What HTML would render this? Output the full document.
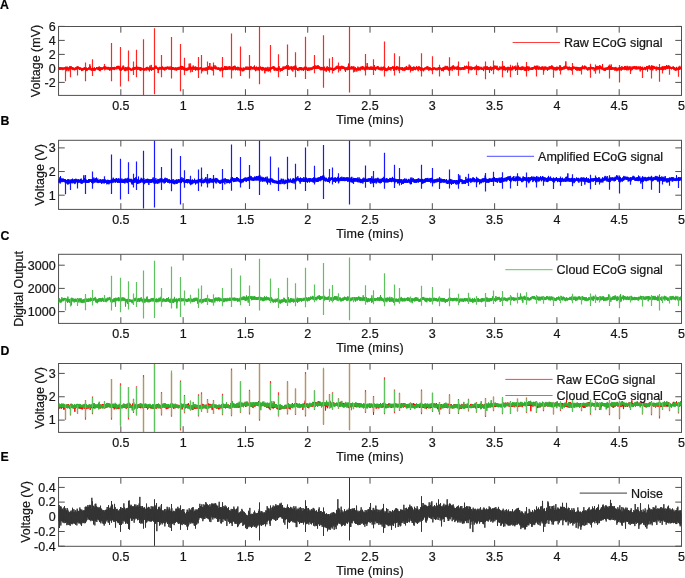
<!DOCTYPE html>
<html><head><meta charset="utf-8"><style>
html,body{margin:0;padding:0;background:#fff;}
body{width:685px;height:578px;position:relative;overflow:hidden;}
svg text{font-family:"Liberation Sans",sans-serif;font-size:12.5px;fill:#161616;stroke:#161616;stroke-width:0.22px;}
</style></head><body>
<svg width="685" height="578" viewBox="0 0 685 578" style="position:absolute;left:0;top:0;will-change:transform;filter:blur(0.25px)">
<rect x="58.55" y="26.5" width="622.95" height="68.90" fill="none" stroke="#505050" stroke-width="1"/>
<path d="M120.84 95.4v-6.2M120.84 26.5v6.2M183.14 95.4v-6.2M183.14 26.5v6.2M245.44 95.4v-6.2M245.44 26.5v6.2M307.73 95.4v-6.2M307.73 26.5v6.2M370.03 95.4v-6.2M370.03 26.5v6.2M432.32 95.4v-6.2M432.32 26.5v6.2M494.62 95.4v-6.2M494.62 26.5v6.2M556.91 95.4v-6.2M556.91 26.5v6.2M619.20 95.4v-6.2M619.20 26.5v6.2M681.50 95.4v-6.2M681.50 26.5v6.2M58.55 26.4h6.2M681.5 26.4h-6.2M58.55 40.4h6.2M681.5 40.4h-6.2M58.55 54.4h6.2M681.5 54.4h-6.2M58.55 68.4h6.2M681.5 68.4h-6.2M58.55 82.4h6.2M681.5 82.4h-6.2" stroke="#505050" stroke-width="1" fill="none"/>
<rect x="58.55" y="140.3" width="622.95" height="69.10" fill="none" stroke="#505050" stroke-width="1"/>
<path d="M120.84 209.4v-6.2M120.84 140.3v6.2M183.14 209.4v-6.2M183.14 140.3v6.2M245.44 209.4v-6.2M245.44 140.3v6.2M307.73 209.4v-6.2M307.73 140.3v6.2M370.03 209.4v-6.2M370.03 140.3v6.2M432.32 209.4v-6.2M432.32 140.3v6.2M494.62 209.4v-6.2M494.62 140.3v6.2M556.91 209.4v-6.2M556.91 140.3v6.2M619.20 209.4v-6.2M619.20 140.3v6.2M681.50 209.4v-6.2M681.50 140.3v6.2M58.55 147.9h6.2M681.5 147.9h-6.2M58.55 171.55h6.2M681.5 171.55h-6.2M58.55 195.2h6.2M681.5 195.2h-6.2" stroke="#505050" stroke-width="1" fill="none"/>
<rect x="58.55" y="254.3" width="622.95" height="69.10" fill="none" stroke="#505050" stroke-width="1"/>
<path d="M120.84 323.4v-6.2M120.84 254.3v6.2M183.14 323.4v-6.2M183.14 254.3v6.2M245.44 323.4v-6.2M245.44 254.3v6.2M307.73 323.4v-6.2M307.73 254.3v6.2M370.03 323.4v-6.2M370.03 254.3v6.2M432.32 323.4v-6.2M432.32 254.3v6.2M494.62 323.4v-6.2M494.62 254.3v6.2M556.91 323.4v-6.2M556.91 254.3v6.2M619.20 323.4v-6.2M619.20 254.3v6.2M681.50 323.4v-6.2M681.50 254.3v6.2M58.55 265.2h6.2M681.5 265.2h-6.2M58.55 288.4h6.2M681.5 288.4h-6.2M58.55 311.6h6.2M681.5 311.6h-6.2" stroke="#505050" stroke-width="1" fill="none"/>
<rect x="58.55" y="363.5" width="622.95" height="68.90" fill="none" stroke="#505050" stroke-width="1"/>
<path d="M120.84 432.4v-6.2M120.84 363.5v6.2M183.14 432.4v-6.2M183.14 363.5v6.2M245.44 432.4v-6.2M245.44 363.5v6.2M307.73 432.4v-6.2M307.73 363.5v6.2M370.03 432.4v-6.2M370.03 363.5v6.2M432.32 432.4v-6.2M432.32 363.5v6.2M494.62 432.4v-6.2M494.62 363.5v6.2M556.91 432.4v-6.2M556.91 363.5v6.2M619.20 432.4v-6.2M619.20 363.5v6.2M681.50 432.4v-6.2M681.50 363.5v6.2M58.55 373.4h6.2M681.5 373.4h-6.2M58.55 396.75h6.2M681.5 396.75h-6.2M58.55 420.1h6.2M681.5 420.1h-6.2" stroke="#505050" stroke-width="1" fill="none"/>
<rect x="58.55" y="477.5" width="622.95" height="68.80" fill="none" stroke="#505050" stroke-width="1"/>
<path d="M120.84 546.3v-6.2M120.84 477.5v6.2M183.14 546.3v-6.2M183.14 477.5v6.2M245.44 546.3v-6.2M245.44 477.5v6.2M307.73 546.3v-6.2M307.73 477.5v6.2M370.03 546.3v-6.2M370.03 477.5v6.2M432.32 546.3v-6.2M432.32 477.5v6.2M494.62 546.3v-6.2M494.62 477.5v6.2M556.91 546.3v-6.2M556.91 477.5v6.2M619.20 546.3v-6.2M619.20 477.5v6.2M681.50 546.3v-6.2M681.50 477.5v6.2M58.55 487.4h6.2M681.5 487.4h-6.2M58.55 502.1h6.2M681.5 502.1h-6.2M58.55 516.8h6.2M681.5 516.8h-6.2M58.55 531.5h6.2M681.5 531.5h-6.2M58.55 546.2h6.2M681.5 546.2h-6.2" stroke="#505050" stroke-width="1" fill="none"/>
<polyline fill="none" stroke="#ff0000" stroke-width="1.0" stroke-linejoin="round" points="58.85,69.7 59.18,67.3 59.52,69.8 59.85,67.1 60.18,69.9 60.52,67.5 60.85,69.6 61.18,67.3 61.52,69.5 61.85,67.7 62.18,69.4 62.52,67.5 62.85,70.2 63.18,68.2 63.52,69.5 63.85,67.3 64.18,69.0 64.52,67.5 64.85,69.7 65.18,67.4 65.52,68.7 65.85,66.6 66.18,69.6 66.52,67.1 66.85,71.2 67.18,66.6 67.52,69.6 67.85,67.5 68.18,69.3 68.52,67.8 68.85,71.2 69.18,67.0 69.52,69.4 69.85,66.0 70.18,69.3 70.52,66.6 70.85,69.0 71.18,66.2 71.52,68.9 71.85,67.5 72.18,70.1 72.52,67.2 72.85,69.4 73.18,67.4 73.52,69.8 73.85,67.9 74.18,70.2 74.52,68.2 74.85,70.3 75.18,67.5 75.52,69.6 75.85,67.2 76.18,69.7 76.52,67.0 76.85,69.3 77.18,66.2 77.52,69.0 77.85,66.6 78.18,69.3 78.52,66.7 78.85,68.8 79.18,67.2 79.52,70.0 79.85,67.4 80.18,69.4 80.52,67.6 80.85,69.8 81.18,67.8 81.52,71.1 81.85,68.2 82.18,70.9 82.52,68.2 82.85,70.3 83.18,67.9 83.52,70.2 83.85,67.7 84.18,69.8 84.52,67.1 84.85,70.0 85.18,67.8 85.52,70.3 85.85,68.2 86.18,71.1 86.52,67.5 86.85,70.4 87.18,68.0 87.52,70.5 87.85,68.0 88.18,69.8 88.52,67.5 88.85,69.8 89.18,67.5 89.52,69.4 89.85,64.3 90.18,70.3 90.52,66.4 90.85,69.8 91.18,68.2 91.52,70.7 91.85,68.0 92.18,70.3 92.52,67.7 92.85,69.9 93.18,67.9 93.52,70.7 93.85,67.9 94.18,70.6 94.52,67.4 94.85,70.9 95.18,68.0 95.52,70.1 95.85,68.1 96.18,69.4 96.52,67.0 96.85,69.1 97.18,67.4 97.52,69.5 97.85,67.4 98.18,70.1 98.52,67.0 98.85,70.2 99.18,66.4 99.52,71.0 99.85,67.5 100.18,71.2 100.52,67.0 100.85,70.1 101.18,67.4 101.52,70.0 101.85,67.4 102.18,70.0 102.52,67.7 102.85,69.4 103.18,67.0 103.52,68.9 103.85,66.5 104.18,68.9 104.52,66.3 104.85,68.7 105.18,66.4 105.52,69.5 105.85,66.5 106.18,69.2 106.52,67.4 106.85,69.4 107.18,66.9 107.52,69.4 107.85,67.2 108.18,69.4 108.52,66.9 108.85,69.8 109.18,67.3 109.52,70.5 109.85,67.5 110.18,70.2 110.52,67.1 110.85,70.3 111.18,67.6 111.52,70.7 111.85,67.6 112.18,69.5 112.52,67.0 112.85,69.4 113.18,67.2 113.52,69.5 113.85,67.0 114.18,70.1 114.52,66.9 114.85,69.4 115.18,67.7 115.52,69.2 115.85,67.1 116.18,68.2 116.52,66.4 116.85,69.5 117.18,66.1 117.52,68.6 117.85,65.8 118.18,68.4 118.52,65.9 118.85,69.2 119.18,67.7 119.52,70.1 119.85,65.9 120.18,70.6 120.52,67.9 120.85,70.5 121.18,68.3 121.52,70.5 121.85,67.5 122.18,69.9 122.52,66.6 122.85,69.7 123.18,65.5 123.52,68.9 123.85,66.5 124.18,70.4 124.52,68.1 124.85,71.1 125.18,67.3 125.52,71.1 125.85,67.0 126.18,70.6 126.52,67.6 126.85,70.1 127.18,68.0 127.52,70.4 127.85,66.7 128.18,70.0 128.52,67.7 128.85,69.8 129.18,67.4 129.52,69.7 129.85,67.8 130.18,70.1 130.52,68.1 130.85,70.7 131.18,69.0 131.52,70.6 131.85,68.5 132.18,70.5 132.52,67.7 132.85,70.0 133.18,67.9 133.52,69.8 133.85,67.1 134.18,69.6 134.52,67.1 134.85,70.0 135.18,66.9 135.52,69.3 135.85,67.0 136.18,68.8 136.52,65.3 136.85,69.2 137.18,67.2 137.52,69.9 137.85,66.7 138.18,69.6 138.52,67.1 138.85,69.5 139.18,67.8 139.52,69.9 139.85,66.9 140.18,71.0 140.52,67.4 140.85,70.8 141.18,67.5 141.52,69.7 141.85,67.9 142.18,70.1 142.52,68.4 142.85,70.1 143.18,67.9 143.52,70.8 143.85,68.3 144.18,70.8 144.52,68.4 144.85,70.1 145.18,68.0 145.52,70.1 145.85,67.6 146.18,70.7 146.52,67.1 146.85,69.4 147.18,66.8 147.52,69.4 147.85,67.7 148.18,70.4 148.52,67.5 148.85,70.0 149.18,68.1 149.52,71.4 149.85,65.7 150.18,69.9 150.52,67.4 150.85,70.1 151.18,64.9 151.52,70.8 151.85,67.5 152.18,70.1 152.52,67.6 152.85,69.9 153.18,67.7 153.52,69.8 153.85,67.5 154.18,68.9 154.52,66.4 154.85,69.2 155.18,66.2 155.52,68.4 155.85,65.5 156.18,68.5 156.52,66.5 156.85,69.0 157.18,67.4 157.52,69.8 157.85,67.4 158.18,73.1 158.52,67.8 158.85,70.2 159.18,67.7 159.52,69.6 159.85,66.8 160.18,68.9 160.52,67.0 160.85,69.8 161.18,67.7 161.52,69.6 161.85,66.8 162.18,69.2 162.52,66.5 162.85,69.7 163.18,67.1 163.52,69.7 163.85,67.6 164.18,70.2 164.52,67.7 164.85,70.5 165.18,66.8 165.52,69.3 165.85,67.1 166.18,69.8 166.52,67.2 166.85,69.1 167.18,66.4 167.52,69.1 167.85,66.8 168.18,69.1 168.52,66.8 168.85,69.7 169.18,67.4 169.52,69.4 169.85,66.5 170.18,69.7 170.52,67.6 170.85,69.5 171.18,66.2 171.52,70.2 171.85,67.1 172.18,69.9 172.52,67.1 172.85,69.9 173.18,67.1 173.52,69.5 173.85,67.5 174.18,69.8 174.52,67.9 174.85,70.3 175.18,67.6 175.52,69.9 175.85,67.3 176.18,70.7 176.52,67.9 176.85,70.3 177.18,67.6 177.52,69.8 177.85,67.2 178.18,69.9 178.52,67.5 178.85,69.8 179.18,66.7 179.52,69.5 179.85,67.2 180.18,68.9 180.52,66.2 180.85,68.8 181.18,65.8 181.52,69.7 181.85,66.0 182.18,69.8 182.52,66.0 182.85,69.2 183.18,66.6 183.52,70.1 183.85,67.1 184.18,69.9 184.52,67.5 184.85,70.6 185.18,68.3 185.52,70.3 185.85,67.7 186.18,70.1 186.52,68.2 186.85,71.0 187.18,68.7 187.52,70.2 187.85,67.5 188.18,70.2 188.52,67.6 188.85,70.0 189.18,63.6 189.52,69.4 189.85,67.5 190.18,69.4 190.52,66.4 190.85,69.2 191.18,67.2 191.52,69.8 191.85,66.8 192.18,71.9 192.52,66.9 192.85,69.1 193.18,65.5 193.52,69.8 193.85,66.8 194.18,69.6 194.52,67.0 194.85,69.7 195.18,66.5 195.52,70.6 195.85,66.7 196.18,69.9 196.52,67.3 196.85,70.1 197.18,67.0 197.52,70.1 197.85,67.8 198.18,70.4 198.52,67.9 198.85,70.1 199.18,67.9 199.52,69.5 199.85,67.3 200.18,69.2 200.52,67.2 200.85,69.5 201.18,67.3 201.52,69.7 201.85,67.6 202.18,71.0 202.52,68.0 202.85,71.3 203.18,68.4 203.52,70.0 203.85,67.7 204.18,69.8 204.52,68.0 204.85,70.7 205.18,67.6 205.52,70.4 205.85,67.7 206.18,70.6 206.52,67.4 206.85,70.4 207.18,68.3 207.52,70.0 207.85,67.7 208.18,69.8 208.52,66.0 208.85,69.6 209.18,67.1 209.52,69.2 209.85,63.0 210.18,69.8 210.52,67.7 210.85,69.6 211.18,66.6 211.52,69.7 211.85,66.8 212.18,70.7 212.52,67.4 212.85,70.1 213.18,66.7 213.52,68.9 213.85,65.1 214.18,68.5 214.52,66.8 214.85,69.0 215.18,65.4 215.52,69.3 215.85,66.7 216.18,69.1 216.52,66.7 216.85,69.5 217.18,67.4 217.52,69.6 217.85,67.8 218.18,69.9 218.52,67.4 218.85,69.9 219.18,67.7 219.52,70.3 219.85,67.8 220.18,71.3 220.52,68.0 220.85,70.2 221.18,67.2 221.52,69.9 221.85,67.5 222.18,71.1 222.52,68.3 222.85,70.7 223.18,68.2 223.52,69.9 223.85,67.6 224.18,69.9 224.52,66.1 224.85,69.5 225.18,67.0 225.52,70.1 225.85,66.0 226.18,70.0 226.52,66.7 226.85,70.0 227.18,66.6 227.52,69.8 227.85,66.9 228.18,69.6 228.52,66.8 228.85,69.2 229.18,66.1 229.52,69.5 229.85,66.0 230.18,69.5 230.52,67.0 230.85,69.5 231.18,67.1 231.52,69.6 231.85,67.0 232.18,70.3 232.52,67.0 232.85,70.1 233.18,66.0 233.52,70.2 233.85,66.2 234.18,68.4 234.52,65.8 234.85,69.7 235.18,65.8 235.52,70.3 235.85,67.3 236.18,69.8 236.52,67.5 236.85,69.7 237.18,67.2 237.52,70.2 237.85,66.7 238.18,70.3 238.52,67.1 238.85,69.5 239.18,67.4 239.52,70.4 239.85,67.8 240.18,70.2 240.52,67.5 240.85,70.3 241.18,67.8 241.52,70.1 241.85,67.8 242.18,71.3 242.52,68.8 242.85,71.2 243.18,67.6 243.52,71.1 243.85,67.7 244.18,70.5 244.52,68.3 244.85,70.0 245.18,67.5 245.52,69.4 245.85,66.6 246.18,69.8 246.52,66.8 246.85,69.7 247.18,67.8 247.52,69.5 247.85,66.5 248.18,69.8 248.52,67.0 248.85,70.0 249.18,66.9 249.52,70.0 249.85,67.1 250.18,69.4 250.52,66.3 250.85,70.2 251.18,66.3 251.52,68.6 251.85,66.9 252.18,68.9 252.52,67.1 252.85,69.6 253.18,67.0 253.52,69.1 253.85,66.5 254.18,69.3 254.52,65.5 254.85,70.1 255.18,67.5 255.52,71.2 255.85,67.0 256.18,69.2 256.52,66.6 256.85,70.6 257.18,67.8 257.52,70.0 257.85,67.0 258.18,70.2 258.52,66.9 258.85,70.4 259.18,67.7 259.52,71.0 259.85,67.7 260.18,69.6 260.52,66.5 260.85,69.3 261.18,67.1 261.52,70.1 261.85,67.3 262.18,70.9 262.52,66.9 262.85,69.6 263.18,67.1 263.52,70.2 263.85,67.6 264.18,70.1 264.52,67.9 264.85,73.3 265.18,67.9 265.52,70.9 265.85,67.4 266.18,71.2 266.52,67.8 266.85,70.6 267.18,68.2 267.52,70.5 267.85,66.8 268.18,71.6 268.52,68.6 268.85,70.6 269.18,67.2 269.52,71.1 269.85,68.0 270.18,70.6 270.52,67.3 270.85,69.7 271.18,67.1 271.52,69.2 271.85,66.9 272.18,69.0 272.52,66.7 272.85,68.8 273.18,66.3 273.52,69.3 273.85,66.1 274.18,70.7 274.52,66.9 274.85,70.4 275.18,67.5 275.52,70.0 275.85,67.9 276.18,70.9 276.52,67.9 276.85,70.2 277.18,67.8 277.52,70.8 277.85,67.8 278.18,70.4 278.52,66.3 278.85,69.8 279.18,66.3 279.52,70.0 279.85,68.0 280.18,71.7 280.52,68.3 280.85,71.0 281.18,68.1 281.52,70.5 281.85,67.9 282.18,71.0 282.52,67.6 282.85,69.7 283.18,66.4 283.52,69.8 283.85,67.3 284.18,69.3 284.52,66.7 284.85,69.1 285.18,66.4 285.52,68.8 285.85,66.3 286.18,69.1 286.52,65.3 286.85,68.1 287.18,65.9 287.52,69.3 287.85,67.0 288.18,69.5 288.52,65.4 288.85,69.8 289.18,66.5 289.52,69.4 289.85,67.2 290.18,69.2 290.52,66.8 290.85,69.2 291.18,66.1 291.52,70.3 291.85,66.9 292.18,69.6 292.52,67.1 292.85,71.5 293.18,66.1 293.52,69.3 293.85,67.2 294.18,69.3 294.52,66.2 294.85,70.0 295.18,65.3 295.52,69.1 295.85,65.6 296.18,69.8 296.52,67.4 296.85,69.8 297.18,67.9 297.52,70.8 297.85,68.1 298.18,69.9 298.52,68.1 298.85,70.8 299.18,67.2 299.52,69.9 299.85,67.1 300.18,70.1 300.52,67.2 300.85,70.0 301.18,67.1 301.52,70.3 301.85,67.4 302.18,70.3 302.52,68.1 302.85,70.0 303.18,67.7 303.52,71.0 303.85,67.7 304.18,69.9 304.52,66.8 304.85,69.4 305.18,66.8 305.52,69.5 305.85,67.2 306.18,69.7 306.52,66.8 306.85,70.2 307.18,67.6 307.52,70.9 307.85,68.5 308.18,70.4 308.52,67.6 308.85,70.6 309.18,67.8 309.52,70.3 309.85,67.5 310.18,70.3 310.52,67.9 310.85,69.8 311.18,67.1 311.52,70.1 311.85,68.0 312.18,69.8 312.52,67.4 312.85,69.2 313.18,66.2 313.52,68.7 313.85,66.0 314.18,68.3 314.52,65.3 314.85,68.8 315.18,65.3 315.52,68.8 315.85,66.3 316.18,69.1 316.52,65.8 316.85,68.7 317.18,65.7 317.52,68.6 317.85,65.3 318.18,68.9 318.52,65.6 318.85,68.7 319.18,66.2 319.52,69.3 319.85,66.8 320.18,69.5 320.52,67.2 320.85,70.4 321.18,67.2 321.52,69.7 321.85,66.9 322.18,70.3 322.52,67.4 322.85,69.3 323.18,67.0 323.52,70.5 323.85,67.5 324.18,70.4 324.52,66.7 324.85,70.6 325.18,67.8 325.52,70.3 325.85,68.5 326.18,71.8 326.52,67.2 326.85,70.4 327.18,66.2 327.52,69.9 327.85,67.7 328.18,70.6 328.52,67.2 328.85,70.7 329.18,68.1 329.52,69.9 329.85,68.1 330.18,69.7 330.52,67.6 330.85,70.1 331.18,67.9 331.52,70.1 331.85,67.7 332.18,69.6 332.52,67.8 332.85,70.4 333.18,68.3 333.52,71.0 333.85,68.4 334.18,70.4 334.52,67.7 334.85,69.9 335.18,68.2 335.52,69.5 335.85,66.6 336.18,69.3 336.52,66.4 336.85,68.9 337.18,65.6 337.52,68.5 337.85,66.4 338.18,68.7 338.52,67.1 338.85,69.3 339.18,66.1 339.52,68.8 339.85,66.9 340.18,70.8 340.52,66.5 340.85,69.5 341.18,66.2 341.52,68.5 341.85,65.7 342.18,69.0 342.52,66.4 342.85,69.1 343.18,66.1 343.52,68.9 343.85,67.1 344.18,69.0 344.52,66.8 344.85,70.4 345.18,67.2 345.52,72.0 345.85,67.8 346.18,69.5 346.52,67.5 346.85,70.1 347.18,67.3 347.52,70.2 347.85,66.5 348.18,69.4 348.52,63.6 348.85,70.0 349.18,66.9 349.52,70.0 349.85,66.7 350.18,69.4 350.52,67.5 350.85,69.3 351.18,66.7 351.52,69.2 351.85,66.0 352.18,69.4 352.52,66.9 352.85,69.2 353.18,67.3 353.52,69.1 353.85,66.3 354.18,70.4 354.52,67.7 354.85,71.8 355.18,67.0 355.52,70.2 355.85,68.0 356.18,70.3 356.52,68.5 356.85,71.6 357.18,68.3 357.52,69.9 357.85,66.6 358.18,70.5 358.52,67.6 358.85,70.5 359.18,67.9 359.52,70.0 359.85,67.3 360.18,70.7 360.52,66.9 360.85,69.7 361.18,66.6 361.52,69.1 361.85,66.7 362.18,69.7 362.52,66.2 362.85,69.4 363.18,66.4 363.52,69.1 363.85,67.2 364.18,70.2 364.52,67.7 364.85,70.4 365.18,66.7 365.52,69.4 365.85,67.2 366.18,69.7 366.52,66.4 366.85,69.4 367.18,63.1 367.52,69.4 367.85,66.5 368.18,69.5 368.52,67.0 368.85,69.4 369.18,67.8 369.52,69.7 369.85,66.8 370.18,69.8 370.52,66.6 370.85,69.4 371.18,67.2 371.52,69.7 371.85,66.3 372.18,69.7 372.52,67.4 372.85,70.0 373.18,67.1 373.52,69.6 373.85,67.2 374.18,70.1 374.52,65.2 374.85,69.6 375.18,67.4 375.52,70.6 375.85,67.0 376.18,69.4 376.52,66.9 376.85,68.8 377.18,66.3 377.52,68.7 377.85,66.0 378.18,69.7 378.52,66.7 378.85,69.5 379.18,67.2 379.52,69.9 379.85,68.0 380.18,70.4 380.52,67.6 380.85,70.1 381.18,66.7 381.52,70.2 381.85,68.2 382.18,70.6 382.52,67.4 382.85,70.1 383.18,66.8 383.52,69.5 383.85,66.5 384.18,69.4 384.52,67.5 384.85,71.1 385.18,67.5 385.52,70.8 385.85,68.2 386.18,70.9 386.52,68.6 386.85,71.2 387.18,68.1 387.52,70.4 387.85,67.5 388.18,70.2 388.52,66.3 388.85,70.1 389.18,67.5 389.52,69.8 389.85,67.5 390.18,69.5 390.52,67.1 390.85,70.6 391.18,67.2 391.52,69.2 391.85,66.9 392.18,68.8 392.52,66.4 392.85,68.8 393.18,66.5 393.52,70.5 393.85,66.6 394.18,70.5 394.52,66.2 394.85,69.1 395.18,67.0 395.52,69.4 395.85,66.9 396.18,70.2 396.52,66.2 396.85,70.1 397.18,66.1 397.52,69.1 397.85,67.1 398.18,68.9 398.52,66.8 398.85,70.7 399.18,67.2 399.52,69.1 399.85,67.3 400.18,69.5 400.52,67.6 400.85,69.6 401.18,67.3 401.52,70.1 401.85,67.7 402.18,70.0 402.52,67.2 402.85,70.8 403.18,67.7 403.52,69.9 403.85,67.9 404.18,71.1 404.52,67.4 404.85,70.0 405.18,67.9 405.52,70.3 405.85,66.7 406.18,70.0 406.52,66.2 406.85,69.7 407.18,67.7 407.52,69.7 407.85,66.9 408.18,70.1 408.52,66.9 408.85,69.7 409.18,64.6 409.52,69.4 409.85,67.3 410.18,69.5 410.52,66.1 410.85,71.0 411.18,67.0 411.52,69.4 411.85,67.4 412.18,70.6 412.52,67.2 412.85,70.5 413.18,67.4 413.52,70.3 413.85,66.3 414.18,69.6 414.52,67.0 414.85,69.8 415.18,67.2 415.52,70.2 415.85,67.6 416.18,69.4 416.52,66.2 416.85,69.2 417.18,67.2 417.52,69.7 417.85,66.8 418.18,71.2 418.52,66.6 418.85,68.7 419.18,66.3 419.52,69.6 419.85,67.0 420.18,69.9 420.52,67.2 420.85,70.9 421.18,67.6 421.52,70.4 421.85,68.0 422.18,70.3 422.52,67.7 422.85,70.3 423.18,68.3 423.52,71.3 423.85,68.3 424.18,70.0 424.52,67.8 424.85,70.3 425.18,67.4 425.52,69.1 425.85,67.2 426.18,69.2 426.52,66.7 426.85,69.6 427.18,66.5 427.52,69.5 427.85,66.2 428.18,69.2 428.52,67.5 428.85,70.8 429.18,67.4 429.52,70.0 429.85,67.2 430.18,69.7 430.52,67.7 430.85,70.2 431.18,68.0 431.52,70.3 431.85,68.1 432.18,70.3 432.52,67.8 432.85,69.8 433.18,68.2 433.52,70.1 433.85,67.1 434.18,69.4 434.52,67.5 434.85,69.5 435.18,67.8 435.52,70.2 435.85,67.8 436.18,69.6 436.52,67.9 436.85,70.4 437.18,67.9 437.52,70.2 437.85,67.7 438.18,70.0 438.52,67.0 438.85,69.2 439.18,67.2 439.52,69.9 439.85,67.6 440.18,69.4 440.52,67.6 440.85,69.4 441.18,67.9 441.52,71.1 441.85,68.0 442.18,70.0 442.52,67.8 442.85,71.0 443.18,67.2 443.52,71.3 443.85,66.9 444.18,70.0 444.52,67.2 444.85,69.7 445.18,65.8 445.52,69.3 445.85,66.6 446.18,69.6 446.52,66.5 446.85,69.2 447.18,65.9 447.52,69.6 447.85,66.8 448.18,70.2 448.52,68.0 448.85,70.8 449.18,66.9 449.52,70.7 449.85,67.5 450.18,70.3 450.52,66.9 450.85,69.8 451.18,67.5 451.52,69.1 451.85,66.4 452.18,70.8 452.52,66.1 452.85,69.4 453.18,65.1 453.52,68.8 453.85,66.1 454.18,69.7 454.52,66.9 454.85,69.3 455.18,66.7 455.52,69.1 455.85,67.1 456.18,68.7 456.52,66.7 456.85,70.0 457.18,67.3 457.52,69.6 457.85,65.8 458.18,69.3 458.52,66.4 458.85,69.4 459.18,67.3 459.52,69.6 459.85,67.2 460.18,70.2 460.52,67.6 460.85,70.0 461.18,67.8 461.52,69.9 461.85,67.2 462.18,69.8 462.52,67.1 462.85,69.2 463.18,67.1 463.52,69.9 463.85,67.1 464.18,69.1 464.52,65.8 464.85,69.9 465.18,66.7 465.52,68.4 465.85,66.1 466.18,68.5 466.52,65.7 466.85,68.6 467.18,66.5 467.52,68.9 467.85,66.5 468.18,68.9 468.52,65.6 468.85,70.2 469.18,66.6 469.52,69.0 469.85,66.4 470.18,70.2 470.52,66.8 470.85,69.1 471.18,66.6 471.52,70.2 471.85,66.8 472.18,69.8 472.52,67.0 472.85,69.3 473.18,67.2 473.52,69.0 473.85,67.0 474.18,69.0 474.52,67.2 474.85,70.1 475.18,66.4 475.52,69.2 475.85,66.7 476.18,69.3 476.52,66.4 476.85,69.1 477.18,66.9 477.52,70.0 477.85,66.0 478.18,70.3 478.52,66.4 478.85,69.6 479.18,67.1 479.52,69.6 479.85,66.6 480.18,69.4 480.52,67.5 480.85,69.2 481.18,67.1 481.52,69.7 481.85,66.8 482.18,69.7 482.52,68.1 482.85,69.8 483.18,68.0 483.52,71.1 483.85,66.6 484.18,69.1 484.52,66.7 484.85,69.4 485.18,66.9 485.52,69.7 485.85,66.2 486.18,69.6 486.52,66.8 486.85,70.0 487.18,66.1 487.52,69.6 487.85,67.2 488.18,69.9 488.52,67.4 488.85,69.6 489.18,66.9 489.52,72.8 489.85,67.5 490.18,69.9 490.52,66.5 490.85,69.9 491.18,66.8 491.52,70.7 491.85,67.5 492.18,69.6 492.52,67.2 492.85,69.4 493.18,66.8 493.52,68.9 493.85,66.8 494.18,69.6 494.52,65.6 494.85,67.7 495.18,66.1 495.52,69.0 495.85,65.6 496.18,69.0 496.52,66.5 496.85,69.9 497.18,65.8 497.52,69.6 497.85,68.1 498.18,70.5 498.52,67.7 498.85,70.1 499.18,68.2 499.52,70.0 499.85,66.3 500.18,69.3 500.52,67.3 500.85,69.3 501.18,66.9 501.52,69.1 501.85,66.6 502.18,69.4 502.52,66.7 502.85,70.5 503.18,66.7 503.52,69.7 503.85,65.8 504.18,70.1 504.52,66.3 504.85,70.3 505.18,67.6 505.52,70.4 505.85,67.3 506.18,69.8 506.52,67.7 506.85,69.6 507.18,67.3 507.52,72.4 507.85,66.8 508.18,69.3 508.52,66.9 508.85,70.4 509.18,67.3 509.52,69.4 509.85,67.2 510.18,70.3 510.52,66.6 510.85,69.8 511.18,67.5 511.52,70.3 511.85,67.7 512.18,70.3 512.52,65.8 512.85,69.5 513.18,66.8 513.52,69.2 513.85,66.8 514.18,68.9 514.52,66.4 514.85,69.2 515.18,66.9 515.52,70.9 515.85,65.6 516.18,70.0 516.52,67.5 516.85,69.5 517.18,66.8 517.52,69.3 517.85,66.8 518.18,69.6 518.52,65.6 518.85,69.6 519.18,67.0 519.52,69.4 519.85,67.4 520.18,70.1 520.52,67.1 520.85,70.0 521.18,66.7 521.52,70.2 521.85,66.7 522.18,69.9 522.52,66.5 522.85,70.0 523.18,66.8 523.52,69.2 523.85,66.7 524.18,70.4 524.52,67.6 524.85,70.7 525.18,66.9 525.52,70.9 525.85,67.5 526.18,71.1 526.52,66.0 526.85,69.8 527.18,66.2 527.52,69.2 527.85,66.8 528.18,70.9 528.52,66.7 528.85,70.5 529.18,66.6 529.52,69.8 529.85,67.5 530.18,69.5 530.52,67.8 530.85,69.9 531.18,67.9 531.52,70.0 531.85,67.2 532.18,70.0 532.52,67.1 532.85,69.9 533.18,67.0 533.52,69.0 533.85,66.8 534.18,69.1 534.52,65.8 534.85,68.6 535.18,66.1 535.52,69.7 535.85,65.9 536.18,68.9 536.52,66.4 536.85,69.4 537.18,66.3 537.52,68.7 537.85,65.6 538.18,69.9 538.52,67.3 538.85,69.5 539.18,66.5 539.52,69.2 539.85,66.8 540.18,69.6 540.52,67.1 540.85,69.5 541.18,67.0 541.52,69.7 541.85,66.5 542.18,69.7 542.52,66.5 542.85,69.4 543.18,67.1 543.52,71.2 543.85,67.7 544.18,70.5 544.52,66.7 544.85,69.2 545.18,66.7 545.52,69.5 545.85,66.5 546.18,69.6 546.52,67.4 546.85,69.6 547.18,67.3 547.52,70.8 547.85,67.2 548.18,69.9 548.52,67.7 548.85,69.5 549.18,66.2 549.52,69.4 549.85,66.3 550.18,69.2 550.52,66.4 550.85,68.9 551.18,66.6 551.52,68.8 551.85,65.2 552.18,69.7 552.52,66.2 552.85,68.9 553.18,67.2 553.52,69.3 553.85,67.8 554.18,70.3 554.52,67.4 554.85,69.8 555.18,67.5 555.52,70.4 555.85,67.0 556.18,70.2 556.52,66.8 556.85,70.4 557.18,66.7 557.52,69.8 557.85,67.2 558.18,69.3 558.52,67.0 558.85,69.2 559.18,66.7 559.52,70.5 559.85,65.2 560.18,69.7 560.52,66.3 560.85,69.5 561.18,67.3 561.52,70.3 561.85,67.0 562.18,69.9 562.52,67.2 562.85,69.6 563.18,67.1 563.52,69.2 563.85,66.4 564.18,69.4 564.52,66.6 564.85,69.0 565.18,65.5 565.52,68.4 565.85,61.4 566.18,68.7 566.52,66.6 566.85,68.5 567.18,66.7 567.52,69.3 567.85,66.8 568.18,70.3 568.52,67.0 568.85,69.7 569.18,66.6 569.52,69.5 569.85,66.9 570.18,70.2 570.52,67.4 570.85,70.0 571.18,67.2 571.52,70.6 571.85,67.4 572.18,69.6 572.52,66.5 572.85,69.4 573.18,66.5 573.52,69.1 573.85,66.5 574.18,68.8 574.52,66.9 574.85,68.7 575.18,66.9 575.52,70.0 575.85,66.9 576.18,69.6 576.52,66.9 576.85,70.7 577.18,66.9 577.52,70.4 577.85,67.0 578.18,69.9 578.52,67.1 578.85,70.6 579.18,67.5 579.52,70.5 579.85,67.3 580.18,70.8 580.52,67.2 580.85,70.0 581.18,67.4 581.52,69.6 581.85,67.1 582.18,69.1 582.52,65.5 582.85,69.3 583.18,66.7 583.52,68.9 583.85,66.5 584.18,68.9 584.52,65.7 584.85,69.4 585.18,65.8 585.52,68.3 585.85,66.7 586.18,68.6 586.52,66.8 586.85,69.9 587.18,67.6 587.52,70.4 587.85,67.7 588.18,70.3 588.52,67.2 588.85,69.3 589.18,67.5 589.52,69.5 589.85,67.1 590.18,70.3 590.52,65.8 590.85,69.4 591.18,66.8 591.52,68.9 591.85,67.0 592.18,69.2 592.52,67.1 592.85,69.5 593.18,67.1 593.52,68.8 593.85,67.4 594.18,71.2 594.52,68.0 594.85,69.3 595.18,67.4 595.52,69.7 595.85,67.0 596.18,68.8 596.52,66.1 596.85,70.3 597.18,66.6 597.52,69.1 597.85,65.9 598.18,69.6 598.52,66.4 598.85,69.0 599.18,67.0 599.52,69.0 599.85,65.0 600.18,69.2 600.52,66.0 600.85,69.0 601.18,66.8 601.52,69.2 601.85,66.6 602.18,70.1 602.52,64.1 602.85,69.0 603.18,67.7 603.52,70.2 603.85,68.3 604.18,70.8 604.52,67.9 604.85,70.8 605.18,67.6 605.52,70.7 605.85,67.8 606.18,69.7 606.52,67.7 606.85,70.0 607.18,66.9 607.52,69.5 607.85,67.1 608.18,69.8 608.52,65.8 608.85,69.2 609.18,66.0 609.52,69.4 609.85,66.6 610.18,69.8 610.52,66.1 610.85,70.0 611.18,64.5 611.52,69.8 611.85,67.2 612.18,69.6 612.52,67.3 612.85,69.5 613.18,67.5 613.52,69.5 613.85,67.4 614.18,69.7 614.52,67.6 614.85,70.7 615.18,67.3 615.52,70.3 615.85,66.9 616.18,70.0 616.52,67.8 616.85,71.2 617.18,68.2 617.52,70.4 617.85,67.7 618.18,69.8 618.52,67.6 618.85,70.5 619.18,68.0 619.52,70.1 619.85,66.9 620.18,70.4 620.52,67.1 620.85,69.7 621.18,67.7 621.52,70.5 621.85,66.0 622.18,69.6 622.52,67.4 622.85,69.8 623.18,67.1 623.52,69.0 623.85,67.1 624.18,70.1 624.52,66.1 624.85,69.3 625.18,66.5 625.52,69.6 625.85,66.0 626.18,70.0 626.52,67.4 626.85,70.4 627.18,65.8 627.52,69.5 627.85,66.8 628.18,70.3 628.52,66.8 628.85,69.9 629.18,66.7 629.52,69.3 629.85,66.3 630.18,69.5 630.52,67.5 630.85,71.2 631.18,68.0 631.52,69.4 631.85,66.6 632.18,70.1 632.52,66.7 632.85,69.3 633.18,66.8 633.52,69.0 633.85,66.2 634.18,68.3 634.52,66.2 634.85,69.2 635.18,66.3 635.52,69.3 635.85,66.6 636.18,68.6 636.52,66.3 636.85,69.7 637.18,66.8 637.52,69.0 637.85,66.6 638.18,69.4 638.52,66.7 638.85,68.7 639.18,66.7 639.52,69.3 639.85,66.7 640.18,71.4 640.52,66.5 640.85,69.3 641.18,67.0 641.52,70.1 641.85,67.4 642.18,69.6 642.52,67.5 642.85,69.7 643.18,68.0 643.52,70.1 643.85,67.6 644.18,69.8 644.52,66.9 644.85,69.2 645.18,67.4 645.52,70.2 645.85,67.0 646.18,69.1 646.52,66.1 646.85,69.5 647.18,66.4 647.52,71.5 647.85,66.1 648.18,69.1 648.52,66.5 648.85,68.5 649.18,65.1 649.52,68.6 649.85,66.0 650.18,70.1 650.52,67.2 650.85,69.2 651.18,66.4 651.52,69.0 651.85,67.1 652.18,70.1 652.52,65.8 652.85,70.4 653.18,65.8 653.52,68.5 653.85,66.1 654.18,68.8 654.52,66.5 654.85,69.1 655.18,66.8 655.52,68.9 655.85,67.0 656.18,70.7 656.52,66.7 656.85,69.2 657.18,66.8 657.52,69.3 657.85,67.1 658.18,69.9 658.52,67.1 658.85,69.4 659.18,67.7 659.52,70.5 659.85,67.1 660.18,69.7 660.52,67.8 660.85,69.6 661.18,67.2 661.52,69.9 661.85,66.7 662.18,69.6 662.52,66.6 662.85,70.5 663.18,66.5 663.52,70.0 663.85,66.5 664.18,69.0 664.52,66.4 664.85,69.7 665.18,66.2 665.52,69.5 665.85,66.0 666.18,69.2 666.52,65.0 666.85,68.7 667.18,65.7 667.52,69.1 667.85,65.9 668.18,68.3 668.52,65.4 668.85,68.8 669.18,65.7 669.52,68.5 669.85,66.4 670.18,68.3 670.52,66.8 670.85,69.0 671.18,67.1 671.52,69.4 671.85,67.0 672.18,69.0 672.52,67.0 672.85,69.0 673.18,66.1 673.52,69.5 673.85,67.3 674.18,69.7 674.52,67.0 674.85,70.4 675.18,67.8 675.52,70.6 675.85,68.0 676.18,70.4 676.52,66.9 676.85,70.4 677.18,67.7 677.52,69.7 677.85,68.0 678.18,70.1 678.52,67.3 678.85,69.5 679.18,67.1 679.52,69.7 679.85,65.8 680.18,69.4 680.52,67.3 680.85,69.1 681.18,67.1"/>
<path d="M65.5 67.4V81.2M70.5 67.4V77.2M77.5 67.4V75.6M85.5 62.5V81.2M92.5 59.2V76.0M104.5 63.9V70.4M111.5 42.9V81.2M120.5 46.9V86.6M128.5 50.4V81.2M133.5 61.6V74.9M136.5 49.7V77.2M143.5 39.2V94.9M154.5 28.2V94.3M161.5 55.0V77.2M171.5 37.0V78.4M180.5 44.1V91.2M184.5 57.8V74.9M190.5 63.2V72.4M198.5 57.0V78.0M201.5 55.0V73.4M207.5 61.4V74.4M213.5 62.5V75.6M222.5 56.9V77.2M231.5 33.5V78.4M240.5 46.4V76.1M249.5 55.0V78.4M259.5 27.0V84.2M270.5 45.0V72.6M278.5 54.3V77.2M287.5 44.5V76.1M295.5 52.2V77.2M305.5 36.8V78.9M314.5 55.0V73.3M323.5 35.2V87.7M329.5 58.5V72.4M332.5 56.9V73.4M338.5 62.4V72.4M349.5 27.0V92.4M353.5 66.4V72.4M365.5 53.9V75.6M373.5 59.2V74.9M384.5 41.5V76.5M394.5 53.2V75.6M399.5 56.2V73.3M410.5 65.4V72.4M421.5 53.2V76.5M432.5 56.3V74.2M439.5 64.8V76.4M449.5 57.2V75.7M458.5 61.5V75.7M468.5 61.5V73.5M476.5 64.8V75.0M485.5 61.5V79.3M493.5 60.4V74.2M502.5 61.1V77.2M510.5 64.8V77.2M517.5 62.6V75.0M526.5 62.0V76.6M536.5 65.4V76.6M543.5 66.4V74.8M553.5 66.4V77.7M560.5 65.4V74.4M572.5 63.1V74.8M581.5 66.4V74.4M590.5 63.7V77.7M595.5 64.4V73.7M599.5 66.4V73.4M609.5 64.5V78.6M619.5 65.1V82.6M630.5 66.4V73.9M642.5 66.4V78.0M651.5 65.1V78.6M659.5 64.0V81.7M662.5 66.4V73.4M669.5 66.4V74.7M678.5 66.4V76.8" stroke="#ff0000" stroke-width="1.2" stroke-opacity="0.85" fill="none"/>
<polyline fill="none" stroke="#0000ff" stroke-width="1.0" stroke-linejoin="round" points="58.85,182.6 59.18,179.4 59.52,182.4 59.85,177.4 60.18,183.5 60.52,176.1 60.85,182.2 61.18,178.9 61.52,181.7 61.85,178.3 62.18,182.2 62.52,178.9 62.85,181.4 63.18,178.5 63.52,181.7 63.85,179.2 64.18,182.1 64.52,179.1 64.85,182.3 65.18,179.0 65.52,182.9 65.85,180.0 66.18,182.7 66.52,180.1 66.85,183.6 67.18,179.8 67.52,184.3 67.85,179.2 68.18,184.4 68.52,179.4 68.85,183.6 69.18,180.3 69.52,183.4 69.85,179.5 70.18,182.6 70.52,180.0 70.85,182.5 71.18,179.3 71.52,183.2 71.85,179.6 72.18,182.4 72.52,178.7 72.85,183.4 73.18,179.7 73.52,183.0 73.85,179.5 74.18,182.6 74.52,179.3 74.85,184.1 75.18,179.4 75.52,183.2 75.85,178.7 76.18,182.2 76.52,179.1 76.85,182.2 77.18,179.4 77.52,184.0 77.85,179.8 78.18,182.1 78.52,179.3 78.85,182.9 79.18,179.6 79.52,182.2 79.85,179.9 80.18,182.7 80.52,179.0 80.85,183.4 81.18,178.6 81.52,183.5 81.85,180.1 82.18,183.7 82.52,180.2 82.85,183.0 83.18,179.6 83.52,182.4 83.85,175.3 84.18,182.5 84.52,178.2 84.85,182.3 85.18,179.5 85.52,182.2 85.85,179.2 86.18,182.9 86.52,179.9 86.85,183.0 87.18,180.4 87.52,183.0 87.85,180.0 88.18,182.8 88.52,179.0 88.85,182.9 89.18,179.0 89.52,182.2 89.85,179.0 90.18,181.8 90.52,179.5 90.85,182.0 91.18,179.4 91.52,182.6 91.85,179.3 92.18,183.1 92.52,179.2 92.85,183.8 93.18,178.8 93.52,182.5 93.85,177.5 94.18,181.7 94.52,179.0 94.85,182.9 95.18,178.4 95.52,182.0 95.85,178.3 96.18,181.7 96.52,177.6 96.85,182.6 97.18,179.5 97.52,182.5 97.85,178.6 98.18,183.1 98.52,180.2 98.85,182.8 99.18,180.0 99.52,182.4 99.85,179.4 100.18,182.6 100.52,179.4 100.85,182.6 101.18,179.6 101.52,183.7 101.85,179.9 102.18,182.5 102.52,179.5 102.85,183.3 103.18,179.6 103.52,182.6 103.85,179.4 104.18,183.5 104.52,179.3 104.85,182.3 105.18,179.4 105.52,183.0 105.85,179.9 106.18,182.7 106.52,180.6 106.85,184.3 107.18,180.3 107.52,183.8 107.85,179.7 108.18,183.3 108.52,180.1 108.85,184.3 109.18,180.4 109.52,183.3 109.85,180.1 110.18,183.1 110.52,180.5 110.85,183.1 111.18,179.6 111.52,182.5 111.85,179.6 112.18,183.1 112.52,179.4 112.85,182.1 113.18,177.7 113.52,182.5 113.85,178.8 114.18,181.8 114.52,179.0 114.85,182.4 115.18,179.3 115.52,182.6 115.85,178.5 116.18,181.7 116.52,178.1 116.85,182.2 117.18,178.7 117.52,182.8 117.85,179.2 118.18,182.8 118.52,178.4 118.85,182.4 119.18,178.6 119.52,182.8 119.85,179.8 120.18,182.3 120.52,178.9 120.85,182.3 121.18,179.5 121.52,182.5 121.85,178.5 122.18,182.9 122.52,179.7 122.85,183.0 123.18,179.9 123.52,182.9 123.85,179.1 124.18,182.7 124.52,179.3 124.85,183.5 125.18,178.4 125.52,182.3 125.85,178.9 126.18,182.4 126.52,178.7 126.85,182.5 127.18,179.2 127.52,183.1 127.85,177.8 128.18,181.8 128.52,178.0 128.85,181.5 129.18,179.2 129.52,181.7 129.85,178.8 130.18,181.9 130.52,179.1 130.85,182.3 131.18,178.8 131.52,183.6 131.85,179.7 132.18,184.7 132.52,180.1 132.85,183.3 133.18,179.1 133.52,183.1 133.85,180.2 134.18,182.9 134.52,178.2 134.85,182.5 135.18,178.9 135.52,182.1 135.85,177.2 136.18,183.0 136.52,178.8 136.85,182.0 137.18,179.1 137.52,184.0 137.85,180.0 138.18,183.0 138.52,176.6 138.85,183.7 139.18,179.9 139.52,182.4 139.85,179.9 140.18,183.0 140.52,179.3 140.85,182.8 141.18,177.8 141.52,181.7 141.85,178.6 142.18,181.6 142.52,178.9 142.85,182.7 143.18,179.1 143.52,182.3 143.85,178.0 144.18,184.2 144.52,179.8 144.85,183.3 145.18,180.1 145.52,182.6 145.85,179.1 146.18,182.6 146.52,179.2 146.85,182.7 147.18,178.8 147.52,182.4 147.85,178.8 148.18,183.2 148.52,179.2 148.85,184.9 149.18,180.0 149.52,182.4 149.85,179.0 150.18,182.9 150.52,179.7 150.85,182.6 151.18,179.3 151.52,182.7 151.85,179.1 152.18,182.5 152.52,178.7 152.85,182.0 153.18,177.4 153.52,182.5 153.85,179.7 154.18,183.7 154.52,179.6 154.85,183.4 155.18,180.1 155.52,183.3 155.85,178.1 156.18,183.5 156.52,179.9 156.85,183.0 157.18,180.6 157.52,183.7 157.85,178.9 158.18,183.1 158.52,179.4 158.85,183.4 159.18,179.3 159.52,182.3 159.85,178.6 160.18,182.5 160.52,178.5 160.85,182.0 161.18,179.2 161.52,182.2 161.85,178.2 162.18,182.1 162.52,179.5 162.85,182.4 163.18,179.6 163.52,182.3 163.85,179.0 164.18,183.5 164.52,178.6 164.85,182.3 165.18,177.7 165.52,182.8 165.85,179.2 166.18,181.9 166.52,178.4 166.85,181.6 167.18,178.4 167.52,182.6 167.85,179.1 168.18,182.1 168.52,179.8 168.85,183.0 169.18,179.1 169.52,183.3 169.85,179.9 170.18,182.5 170.52,180.1 170.85,183.1 171.18,179.9 171.52,182.5 171.85,179.6 172.18,183.4 172.52,179.9 172.85,183.2 173.18,179.1 173.52,183.7 173.85,180.9 174.18,184.2 174.52,180.6 174.85,184.2 175.18,179.8 175.52,183.2 175.85,180.5 176.18,183.5 176.52,179.5 176.85,183.9 177.18,179.5 177.52,183.3 177.85,180.5 178.18,182.7 178.52,179.1 178.85,182.5 179.18,180.1 179.52,182.4 179.85,179.2 180.18,181.9 180.52,178.7 180.85,182.8 181.18,178.8 181.52,183.1 181.85,177.2 182.18,181.0 182.52,179.1 182.85,182.0 183.18,178.0 183.52,182.0 183.85,179.8 184.18,183.3 184.52,180.2 184.85,183.0 185.18,179.7 185.52,182.5 185.85,180.0 186.18,183.0 186.52,179.1 186.85,182.7 187.18,179.3 187.52,183.3 187.85,179.3 188.18,182.3 188.52,179.5 188.85,182.8 189.18,179.5 189.52,183.5 189.85,179.8 190.18,183.1 190.52,179.9 190.85,183.7 191.18,179.8 191.52,184.3 191.85,180.3 192.18,184.2 192.52,179.5 192.85,183.2 193.18,180.0 193.52,183.2 193.85,180.3 194.18,183.1 194.52,178.7 194.85,182.4 195.18,179.9 195.52,184.4 195.85,180.1 196.18,182.9 196.52,179.9 196.85,183.5 197.18,180.0 197.52,183.0 197.85,179.6 198.18,183.3 198.52,178.6 198.85,181.8 199.18,179.3 199.52,182.1 199.85,179.0 200.18,182.6 200.52,178.9 200.85,182.2 201.18,179.8 201.52,183.1 201.85,177.8 202.18,183.1 202.52,180.4 202.85,183.1 203.18,179.9 203.52,183.2 203.85,179.4 204.18,182.8 204.52,179.1 204.85,182.6 205.18,178.4 205.52,181.7 205.85,177.0 206.18,182.3 206.52,179.0 206.85,183.4 207.18,178.7 207.52,182.1 207.85,179.2 208.18,183.4 208.52,179.7 208.85,182.2 209.18,178.2 209.52,183.2 209.85,179.2 210.18,182.4 210.52,178.0 210.85,182.4 211.18,178.7 211.52,182.2 211.85,179.7 212.18,182.8 212.52,179.1 212.85,182.1 213.18,178.5 213.52,182.7 213.85,179.5 214.18,182.2 214.52,179.1 214.85,181.4 215.18,177.9 215.52,182.6 215.85,178.8 216.18,183.5 216.52,178.2 216.85,181.4 217.18,178.5 217.52,181.8 217.85,179.1 218.18,182.7 218.52,180.2 218.85,182.9 219.18,180.4 219.52,183.4 219.85,180.3 220.18,183.9 220.52,180.6 220.85,183.3 221.18,179.6 221.52,183.0 221.85,179.9 222.18,183.2 222.52,179.6 222.85,183.0 223.18,179.2 223.52,182.5 223.85,178.7 224.18,181.6 224.52,178.9 224.85,184.3 225.18,178.2 225.52,181.9 225.85,179.1 226.18,182.3 226.52,179.3 226.85,183.3 227.18,179.8 227.52,182.9 227.85,179.2 228.18,182.8 228.52,179.7 228.85,182.9 229.18,179.9 229.52,183.4 229.85,179.8 230.18,182.6 230.52,179.3 230.85,182.6 231.18,177.5 231.52,181.7 231.85,178.6 232.18,181.3 232.52,177.2 232.85,180.7 233.18,178.5 233.52,182.1 233.85,178.0 234.18,181.9 234.52,178.4 234.85,181.8 235.18,178.9 235.52,181.2 235.85,178.1 236.18,181.7 236.52,177.1 236.85,180.7 237.18,177.1 237.52,181.3 237.85,178.0 238.18,180.7 238.52,178.0 238.85,181.8 239.18,178.9 239.52,182.1 239.85,179.8 240.18,182.5 240.52,179.2 240.85,183.5 241.18,179.4 241.52,182.5 241.85,179.2 242.18,181.8 242.52,179.0 242.85,182.6 243.18,178.7 243.52,182.0 243.85,178.4 244.18,181.0 244.52,177.9 244.85,181.1 245.18,177.6 245.52,180.8 245.85,177.6 246.18,182.0 246.52,178.0 246.85,180.8 247.18,177.5 247.52,180.8 247.85,177.7 248.18,180.8 248.52,177.0 248.85,181.1 249.18,176.8 249.52,179.4 249.85,175.6 250.18,180.3 250.52,176.6 250.85,179.7 251.18,176.1 251.52,180.4 251.85,177.2 252.18,180.3 252.52,177.7 252.85,180.8 253.18,178.3 253.52,180.9 253.85,177.4 254.18,180.2 254.52,176.7 254.85,180.6 255.18,176.6 255.52,180.0 255.85,177.0 256.18,180.6 256.52,176.0 256.85,180.1 257.18,176.2 257.52,180.2 257.85,176.7 258.18,180.7 258.52,175.8 258.85,179.6 259.18,176.8 259.52,179.6 259.85,175.2 260.18,181.7 260.52,176.7 260.85,180.1 261.18,177.6 261.52,180.5 261.85,176.7 262.18,181.7 262.52,177.8 262.85,181.6 263.18,177.4 263.52,180.5 263.85,177.6 264.18,181.5 264.52,178.2 264.85,181.1 265.18,177.8 265.52,180.8 265.85,176.9 266.18,182.0 266.52,178.7 266.85,182.7 267.18,176.6 267.52,184.4 267.85,178.1 268.18,182.2 268.52,179.4 268.85,182.3 269.18,178.9 269.52,182.6 269.85,178.6 270.18,182.0 270.52,178.5 270.85,181.7 271.18,178.8 271.52,181.5 271.85,178.3 272.18,182.3 272.52,179.3 272.85,182.9 273.18,179.5 273.52,182.6 273.85,180.2 274.18,183.2 274.52,180.3 274.85,183.2 275.18,180.7 275.52,183.1 275.85,180.6 276.18,183.4 276.52,180.8 276.85,183.6 277.18,181.0 277.52,183.7 277.85,180.8 278.18,183.6 278.52,181.0 278.85,183.7 279.18,180.2 279.52,184.1 279.85,180.2 280.18,183.8 280.52,180.0 280.85,184.2 281.18,178.7 281.52,182.1 281.85,178.9 282.18,183.9 282.52,180.6 282.85,183.1 283.18,178.8 283.52,183.3 283.85,179.7 284.18,184.3 284.52,181.0 284.85,183.8 285.18,179.9 285.52,183.5 285.85,179.7 286.18,182.7 286.52,180.0 286.85,183.3 287.18,180.3 287.52,183.3 287.85,178.2 288.18,182.5 288.52,179.1 288.85,182.4 289.18,179.5 289.52,182.4 289.85,179.8 290.18,182.1 290.52,178.6 290.85,182.4 291.18,179.9 291.52,182.7 291.85,180.3 292.18,183.0 292.52,179.1 292.85,183.2 293.18,178.0 293.52,181.9 293.85,178.8 294.18,183.6 294.52,179.0 294.85,181.8 295.18,178.5 295.52,181.2 295.85,177.4 296.18,181.4 296.52,177.7 296.85,180.8 297.18,177.9 297.52,180.2 297.85,176.2 298.18,180.4 298.52,178.1 298.85,181.2 299.18,178.1 299.52,181.9 299.85,178.4 300.18,183.6 300.52,177.5 300.85,181.6 301.18,178.8 301.52,181.7 301.85,178.0 302.18,181.3 302.52,178.5 302.85,181.6 303.18,178.9 303.52,181.9 303.85,177.0 304.18,181.8 304.52,178.6 304.85,182.0 305.18,178.7 305.52,181.8 305.85,177.3 306.18,182.1 306.52,177.9 306.85,181.9 307.18,179.4 307.52,182.7 307.85,178.4 308.18,181.7 308.52,178.5 308.85,181.4 309.18,178.0 309.52,182.4 309.85,178.4 310.18,181.7 310.52,178.3 310.85,181.3 311.18,178.5 311.52,181.5 311.85,178.8 312.18,181.7 312.52,178.4 312.85,182.3 313.18,178.2 313.52,182.4 313.85,177.2 314.18,181.0 314.52,178.5 314.85,182.6 315.18,178.5 315.52,180.8 315.85,177.8 316.18,182.0 316.52,178.9 316.85,181.6 317.18,178.0 317.52,181.8 317.85,177.6 318.18,181.9 318.52,177.6 318.85,180.9 319.18,177.5 319.52,180.6 319.85,177.2 320.18,181.2 320.52,176.4 320.85,179.8 321.18,176.3 321.52,180.3 321.85,176.4 322.18,179.1 322.52,175.7 322.85,180.1 323.18,175.9 323.52,180.7 323.85,175.6 324.18,179.9 324.52,177.0 324.85,181.2 325.18,177.6 325.52,181.4 325.85,178.4 326.18,181.2 326.52,177.8 326.85,181.2 327.18,178.8 327.52,181.7 327.85,179.0 328.18,182.0 328.52,177.5 328.85,181.8 329.18,178.3 329.52,181.0 329.85,178.1 330.18,181.1 330.52,177.9 330.85,180.1 331.18,177.5 331.52,179.7 331.85,177.5 332.18,180.1 332.52,176.9 332.85,180.0 333.18,177.9 333.52,181.5 333.85,178.5 334.18,181.9 334.52,177.8 334.85,181.2 335.18,177.3 335.52,182.8 335.85,177.9 336.18,181.5 336.52,178.1 336.85,181.1 337.18,177.8 337.52,181.2 337.85,176.8 338.18,180.3 338.52,176.8 338.85,182.4 339.18,178.0 339.52,180.9 339.85,177.9 340.18,180.8 340.52,177.3 340.85,181.1 341.18,178.5 341.52,180.7 341.85,176.7 342.18,180.7 342.52,178.1 342.85,181.1 343.18,177.2 343.52,181.0 343.85,177.5 344.18,180.8 344.52,177.5 344.85,181.2 345.18,177.9 345.52,180.7 345.85,177.5 346.18,180.6 346.52,177.6 346.85,180.8 347.18,177.3 347.52,181.6 347.85,177.5 348.18,181.0 348.52,177.7 348.85,181.7 349.18,178.3 349.52,181.0 349.85,178.3 350.18,182.2 350.52,178.5 350.85,181.1 351.18,177.2 351.52,182.2 351.85,176.8 352.18,182.6 352.52,178.8 352.85,182.5 353.18,178.9 353.52,181.8 353.85,178.2 354.18,180.9 354.52,178.0 354.85,182.0 355.18,178.2 355.52,181.1 355.85,178.0 356.18,181.9 356.52,178.4 356.85,180.8 357.18,178.6 357.52,182.2 357.85,177.4 358.18,181.2 358.52,179.1 358.85,182.4 359.18,177.5 359.52,182.1 359.85,179.4 360.18,182.6 360.52,178.8 360.85,183.1 361.18,179.5 361.52,182.7 361.85,179.3 362.18,182.2 362.52,178.6 362.85,183.5 363.18,178.8 363.52,182.1 363.85,177.6 364.18,181.7 364.52,178.9 364.85,181.9 365.18,178.1 365.52,182.1 365.85,178.6 366.18,181.8 366.52,179.2 366.85,182.0 367.18,179.0 367.52,181.9 367.85,178.6 368.18,181.9 368.52,178.6 368.85,181.2 369.18,178.1 369.52,181.1 369.85,178.5 370.18,182.7 370.52,178.0 370.85,183.9 371.18,178.9 371.52,181.8 371.85,176.3 372.18,183.0 372.52,178.6 372.85,183.3 373.18,179.0 373.52,181.7 373.85,178.8 374.18,182.8 374.52,179.1 374.85,182.9 375.18,178.3 375.52,182.1 375.85,179.4 376.18,183.5 376.52,178.7 376.85,182.7 377.18,178.3 377.52,181.4 377.85,177.7 378.18,181.9 378.52,178.6 378.85,182.8 379.18,179.6 379.52,182.8 379.85,178.8 380.18,183.4 380.52,179.4 380.85,182.5 381.18,178.6 381.52,182.7 381.85,178.9 382.18,181.5 382.52,177.9 382.85,181.7 383.18,178.9 383.52,182.1 383.85,176.8 384.18,182.3 384.52,178.4 384.85,181.7 385.18,179.3 385.52,182.3 385.85,178.6 386.18,182.6 386.52,178.2 386.85,181.8 387.18,178.6 387.52,182.4 387.85,178.9 388.18,182.3 388.52,179.0 388.85,182.1 389.18,179.6 389.52,182.0 389.85,177.9 390.18,181.4 390.52,178.4 390.85,181.9 391.18,177.9 391.52,182.2 391.85,178.5 392.18,181.1 392.52,176.9 392.85,181.8 393.18,178.3 393.52,181.3 393.85,178.3 394.18,182.1 394.52,178.9 394.85,183.3 395.18,178.8 395.52,181.8 395.85,178.9 396.18,181.3 396.52,179.6 396.85,182.1 397.18,179.2 397.52,183.3 397.85,179.5 398.18,183.3 398.52,179.2 398.85,183.1 399.18,180.2 399.52,183.2 399.85,179.2 400.18,182.9 400.52,179.7 400.85,182.3 401.18,179.0 401.52,184.6 401.85,180.1 402.18,183.7 402.52,180.6 402.85,183.6 403.18,179.0 403.52,183.6 403.85,180.3 404.18,182.8 404.52,178.6 404.85,182.8 405.18,178.7 405.52,182.7 405.85,180.1 406.18,182.8 406.52,178.8 406.85,182.6 407.18,179.9 407.52,182.8 407.85,179.8 408.18,182.4 408.52,178.9 408.85,182.5 409.18,179.3 409.52,182.6 409.85,180.2 410.18,183.8 410.52,179.9 410.85,182.2 411.18,178.8 411.52,184.1 411.85,177.5 412.18,181.2 412.52,179.0 412.85,182.0 413.18,178.1 413.52,181.7 413.85,179.0 414.18,183.0 414.52,179.6 414.85,182.4 415.18,179.7 415.52,182.5 415.85,179.3 416.18,183.0 416.52,179.1 416.85,182.3 417.18,179.1 417.52,181.9 417.85,178.7 418.18,182.7 418.52,178.4 418.85,182.1 419.18,178.8 419.52,181.8 419.85,178.9 420.18,181.7 420.52,179.1 420.85,182.1 421.18,179.5 421.52,182.0 421.85,179.1 422.18,183.9 422.52,178.9 422.85,183.2 423.18,179.9 423.52,183.2 423.85,179.3 424.18,182.8 424.52,179.2 424.85,182.5 425.18,178.6 425.52,182.3 425.85,178.1 426.18,181.6 426.52,178.6 426.85,181.8 427.18,178.2 427.52,181.7 427.85,177.9 428.18,181.7 428.52,179.0 428.85,181.9 429.18,178.4 429.52,181.9 429.85,178.6 430.18,181.1 430.52,178.2 430.85,183.1 431.18,178.1 431.52,181.7 431.85,177.8 432.18,181.2 432.52,178.3 432.85,183.3 433.18,179.6 433.52,182.2 433.85,179.7 434.18,183.2 434.52,179.6 434.85,182.5 435.18,179.2 435.52,182.3 435.85,179.3 436.18,182.1 436.52,179.3 436.85,182.4 437.18,178.5 437.52,182.0 437.85,179.1 438.18,181.8 438.52,179.2 438.85,181.7 439.18,178.0 439.52,181.7 439.85,177.9 440.18,182.7 440.52,179.1 440.85,183.1 441.18,178.6 441.52,182.4 441.85,179.2 442.18,182.0 442.52,179.4 442.85,182.5 443.18,179.3 443.52,182.3 443.85,179.0 444.18,182.8 444.52,179.0 444.85,181.9 445.18,179.7 445.52,182.2 445.85,180.0 446.18,183.3 446.52,179.0 446.85,183.5 447.18,180.5 447.52,184.0 447.85,180.6 448.18,183.8 448.52,180.7 448.85,183.1 449.18,179.5 449.52,183.1 449.85,178.9 450.18,183.9 450.52,179.2 450.85,183.2 451.18,179.8 451.52,184.7 451.85,179.5 452.18,182.9 452.52,180.5 452.85,184.0 453.18,180.2 453.52,183.6 453.85,180.4 454.18,183.2 454.52,180.1 454.85,183.0 455.18,180.5 455.52,184.2 455.85,180.3 456.18,182.8 456.52,180.2 456.85,184.7 457.18,180.4 457.52,183.8 457.85,180.3 458.18,183.8 458.52,179.4 458.85,184.1 459.18,179.5 459.52,183.2 459.85,175.4 460.18,182.0 460.52,179.1 460.85,182.1 461.18,179.5 461.52,182.1 461.85,179.3 462.18,184.1 462.52,179.9 462.85,183.6 463.18,180.0 463.52,183.4 463.85,181.1 464.18,183.9 464.52,180.1 464.85,183.1 465.18,180.7 465.52,183.9 465.85,176.9 466.18,182.7 466.52,179.3 466.85,182.3 467.18,178.9 467.52,182.9 467.85,178.5 468.18,181.7 468.52,178.5 468.85,181.7 469.18,178.6 469.52,181.4 469.85,178.8 470.18,181.4 470.52,178.5 470.85,182.9 471.18,178.5 471.52,181.5 471.85,179.0 472.18,182.1 472.52,177.8 472.85,180.7 473.18,177.3 473.52,181.4 473.85,178.2 474.18,182.3 474.52,178.0 474.85,181.4 475.18,179.1 475.52,181.5 475.85,179.1 476.18,182.2 476.52,178.9 476.85,182.8 477.18,177.8 477.52,181.6 477.85,178.9 478.18,181.8 478.52,178.6 478.85,182.0 479.18,179.2 479.52,184.3 479.85,179.2 480.18,183.0 480.52,179.6 480.85,183.3 481.18,180.2 481.52,183.1 481.85,178.8 482.18,182.3 482.52,178.7 482.85,181.8 483.18,178.2 483.52,182.3 483.85,178.6 484.18,182.0 484.52,178.1 484.85,181.4 485.18,175.5 485.52,181.9 485.85,177.8 486.18,182.4 486.52,179.3 486.85,182.8 487.18,179.1 487.52,182.3 487.85,179.2 488.18,182.8 488.52,179.0 488.85,182.7 489.18,178.3 489.52,182.1 489.85,178.5 490.18,181.5 490.52,178.7 490.85,181.7 491.18,178.8 491.52,182.0 491.85,178.6 492.18,182.0 492.52,178.0 492.85,181.3 493.18,177.7 493.52,181.1 493.85,177.3 494.18,181.6 494.52,177.3 494.85,181.0 495.18,178.5 495.52,181.8 495.85,178.1 496.18,181.7 496.52,178.0 496.85,182.2 497.18,178.4 497.52,182.7 497.85,178.3 498.18,181.5 498.52,178.5 498.85,180.6 499.18,177.6 499.52,182.5 499.85,178.1 500.18,182.5 500.52,178.4 500.85,183.0 501.18,177.2 501.52,182.3 501.85,177.7 502.18,180.9 502.52,178.0 502.85,182.0 503.18,178.3 503.52,181.5 503.85,178.2 504.18,181.3 504.52,178.2 504.85,181.4 505.18,177.5 505.52,181.0 505.85,178.6 506.18,181.5 506.52,177.3 506.85,181.3 507.18,177.1 507.52,180.1 507.85,176.5 508.18,179.8 508.52,176.6 508.85,180.1 509.18,176.8 509.52,180.9 509.85,176.1 510.18,180.6 510.52,177.7 510.85,182.2 511.18,177.8 511.52,180.7 511.85,177.9 512.18,180.4 512.52,177.5 512.85,180.2 513.18,176.8 513.52,181.1 513.85,176.0 514.18,181.1 514.52,178.1 514.85,180.9 515.18,178.0 515.52,181.3 515.85,176.6 516.18,180.9 516.52,177.2 516.85,180.5 517.18,176.0 517.52,180.0 517.85,177.2 518.18,180.6 518.52,176.5 518.85,180.8 519.18,177.5 519.52,180.2 519.85,176.8 520.18,180.9 520.52,177.9 520.85,180.7 521.18,178.6 521.52,182.1 521.85,178.5 522.18,182.2 522.52,177.7 522.85,180.6 523.18,176.3 523.52,181.3 523.85,177.4 524.18,180.0 524.52,177.1 524.85,180.8 525.18,177.5 525.52,180.8 525.85,177.5 526.18,180.3 526.52,177.6 526.85,181.3 527.18,177.5 527.52,180.9 527.85,177.7 528.18,182.1 528.52,177.2 528.85,183.2 529.18,177.5 529.52,181.8 529.85,177.6 530.18,181.2 530.52,177.4 530.85,180.3 531.18,177.1 531.52,180.0 531.85,176.3 532.18,179.8 532.52,177.4 532.85,182.1 533.18,177.4 533.52,181.1 533.85,176.6 534.18,180.5 534.52,177.1 534.85,180.4 535.18,177.1 535.52,182.2 535.85,177.6 536.18,180.3 536.52,177.2 536.85,182.3 537.18,177.9 537.52,180.6 537.85,176.6 538.18,181.0 538.52,177.4 538.85,181.7 539.18,177.4 539.52,180.7 539.85,177.7 540.18,180.2 540.52,176.2 540.85,180.2 541.18,177.7 541.52,181.3 541.85,176.9 542.18,180.4 542.52,176.2 542.85,179.9 543.18,176.7 543.52,180.8 543.85,177.1 544.18,181.6 544.52,177.6 544.85,180.8 545.18,177.4 545.52,180.1 545.85,178.4 546.18,182.0 546.52,178.3 546.85,181.0 547.18,177.8 547.52,182.1 547.85,177.4 548.18,181.6 548.52,175.9 548.85,180.8 549.18,178.0 549.52,180.4 549.85,177.4 550.18,180.7 550.52,176.6 550.85,180.5 551.18,177.9 551.52,180.6 551.85,178.1 552.18,180.7 552.52,178.6 552.85,181.8 553.18,178.8 553.52,181.9 553.85,178.0 554.18,182.5 554.52,178.5 554.85,181.4 555.18,178.5 555.52,180.9 555.85,177.8 556.18,180.6 556.52,177.1 556.85,180.8 557.18,178.2 557.52,182.1 557.85,178.3 558.18,181.3 558.52,178.5 558.85,181.3 559.18,178.3 559.52,182.0 559.85,178.2 560.18,181.9 560.52,177.7 560.85,181.6 561.18,178.3 561.52,182.1 561.85,178.4 562.18,180.9 562.52,177.7 562.85,181.8 563.18,178.7 563.52,181.4 563.85,178.9 564.18,181.7 564.52,178.5 564.85,181.2 565.18,179.2 565.52,181.7 565.85,176.9 566.18,181.3 566.52,177.1 566.85,181.6 567.18,176.2 567.52,181.0 567.85,173.4 568.18,181.5 568.52,178.1 568.85,181.2 569.18,178.5 569.52,181.5 569.85,178.1 570.18,181.8 570.52,178.9 570.85,181.3 571.18,178.0 571.52,181.4 571.85,177.8 572.18,182.1 572.52,178.3 572.85,183.3 573.18,178.4 573.52,181.5 573.85,178.5 574.18,183.1 574.52,178.0 574.85,182.0 575.18,179.0 575.52,181.2 575.85,178.5 576.18,180.6 576.52,177.5 576.85,180.9 577.18,178.3 577.52,181.1 577.85,177.9 578.18,181.6 578.52,177.9 578.85,182.7 579.18,179.1 579.52,181.2 579.85,178.4 580.18,181.5 580.52,178.4 580.85,181.2 581.18,177.3 581.52,181.3 581.85,178.0 582.18,181.6 582.52,177.7 582.85,181.0 583.18,178.0 583.52,181.5 583.85,177.3 584.18,181.6 584.52,178.0 584.85,184.6 585.18,178.6 585.52,181.9 585.85,178.0 586.18,181.3 586.52,177.2 586.85,182.1 587.18,179.0 587.52,181.8 587.85,178.3 588.18,182.9 588.52,178.2 588.85,182.3 589.18,179.3 589.52,182.3 589.85,179.0 590.18,183.0 590.52,178.3 590.85,181.5 591.18,178.9 591.52,181.3 591.85,178.2 592.18,181.1 592.52,178.7 592.85,181.7 593.18,178.2 593.52,181.5 593.85,178.4 594.18,181.0 594.52,178.2 594.85,181.0 595.18,178.4 595.52,180.4 595.85,177.9 596.18,181.5 596.52,177.6 596.85,182.2 597.18,178.1 597.52,181.5 597.85,178.0 598.18,181.7 598.52,177.4 598.85,181.7 599.18,178.7 599.52,181.6 599.85,178.6 600.18,181.9 600.52,179.4 600.85,182.6 601.18,178.8 601.52,182.2 601.85,178.8 602.18,181.8 602.52,177.4 602.85,182.5 603.18,178.3 603.52,181.1 603.85,177.8 604.18,180.7 604.52,176.8 604.85,180.3 605.18,175.9 605.52,180.2 605.85,177.9 606.18,180.6 606.52,177.4 606.85,181.4 607.18,176.0 607.52,181.1 607.85,178.5 608.18,181.9 608.52,179.1 608.85,181.6 609.18,177.7 609.52,181.9 609.85,178.5 610.18,182.1 610.52,177.6 610.85,180.3 611.18,177.7 611.52,180.4 611.85,177.5 612.18,180.6 612.52,177.5 612.85,180.2 613.18,177.7 613.52,180.5 613.85,177.7 614.18,181.4 614.52,177.7 614.85,180.6 615.18,176.7 615.52,181.0 615.85,177.3 616.18,179.6 616.52,175.4 616.85,179.2 617.18,176.0 617.52,179.5 617.85,175.5 618.18,179.7 618.52,177.5 618.85,181.7 619.18,177.5 619.52,180.6 619.85,176.9 620.18,182.3 620.52,177.4 620.85,180.7 621.18,178.5 621.52,181.1 621.85,178.4 622.18,181.8 622.52,177.7 622.85,181.0 623.18,177.3 623.52,180.5 623.85,175.9 624.18,180.2 624.52,176.7 624.85,179.4 625.18,176.9 625.52,179.2 625.85,176.5 626.18,180.0 626.52,177.2 626.85,179.7 627.18,176.8 627.52,179.7 627.85,176.9 628.18,181.6 628.52,177.7 628.85,181.0 629.18,177.6 629.52,181.1 629.85,178.1 630.18,181.1 630.52,178.2 630.85,181.5 631.18,178.1 631.52,180.4 631.85,177.2 632.18,179.7 632.52,176.7 632.85,179.9 633.18,175.8 633.52,179.4 633.85,176.7 634.18,179.5 634.52,176.7 634.85,180.7 635.18,178.0 635.52,180.9 635.85,177.6 636.18,181.0 636.52,177.7 636.85,180.7 637.18,177.1 637.52,180.9 637.85,177.1 638.18,181.2 638.52,175.6 638.85,180.9 639.18,176.8 639.52,180.4 639.85,176.5 640.18,181.1 640.52,178.3 640.85,183.5 641.18,178.5 641.52,181.8 641.85,177.6 642.18,180.7 642.52,176.3 642.85,182.0 643.18,178.2 643.52,181.4 643.85,176.9 644.18,180.2 644.52,177.8 644.85,180.7 645.18,176.9 645.52,180.8 645.85,177.3 646.18,181.3 646.52,178.1 646.85,181.0 647.18,177.4 647.52,180.3 647.85,177.4 648.18,180.6 648.52,176.8 648.85,179.9 649.18,176.9 649.52,179.9 649.85,177.7 650.18,180.4 650.52,177.4 650.85,180.1 651.18,176.6 651.52,180.1 651.85,176.8 652.18,181.3 652.52,178.1 652.85,181.1 653.18,177.4 653.52,180.4 653.85,177.2 654.18,180.1 654.52,177.6 654.85,179.9 655.18,176.5 655.52,179.9 655.85,175.9 656.18,180.2 656.52,176.6 656.85,180.2 657.18,176.5 657.52,181.3 657.85,176.7 658.18,181.6 658.52,177.0 658.85,180.5 659.18,177.2 659.52,184.1 659.85,177.6 660.18,180.9 660.52,177.0 660.85,180.2 661.18,177.8 661.52,180.6 661.85,176.4 662.18,180.8 662.52,177.8 662.85,181.8 663.18,177.8 663.52,181.2 663.85,176.8 664.18,181.6 664.52,177.9 664.85,180.8 665.18,176.1 665.52,180.8 665.85,178.4 666.18,182.1 666.52,178.5 666.85,182.6 667.18,179.0 667.52,182.2 667.85,178.0 668.18,182.2 668.52,178.7 668.85,181.7 669.18,178.0 669.52,181.8 669.85,178.2 670.18,180.4 670.52,178.1 670.85,180.7 671.18,177.2 671.52,180.2 671.85,177.3 672.18,181.6 672.52,177.5 672.85,181.3 673.18,177.3 673.52,180.4 673.85,177.7 674.18,180.7 674.52,178.7 674.85,181.0 675.18,178.5 675.52,180.9 675.85,178.3 676.18,181.1 676.52,175.3 676.85,180.6 677.18,178.0 677.52,180.5 677.85,177.9 678.18,180.4 678.52,177.2 678.85,180.5 679.18,177.2 679.52,180.9 679.85,177.8 680.18,180.1 680.52,177.6 680.85,180.5 681.18,177.0"/>
<path d="M65.5 180.0V194.2M70.5 179.9V190.0M77.5 179.9V188.4M85.5 174.9V194.1M92.5 171.4V188.8M104.5 176.3V183.0M111.5 154.6V194.1M120.5 158.7V199.6M128.5 162.3V194.0M133.5 173.8V187.5M136.5 161.6V189.9M143.5 150.7V208.6M154.5 140.8V207.5M161.5 167.1V190.0M171.5 148.6V191.3M180.5 156.0V204.5M184.5 170.2V187.8M190.5 175.8V185.3M198.5 169.5V191.1M201.5 167.4V186.4M207.5 174.1V187.5M213.5 175.1V188.6M222.5 169.0V189.9M231.5 144.5V190.7M240.5 157.0V187.6M249.5 165.0V189.1M259.5 140.8V195.1M270.5 156.4V184.8M278.5 167.6V191.1M287.5 156.7V189.2M295.5 163.7V189.4M305.5 147.6V191.0M314.5 165.7V184.5M323.5 144.9V199.0M329.5 169.0V183.3M332.5 167.4V184.4M338.5 173.2V183.5M349.5 140.8V204.4M353.5 177.8V184.0M365.5 165.4V187.7M373.5 171.0V187.2M384.5 152.8V188.8M394.5 164.8V187.9M399.5 167.9V185.5M410.5 177.4V184.6M421.5 164.8V188.8M432.5 168.1V186.5M439.5 177.0V189.0M449.5 169.4V188.5M458.5 174.1V188.7M468.5 173.8V186.1M476.5 176.8V187.3M485.5 173.1V191.4M493.5 171.7V185.9M502.5 172.2V188.8M510.5 175.8V188.6M517.5 173.3V186.1M526.5 172.5V187.5M536.5 176.0V187.5M543.5 177.2V185.8M553.5 177.3V189.0M560.5 176.4V185.7M572.5 174.2V186.3M581.5 177.7V186.0M590.5 174.8V189.2M595.5 175.4V185.0M599.5 177.3V184.6M609.5 175.2V189.7M619.5 175.6V193.6M630.5 177.0V184.7M642.5 177.1V189.0M651.5 175.8V189.7M659.5 174.7V193.0M662.5 177.2V184.4M669.5 177.3V185.8M678.5 177.3V188.0" stroke="#0000ff" stroke-width="1.2" stroke-opacity="0.9" fill="none"/>
<polyline fill="none" stroke="#2fb02f" stroke-width="1.0" stroke-linejoin="round" points="58.85,303.1 59.18,298.1 59.52,302.1 59.85,299.8 60.18,302.0 60.52,299.6 60.85,302.9 61.18,299.5 61.52,302.1 61.85,297.2 62.18,301.4 62.52,298.8 62.85,300.4 63.18,298.3 63.52,301.2 63.85,298.0 64.18,300.1 64.52,297.9 64.85,300.5 65.18,298.2 65.52,300.3 65.85,298.0 66.18,301.2 66.52,299.0 66.85,301.4 67.18,298.9 67.52,302.8 67.85,296.6 68.18,301.8 68.52,298.9 68.85,302.2 69.18,299.6 69.52,302.9 69.85,298.9 70.18,301.7 70.52,299.0 70.85,302.9 71.18,298.2 71.52,305.3 71.85,297.7 72.18,300.9 72.52,298.5 72.85,301.6 73.18,298.4 73.52,301.1 73.85,299.4 74.18,302.5 74.52,298.9 74.85,301.5 75.18,298.8 75.52,301.7 75.85,298.7 76.18,301.9 76.52,299.5 76.85,301.7 77.18,298.8 77.52,301.6 77.85,298.0 78.18,302.1 78.52,299.2 78.85,302.4 79.18,298.9 79.52,301.0 79.85,298.2 80.18,302.5 80.52,298.8 80.85,301.9 81.18,298.3 81.52,303.0 81.85,299.7 82.18,302.4 82.52,300.0 82.85,303.1 83.18,299.0 83.52,302.1 83.85,299.3 84.18,302.8 84.52,299.7 84.85,301.5 85.18,298.4 85.52,302.5 85.85,299.1 86.18,301.9 86.52,298.6 86.85,301.5 87.18,298.9 87.52,301.6 87.85,298.7 88.18,302.0 88.52,298.5 88.85,301.8 89.18,299.3 89.52,301.0 89.85,298.4 90.18,301.5 90.52,297.7 90.85,300.7 91.18,298.0 91.52,300.9 91.85,298.3 92.18,300.6 92.52,298.5 92.85,300.5 93.18,298.0 93.52,301.0 93.85,298.2 94.18,300.1 94.52,298.2 94.85,300.5 95.18,296.9 95.52,301.7 95.85,298.1 96.18,302.8 96.52,299.4 96.85,302.3 97.18,299.6 97.52,303.2 97.85,299.0 98.18,302.1 98.52,298.6 98.85,302.0 99.18,298.4 99.52,300.6 99.85,298.1 100.18,301.7 100.52,298.3 100.85,300.7 101.18,298.8 101.52,301.7 101.85,298.0 102.18,301.3 102.52,297.8 102.85,300.7 103.18,298.5 103.52,301.8 103.85,298.7 104.18,300.7 104.52,298.7 104.85,301.4 105.18,298.8 105.52,301.6 105.85,298.6 106.18,302.2 106.52,298.8 106.85,300.8 107.18,297.9 107.52,301.2 107.85,297.6 108.18,300.4 108.52,297.9 108.85,299.9 109.18,297.5 109.52,299.6 109.85,296.9 110.18,300.3 110.52,298.5 110.85,302.2 111.18,299.3 111.52,302.2 111.85,299.8 112.18,302.5 112.52,299.6 112.85,301.8 113.18,299.2 113.52,301.8 113.85,298.4 114.18,302.2 114.52,298.1 114.85,300.8 115.18,298.6 115.52,306.7 115.85,297.7 116.18,300.8 116.52,298.3 116.85,301.1 117.18,298.3 117.52,300.2 117.85,297.7 118.18,300.7 118.52,297.3 118.85,301.4 119.18,297.6 119.52,300.7 119.85,298.8 120.18,301.0 120.52,299.0 120.85,301.6 121.18,298.9 121.52,300.5 121.85,297.5 122.18,300.7 122.52,297.6 122.85,300.6 123.18,297.7 123.52,300.6 123.85,297.5 124.18,300.4 124.52,298.2 124.85,300.8 125.18,298.6 125.52,306.6 125.85,299.0 126.18,301.1 126.52,299.0 126.85,302.4 127.18,298.9 127.52,303.9 127.85,298.9 128.18,301.4 128.52,298.8 128.85,301.5 129.18,299.1 129.52,301.7 129.85,299.3 130.18,301.4 130.52,299.8 130.85,302.0 131.18,299.7 131.52,302.4 131.85,299.9 132.18,303.3 132.52,300.0 132.85,302.5 133.18,299.1 133.52,302.2 133.85,297.8 134.18,301.1 134.52,298.5 134.85,301.3 135.18,298.6 135.52,300.9 135.85,297.7 136.18,301.1 136.52,299.0 136.85,301.2 137.18,298.5 137.52,301.7 137.85,298.9 138.18,301.7 138.52,298.2 138.85,300.4 139.18,298.1 139.52,302.0 139.85,298.7 140.18,301.4 140.52,298.3 140.85,300.5 141.18,297.2 141.52,301.2 141.85,299.1 142.18,301.5 142.52,299.2 142.85,302.5 143.18,298.5 143.52,301.7 143.85,299.7 144.18,301.9 144.52,298.7 144.85,302.9 145.18,299.4 145.52,301.4 145.85,298.8 146.18,301.8 146.52,297.4 146.85,301.4 147.18,296.5 147.52,302.2 147.85,298.9 148.18,301.5 148.52,299.2 148.85,302.4 149.18,299.8 149.52,302.1 149.85,299.0 150.18,301.8 150.52,299.6 150.85,302.0 151.18,298.1 151.52,300.7 151.85,298.5 152.18,300.7 152.52,298.1 152.85,301.6 153.18,298.4 153.52,301.1 153.85,297.9 154.18,301.4 154.52,298.5 154.85,301.1 155.18,298.9 155.52,301.9 155.85,298.8 156.18,302.2 156.52,298.5 156.85,302.3 157.18,298.8 157.52,301.6 157.85,299.2 158.18,302.2 158.52,298.5 158.85,300.8 159.18,297.7 159.52,301.4 159.85,298.5 160.18,301.3 160.52,297.6 160.85,301.2 161.18,296.5 161.52,301.1 161.85,298.8 162.18,302.2 162.52,299.1 162.85,301.9 163.18,298.4 163.52,301.0 163.85,298.5 164.18,301.5 164.52,299.4 164.85,301.4 165.18,299.3 165.52,301.9 165.85,299.0 166.18,302.0 166.52,298.0 166.85,301.3 167.18,298.1 167.52,301.3 167.85,298.5 168.18,301.0 168.52,297.2 168.85,302.0 169.18,299.0 169.52,302.3 169.85,299.9 170.18,302.7 170.52,299.4 170.85,302.7 171.18,297.8 171.52,302.2 171.85,299.2 172.18,302.8 172.52,299.7 172.85,302.4 173.18,298.6 173.52,303.0 173.85,299.4 174.18,302.2 174.52,296.9 174.85,301.5 175.18,299.3 175.52,301.6 175.85,298.8 176.18,301.1 176.52,298.6 176.85,308.4 177.18,299.5 177.52,302.4 177.85,298.8 178.18,301.1 178.52,298.7 178.85,300.7 179.18,298.1 179.52,301.0 179.85,298.6 180.18,301.9 180.52,297.6 180.85,301.4 181.18,298.3 181.52,301.3 181.85,298.0 182.18,301.1 182.52,298.9 182.85,301.3 183.18,298.5 183.52,301.0 183.85,298.6 184.18,301.4 184.52,297.6 184.85,300.8 185.18,298.7 185.52,301.1 185.85,299.3 186.18,301.8 186.52,299.2 186.85,302.1 187.18,298.8 187.52,301.8 187.85,298.9 188.18,301.2 188.52,298.1 188.85,301.4 189.18,298.7 189.52,301.0 189.85,298.8 190.18,301.7 190.52,299.3 190.85,302.0 191.18,298.6 191.52,301.2 191.85,298.9 192.18,302.2 192.52,299.0 192.85,301.9 193.18,298.6 193.52,301.3 193.85,298.1 194.18,301.9 194.52,298.5 194.85,301.0 195.18,297.7 195.52,301.1 195.85,298.0 196.18,300.9 196.52,297.8 196.85,300.5 197.18,297.8 197.52,303.6 197.85,299.2 198.18,302.4 198.52,299.6 198.85,302.4 199.18,299.6 199.52,302.2 199.85,299.6 200.18,301.3 200.52,298.9 200.85,302.5 201.18,299.9 201.52,301.8 201.85,299.8 202.18,302.5 202.52,299.1 202.85,302.8 203.18,299.6 203.52,301.9 203.85,298.8 204.18,301.1 204.52,299.0 204.85,301.6 205.18,298.4 205.52,302.0 205.85,298.4 206.18,301.9 206.52,298.1 206.85,301.2 207.18,298.5 207.52,303.7 207.85,298.7 208.18,301.2 208.52,298.8 208.85,301.0 209.18,298.6 209.52,302.0 209.85,299.7 210.18,301.9 210.52,299.2 210.85,302.1 211.18,299.0 211.52,302.1 211.85,300.2 212.18,302.7 212.52,299.4 212.85,301.8 213.18,299.3 213.52,302.0 213.85,299.6 214.18,301.3 214.52,298.0 214.85,302.5 215.18,298.4 215.52,300.7 215.85,297.4 216.18,300.6 216.52,298.3 216.85,300.8 217.18,297.6 217.52,301.3 217.85,298.3 218.18,300.4 218.52,297.4 218.85,300.9 219.18,297.8 219.52,301.5 219.85,297.7 220.18,300.9 220.52,298.6 220.85,301.1 221.18,298.6 221.52,301.0 221.85,298.8 222.18,301.3 222.52,298.7 222.85,302.1 223.18,298.3 223.52,302.1 223.85,298.7 224.18,302.1 224.52,298.6 224.85,301.5 225.18,298.4 225.52,301.0 225.85,298.1 226.18,301.4 226.52,298.9 226.85,301.2 227.18,297.9 227.52,301.2 227.85,298.9 228.18,300.8 228.52,298.6 228.85,300.4 229.18,298.3 229.52,300.7 229.85,297.5 230.18,300.8 230.52,298.5 230.85,300.5 231.18,298.2 231.52,301.3 231.85,298.6 232.18,300.4 232.52,297.8 232.85,300.0 233.18,297.9 233.52,300.3 233.85,297.7 234.18,301.0 234.52,297.7 234.85,299.7 235.18,298.0 235.52,300.6 235.85,297.8 236.18,300.1 236.52,298.8 236.85,300.7 237.18,298.0 237.52,301.7 237.85,298.0 238.18,301.2 238.52,299.3 238.85,301.3 239.18,298.7 239.52,301.4 239.85,297.8 240.18,301.0 240.52,297.7 240.85,300.3 241.18,297.7 241.52,299.8 241.85,297.3 242.18,300.2 242.52,297.5 242.85,299.7 243.18,296.3 243.52,300.0 243.85,296.9 244.18,299.6 244.52,296.6 244.85,300.4 245.18,297.7 245.52,300.8 245.85,296.8 246.18,300.7 246.52,295.4 246.85,300.2 247.18,296.7 247.52,299.5 247.85,297.1 248.18,302.6 248.52,296.1 248.85,299.1 249.18,296.9 249.52,299.0 249.85,296.2 250.18,298.7 250.52,296.5 250.85,299.0 251.18,296.1 251.52,300.2 251.85,296.6 252.18,300.1 252.52,296.6 252.85,299.3 253.18,296.5 253.52,299.7 253.85,296.6 254.18,299.3 254.52,296.2 254.85,299.9 255.18,296.7 255.52,299.4 255.85,297.0 256.18,299.9 256.52,297.2 256.85,300.0 257.18,297.2 257.52,299.8 257.85,297.2 258.18,299.7 258.52,296.9 258.85,299.5 259.18,296.8 259.52,299.5 259.85,297.1 260.18,299.7 260.52,296.9 260.85,300.5 261.18,297.6 261.52,300.0 261.85,297.3 262.18,300.6 262.52,297.9 262.85,301.2 263.18,297.5 263.52,301.1 263.85,297.8 264.18,299.9 264.52,296.3 264.85,300.9 265.18,297.2 265.52,299.8 265.85,297.4 266.18,299.9 266.52,296.5 266.85,300.4 267.18,297.4 267.52,299.6 267.85,297.3 268.18,299.8 268.52,297.6 268.85,300.3 269.18,297.7 269.52,300.8 269.85,297.9 270.18,301.0 270.52,298.3 270.85,301.1 271.18,297.1 271.52,301.2 271.85,298.1 272.18,301.2 272.52,299.0 272.85,302.3 273.18,299.5 273.52,302.5 273.85,299.7 274.18,301.4 274.52,299.8 274.85,302.2 275.18,298.7 275.52,302.4 275.85,299.8 276.18,301.8 276.52,298.8 276.85,301.4 277.18,299.7 277.52,301.3 277.85,298.2 278.18,302.4 278.52,298.9 278.85,301.3 279.18,299.5 279.52,302.9 279.85,300.0 280.18,303.8 280.52,300.4 280.85,303.1 281.18,299.4 281.52,302.7 281.85,299.7 282.18,302.4 282.52,299.5 282.85,302.2 283.18,299.7 283.52,301.8 283.85,297.7 284.18,302.1 284.52,298.2 284.85,301.6 285.18,299.8 285.52,302.9 285.85,299.2 286.18,302.2 286.52,300.0 286.85,302.7 287.18,299.8 287.52,302.7 287.85,300.6 288.18,302.4 288.52,297.2 288.85,301.6 289.18,299.3 289.52,302.3 289.85,300.1 290.18,302.7 290.52,298.2 290.85,301.2 291.18,299.4 291.52,302.0 291.85,298.1 292.18,301.6 292.52,299.6 292.85,301.7 293.18,298.8 293.52,302.5 293.85,298.7 294.18,302.1 294.52,300.0 294.85,302.0 295.18,298.8 295.52,302.6 295.85,298.9 296.18,301.4 296.52,299.0 296.85,301.9 297.18,297.6 297.52,302.9 297.85,298.7 298.18,302.0 298.52,298.6 298.85,300.6 299.18,298.0 299.52,301.4 299.85,298.1 300.18,300.8 300.52,298.4 300.85,301.0 301.18,298.2 301.52,301.7 301.85,298.6 302.18,301.0 302.52,298.9 302.85,300.9 303.18,297.8 303.52,300.7 303.85,298.2 304.18,300.4 304.52,297.9 304.85,300.5 305.18,297.7 305.52,300.2 305.85,297.9 306.18,300.5 306.52,297.4 306.85,300.6 307.18,298.2 307.52,301.4 307.85,297.7 308.18,300.3 308.52,297.2 308.85,300.7 309.18,297.5 309.52,300.5 309.85,297.8 310.18,299.9 310.52,296.6 310.85,299.5 311.18,296.9 311.52,298.8 311.85,296.8 312.18,299.4 312.52,295.9 312.85,299.3 313.18,296.4 313.52,299.5 313.85,297.0 314.18,300.3 314.52,297.4 314.85,299.9 315.18,296.9 315.52,299.9 315.85,297.0 316.18,300.5 316.52,297.0 316.85,299.5 317.18,296.5 317.52,299.2 317.85,295.9 318.18,298.8 318.52,296.3 318.85,299.0 319.18,295.0 319.52,299.7 319.85,296.2 320.18,300.0 320.52,296.0 320.85,299.6 321.18,296.6 321.52,298.7 321.85,296.5 322.18,298.7 322.52,296.5 322.85,298.4 323.18,296.5 323.52,298.5 323.85,295.5 324.18,300.7 324.52,296.4 324.85,300.0 325.18,296.7 325.52,299.4 325.85,297.0 326.18,299.3 326.52,297.4 326.85,299.9 327.18,296.9 327.52,300.0 327.85,296.9 328.18,299.8 328.52,296.5 328.85,299.7 329.18,296.8 329.52,300.0 329.85,297.3 330.18,300.2 330.52,297.6 330.85,300.3 331.18,297.8 331.52,300.4 331.85,297.2 332.18,301.0 332.52,297.5 332.85,300.6 333.18,297.3 333.52,300.7 333.85,297.3 334.18,300.0 334.52,296.2 334.85,299.4 335.18,296.6 335.52,299.6 335.85,296.0 336.18,299.1 336.52,296.6 336.85,300.4 337.18,297.3 337.52,300.5 337.85,296.4 338.18,299.7 338.52,296.4 338.85,299.7 339.18,297.8 339.52,300.2 339.85,297.5 340.18,300.4 340.52,297.7 340.85,301.5 341.18,298.7 341.52,301.2 341.85,298.3 342.18,301.0 342.52,298.2 342.85,301.0 343.18,297.3 343.52,300.4 343.85,297.9 344.18,300.1 344.52,296.7 344.85,299.8 345.18,297.6 345.52,299.5 345.85,297.1 346.18,299.7 346.52,297.8 346.85,301.0 347.18,297.2 347.52,300.5 347.85,296.2 348.18,299.5 348.52,297.1 348.85,300.5 349.18,297.7 349.52,300.4 349.85,297.8 350.18,301.3 350.52,298.6 350.85,300.8 351.18,297.5 351.52,300.4 351.85,298.3 352.18,300.3 352.52,297.4 352.85,299.9 353.18,297.0 353.52,300.8 353.85,298.1 354.18,300.3 354.52,297.2 354.85,300.3 355.18,297.2 355.52,301.6 355.85,298.1 356.18,300.6 356.52,297.2 356.85,299.9 357.18,297.5 357.52,300.5 357.85,297.3 358.18,299.7 358.52,296.6 358.85,299.5 359.18,296.7 359.52,300.4 359.85,297.3 360.18,300.9 360.52,297.1 360.85,300.7 361.18,297.9 361.52,300.2 361.85,297.4 362.18,300.8 362.52,297.9 362.85,300.8 363.18,295.3 363.52,300.3 363.85,297.3 364.18,300.5 364.52,297.1 364.85,300.9 365.18,298.6 365.52,301.1 365.85,298.3 366.18,302.1 366.52,297.0 366.85,301.3 367.18,298.2 367.52,302.3 367.85,299.1 368.18,301.7 368.52,298.1 368.85,301.3 369.18,298.5 369.52,301.5 369.85,299.0 370.18,300.5 370.52,298.4 370.85,300.7 371.18,298.2 371.52,302.6 371.85,295.4 372.18,302.3 372.52,298.4 372.85,301.6 373.18,298.8 373.52,301.2 373.85,298.9 374.18,300.6 374.52,298.0 374.85,301.0 375.18,298.3 375.52,300.7 375.85,298.2 376.18,300.6 376.52,298.1 376.85,300.1 377.18,298.0 377.52,300.4 377.85,297.0 378.18,300.8 378.52,297.9 378.85,300.0 379.18,298.1 379.52,301.1 379.85,296.9 380.18,300.4 380.52,295.0 380.85,300.5 381.18,297.0 381.52,300.4 381.85,297.7 382.18,301.0 382.52,298.3 382.85,301.0 383.18,298.5 383.52,301.6 383.85,299.1 384.18,302.4 384.52,296.4 384.85,302.1 385.18,297.8 385.52,301.1 385.85,298.3 386.18,300.7 386.52,297.8 386.85,302.2 387.18,298.2 387.52,300.7 387.85,297.3 388.18,300.3 388.52,298.1 388.85,300.7 389.18,298.5 389.52,302.0 389.85,296.8 390.18,301.4 390.52,298.6 390.85,301.6 391.18,298.7 391.52,301.2 391.85,297.1 392.18,301.6 392.52,298.5 392.85,301.5 393.18,298.5 393.52,302.8 393.85,298.3 394.18,301.4 394.52,298.5 394.85,300.9 395.18,298.8 395.52,301.6 395.85,298.7 396.18,301.0 396.52,298.7 396.85,301.8 397.18,298.8 397.52,301.3 397.85,299.3 398.18,301.8 398.52,298.5 398.85,302.2 399.18,299.4 399.52,301.1 399.85,298.4 400.18,301.4 400.52,298.0 400.85,300.3 401.18,296.9 401.52,300.8 401.85,297.9 402.18,301.6 402.52,298.2 402.85,300.8 403.18,298.2 403.52,301.3 403.85,298.9 404.18,300.8 404.52,297.9 404.85,301.5 405.18,298.4 405.52,300.9 405.85,298.7 406.18,300.4 406.52,297.9 406.85,300.3 407.18,298.2 407.52,301.0 407.85,297.1 408.18,301.0 408.52,297.9 408.85,300.9 409.18,297.8 409.52,301.4 409.85,297.9 410.18,301.5 410.52,298.7 410.85,301.7 411.18,298.6 411.52,301.3 411.85,298.2 412.18,303.2 412.52,298.4 412.85,301.2 413.18,298.5 413.52,300.8 413.85,298.7 414.18,301.2 414.52,297.8 414.85,301.5 415.18,298.0 415.52,300.8 415.85,297.0 416.18,300.8 416.52,297.5 416.85,300.7 417.18,298.4 417.52,300.8 417.85,297.6 418.18,300.8 418.52,298.9 418.85,301.8 419.18,299.0 419.52,301.8 419.85,299.3 420.18,301.8 420.52,298.6 420.85,301.0 421.18,298.3 421.52,300.4 421.85,297.1 422.18,300.1 422.52,297.4 422.85,300.0 423.18,297.0 423.52,299.5 423.85,296.9 424.18,299.8 424.52,298.5 424.85,301.2 425.18,298.2 425.52,301.6 425.85,297.8 426.18,301.6 426.52,298.5 426.85,302.3 427.18,297.9 427.52,300.3 427.85,298.0 428.18,300.9 428.52,298.9 428.85,301.0 429.18,298.1 429.52,301.4 429.85,297.7 430.18,301.7 430.52,298.5 430.85,301.5 431.18,298.5 431.52,300.5 431.85,298.2 432.18,301.6 432.52,298.4 432.85,301.3 433.18,297.8 433.52,301.1 433.85,297.9 434.18,300.5 434.52,297.8 434.85,300.7 435.18,298.4 435.52,300.8 435.85,298.0 436.18,301.2 436.52,298.0 436.85,301.2 437.18,298.8 437.52,301.5 437.85,298.9 438.18,300.8 438.52,297.9 438.85,301.4 439.18,297.4 439.52,301.3 439.85,297.7 440.18,301.4 440.52,298.2 440.85,301.0 441.18,298.4 441.52,301.5 441.85,297.9 442.18,300.7 442.52,298.3 442.85,302.0 443.18,298.1 443.52,301.2 443.85,298.3 444.18,301.4 444.52,298.3 444.85,302.3 445.18,299.1 445.52,302.8 445.85,299.7 446.18,301.8 446.52,299.2 446.85,301.8 447.18,299.3 447.52,301.7 447.85,298.9 448.18,301.0 448.52,297.9 448.85,300.6 449.18,298.1 449.52,301.8 449.85,297.7 450.18,300.9 450.52,297.8 450.85,300.6 451.18,298.2 451.52,300.4 451.85,298.1 452.18,300.8 452.52,298.4 452.85,301.3 453.18,298.0 453.52,300.9 453.85,298.5 454.18,300.7 454.52,297.9 454.85,300.4 455.18,298.2 455.52,300.3 455.85,298.2 456.18,301.4 456.52,297.8 456.85,300.7 457.18,298.4 457.52,300.9 457.85,298.4 458.18,301.3 458.52,298.5 458.85,302.3 459.18,299.4 459.52,302.5 459.85,298.5 460.18,301.2 460.52,298.7 460.85,301.4 461.18,298.9 461.52,301.3 461.85,298.5 462.18,301.3 462.52,298.7 462.85,301.5 463.18,299.4 463.52,302.0 463.85,298.5 464.18,301.3 464.52,298.1 464.85,301.1 465.18,298.7 465.52,301.3 465.85,298.1 466.18,301.1 466.52,298.6 466.85,300.8 467.18,298.5 467.52,301.4 467.85,298.3 468.18,302.0 468.52,298.7 468.85,301.2 469.18,298.4 469.52,301.3 469.85,297.6 470.18,301.3 470.52,299.5 470.85,302.0 471.18,298.8 471.52,301.6 471.85,299.2 472.18,301.7 472.52,298.3 472.85,303.0 473.18,299.4 473.52,301.6 473.85,298.9 474.18,301.5 474.52,297.9 474.85,302.2 475.18,299.5 475.52,301.6 475.85,299.1 476.18,301.6 476.52,299.1 476.85,301.7 477.18,298.1 477.52,301.3 477.85,299.4 478.18,301.6 478.52,298.1 478.85,302.0 479.18,299.1 479.52,301.0 479.85,299.4 480.18,301.8 480.52,299.3 480.85,301.3 481.18,298.5 481.52,302.3 481.85,298.1 482.18,301.1 482.52,298.3 482.85,301.8 483.18,298.2 483.52,301.0 483.85,298.8 484.18,301.1 484.52,298.5 484.85,301.2 485.18,298.8 485.52,300.8 485.85,298.0 486.18,301.0 486.52,297.5 486.85,301.8 487.18,297.6 487.52,301.4 487.85,298.2 488.18,301.7 488.52,298.6 488.85,301.3 489.18,298.6 489.52,301.6 489.85,298.2 490.18,301.2 490.52,298.3 490.85,301.0 491.18,298.1 491.52,301.1 491.85,298.0 492.18,300.1 492.52,296.4 492.85,300.3 493.18,297.5 493.52,300.7 493.85,297.9 494.18,300.5 494.52,298.3 494.85,301.0 495.18,299.0 495.52,301.6 495.85,296.0 496.18,300.4 496.52,297.7 496.85,300.7 497.18,297.4 497.52,299.7 497.85,297.0 498.18,299.7 498.52,297.1 498.85,299.6 499.18,296.8 499.52,299.9 499.85,298.3 500.18,302.0 500.52,298.4 500.85,300.0 501.18,297.8 501.52,300.7 501.85,297.5 502.18,300.3 502.52,297.3 502.85,300.2 503.18,298.3 503.52,300.4 503.85,297.5 504.18,300.2 504.52,297.7 504.85,300.2 505.18,297.7 505.52,300.8 505.85,298.3 506.18,300.3 506.52,298.3 506.85,301.3 507.18,299.0 507.52,301.2 507.85,297.8 508.18,300.3 508.52,297.9 508.85,300.1 509.18,297.3 509.52,299.7 509.85,297.7 510.18,299.7 510.52,296.9 510.85,300.0 511.18,296.5 511.52,300.4 511.85,297.5 512.18,300.0 512.52,297.6 512.85,300.1 513.18,297.7 513.52,300.6 513.85,297.1 514.18,300.6 514.52,298.1 514.85,300.6 515.18,297.9 515.52,299.9 515.85,297.7 516.18,300.3 516.52,297.9 516.85,299.9 517.18,298.1 517.52,300.7 517.85,297.7 518.18,300.0 518.52,297.1 518.85,299.8 519.18,296.9 519.52,299.6 519.85,297.0 520.18,299.5 520.52,293.5 520.85,299.4 521.18,296.4 521.52,299.0 521.85,296.9 522.18,300.9 522.52,297.2 522.85,302.8 523.18,296.5 523.52,298.9 523.85,296.7 524.18,299.2 524.52,295.8 524.85,300.1 525.18,296.5 525.52,299.9 525.85,297.3 526.18,299.6 526.52,296.7 526.85,299.7 527.18,297.0 527.52,300.1 527.85,297.0 528.18,300.5 528.52,297.8 528.85,300.0 529.18,297.9 529.52,300.5 529.85,298.1 530.18,300.1 530.52,297.4 530.85,300.2 531.18,297.0 531.52,298.9 531.85,296.6 532.18,298.5 532.52,296.3 532.85,298.2 533.18,296.4 533.52,299.1 533.85,296.1 534.18,298.9 534.52,296.3 534.85,299.4 535.18,297.1 535.52,299.6 535.85,296.9 536.18,299.5 536.52,295.8 536.85,299.2 537.18,296.7 537.52,300.0 537.85,296.4 538.18,300.1 538.52,297.1 538.85,300.6 539.18,296.8 539.52,300.1 539.85,296.8 540.18,300.6 540.52,297.0 540.85,299.7 541.18,296.7 541.52,299.1 541.85,296.7 542.18,300.0 542.52,296.9 542.85,299.7 543.18,296.2 543.52,299.8 543.85,296.7 544.18,299.7 544.52,297.2 544.85,300.1 545.18,297.3 545.52,300.0 545.85,297.1 546.18,299.5 546.52,296.2 546.85,299.4 547.18,296.3 547.52,298.9 547.85,296.3 548.18,299.3 548.52,297.3 548.85,300.2 549.18,297.4 549.52,299.5 549.85,296.3 550.18,300.6 550.52,297.6 550.85,300.1 551.18,296.5 551.52,299.3 551.85,296.7 552.18,299.6 552.52,296.9 552.85,300.3 553.18,297.5 553.52,300.2 553.85,297.3 554.18,300.5 554.52,298.2 554.85,300.5 555.18,298.2 555.52,300.9 555.85,298.1 556.18,301.0 556.52,297.2 556.85,299.6 557.18,297.1 557.52,299.4 557.85,297.6 558.18,299.5 558.52,296.5 558.85,299.6 559.18,296.9 559.52,300.5 559.85,297.7 560.18,300.5 560.52,297.2 560.85,300.3 561.18,295.9 561.52,299.7 561.85,296.9 562.18,299.9 562.52,297.3 562.85,300.5 563.18,296.5 563.52,299.2 563.85,297.2 564.18,299.3 564.52,297.4 564.85,300.8 565.18,298.5 565.52,301.2 565.85,297.8 566.18,300.4 566.52,297.3 566.85,300.4 567.18,297.8 567.52,300.5 567.85,298.3 568.18,300.0 568.52,297.9 568.85,300.1 569.18,298.0 569.52,299.9 569.85,296.9 570.18,299.8 570.52,297.2 570.85,299.7 571.18,296.9 571.52,300.3 571.85,296.3 572.18,300.2 572.52,297.7 572.85,299.7 573.18,296.6 573.52,300.0 573.85,297.1 574.18,299.9 574.52,296.7 574.85,299.7 575.18,297.5 575.52,301.1 575.85,296.5 576.18,300.1 576.52,297.4 576.85,300.7 577.18,297.7 577.52,299.9 577.85,296.8 578.18,299.6 578.52,296.7 578.85,298.8 579.18,296.2 579.52,299.3 579.85,296.6 580.18,299.7 580.52,297.4 580.85,299.9 581.18,297.2 581.52,300.5 581.85,296.6 582.18,300.3 582.52,296.3 582.85,299.5 583.18,296.8 583.52,300.0 583.85,297.0 584.18,299.9 584.52,297.0 584.85,300.7 585.18,297.8 585.52,300.6 585.85,297.2 586.18,300.4 586.52,297.3 586.85,301.2 587.18,298.5 587.52,300.4 587.85,298.7 588.18,300.7 588.52,297.5 588.85,300.0 589.18,297.5 589.52,299.9 589.85,297.3 590.18,299.9 590.52,297.3 590.85,299.9 591.18,296.7 591.52,299.4 591.85,297.1 592.18,300.5 592.52,297.5 592.85,300.1 593.18,295.8 593.52,300.8 593.85,296.6 594.18,299.1 594.52,296.7 594.85,299.2 595.18,297.2 595.52,299.3 595.85,297.0 596.18,300.1 596.52,296.7 596.85,300.0 597.18,297.1 597.52,300.4 597.85,297.1 598.18,299.6 598.52,297.3 598.85,299.8 599.18,296.8 599.52,299.2 599.85,296.5 600.18,300.2 600.52,296.5 600.85,300.5 601.18,297.7 601.52,299.7 601.85,296.6 602.18,300.0 602.52,296.7 602.85,300.0 603.18,296.2 603.52,301.1 603.85,296.8 604.18,300.8 604.52,297.5 604.85,300.5 605.18,298.1 605.52,300.4 605.85,297.3 606.18,300.5 606.52,297.6 606.85,300.4 607.18,297.1 607.52,300.2 607.85,297.1 608.18,299.4 608.52,294.5 608.85,299.7 609.18,297.7 609.52,300.0 609.85,296.4 610.18,299.4 610.52,297.9 610.85,301.8 611.18,297.9 611.52,299.9 611.85,297.4 612.18,299.8 612.52,296.9 612.85,299.7 613.18,296.1 613.52,299.5 613.85,296.3 614.18,299.4 614.52,296.3 614.85,300.0 615.18,295.3 615.52,298.7 615.85,296.6 616.18,299.4 616.52,297.1 616.85,301.1 617.18,296.3 617.52,300.7 617.85,296.5 618.18,299.6 618.52,297.7 618.85,299.9 619.18,297.0 619.52,304.6 619.85,296.6 620.18,299.8 620.52,294.2 620.85,301.9 621.18,297.4 621.52,300.5 621.85,296.7 622.18,299.0 622.52,296.6 622.85,298.8 623.18,295.2 623.52,300.3 623.85,296.0 624.18,298.9 624.52,296.1 624.85,299.6 625.18,296.4 625.52,299.4 625.85,296.9 626.18,299.4 626.52,297.2 626.85,300.1 627.18,296.4 627.52,298.9 627.85,296.4 628.18,300.0 628.52,297.4 628.85,300.1 629.18,297.0 629.52,299.6 629.85,296.4 630.18,299.3 630.52,297.0 630.85,299.3 631.18,295.8 631.52,300.2 631.85,296.5 632.18,300.3 632.52,297.3 632.85,299.8 633.18,297.2 633.52,300.0 633.85,297.6 634.18,299.9 634.52,296.9 634.85,300.2 635.18,297.2 635.52,299.9 635.85,297.0 636.18,299.8 636.52,297.2 636.85,299.7 637.18,297.8 637.52,299.5 637.85,297.3 638.18,300.8 638.52,296.9 638.85,299.2 639.18,296.7 639.52,299.4 639.85,297.3 640.18,299.4 640.52,295.8 640.85,299.0 641.18,296.1 641.52,299.7 641.85,296.3 642.18,299.0 642.52,296.2 642.85,299.3 643.18,296.5 643.52,299.4 643.85,296.3 644.18,299.1 644.52,297.0 644.85,300.0 645.18,297.5 645.52,299.5 645.85,296.3 646.18,299.3 646.52,296.7 646.85,299.3 647.18,296.4 647.52,299.0 647.85,296.2 648.18,301.3 648.52,296.0 648.85,299.4 649.18,296.2 649.52,299.5 649.85,297.2 650.18,299.7 650.52,297.0 650.85,299.2 651.18,296.6 651.52,299.1 651.85,296.7 652.18,300.2 652.52,296.3 652.85,299.5 653.18,296.2 653.52,299.3 653.85,295.9 654.18,300.0 654.52,296.6 654.85,300.1 655.18,295.9 655.52,299.9 655.85,297.1 656.18,299.9 656.52,297.2 656.85,300.2 657.18,297.3 657.52,300.5 657.85,295.6 658.18,300.8 658.52,297.1 658.85,300.4 659.18,296.2 659.52,299.7 659.85,297.4 660.18,299.9 660.52,297.3 660.85,299.8 661.18,297.9 661.52,300.7 661.85,296.4 662.18,300.8 662.52,297.6 662.85,299.9 663.18,297.3 663.52,299.0 663.85,296.6 664.18,299.3 664.52,295.8 664.85,300.6 665.18,296.7 665.52,298.6 665.85,296.2 666.18,299.7 666.52,297.5 666.85,300.0 667.18,297.7 667.52,300.8 667.85,297.4 668.18,300.8 668.52,297.9 668.85,300.2 669.18,298.1 669.52,300.4 669.85,297.8 670.18,299.9 670.52,296.3 670.85,299.2 671.18,297.0 671.52,300.1 671.85,296.1 672.18,298.6 672.52,296.5 672.85,299.6 673.18,295.9 673.52,298.9 673.85,297.0 674.18,299.8 674.52,296.9 674.85,299.1 675.18,297.0 675.52,300.2 675.85,295.9 676.18,299.0 676.52,297.0 676.85,299.4 677.18,296.3 677.52,300.3 677.85,297.3 678.18,299.7 678.52,298.0 678.85,300.0 679.18,297.3 679.52,300.3 679.85,297.0 680.18,300.0 680.52,296.7 680.85,300.5 681.18,296.8"/>
<path d="M65.5 299.2V310.4M70.5 299.1V306.5M77.5 299.1V305.9M85.5 293.9V310.3M92.5 290.1V305.6M104.5 295.0V301.8M111.5 275.8V310.6M120.5 277.8V312.3M128.5 281.2V309.6M133.5 293.4V304.9M136.5 282.0V306.9M143.5 270.6V318.4M154.5 260.7V318.1M161.5 288.1V306.8M171.5 266.6V308.4M180.5 277.1V317.0M184.5 290.4V305.4M190.5 294.7V303.5M198.5 288.4V308.1M201.5 285.4V303.7M207.5 294.7V305.1M213.5 294.2V305.8M222.5 288.1V306.2M231.5 268.3V307.0M240.5 275.4V305.2M249.5 285.4V305.9M259.5 258.8V310.4M270.5 278.4V303.0M278.5 288.0V308.1M287.5 277.8V306.1M295.5 283.2V306.2M305.5 267.7V307.3M314.5 284.6V302.2M323.5 263.0V314.9M329.5 288.7V302.0M332.5 285.1V302.5M338.5 293.2V301.3M349.5 257.6V320.2M353.5 296.9V302.3M365.5 285.3V304.8M373.5 290.2V304.3M384.5 273.2V306.3M394.5 284.5V305.6M399.5 287.9V303.7M410.5 296.6V302.4M421.5 285.8V305.7M432.5 287.0V304.4M439.5 296.2V306.2M449.5 288.4V306.3M458.5 293.8V305.3M468.5 292.8V304.0M476.5 296.1V304.8M485.5 293.1V306.9M493.5 290.5V304.0M502.5 291.1V305.9M510.5 295.0V305.3M517.5 292.7V303.5M526.5 292.2V304.8M536.5 294.9V303.7M543.5 296.3V303.7M553.5 296.8V306.0M560.5 295.7V303.2M572.5 293.8V303.3M581.5 296.7V304.5M590.5 293.5V305.9M595.5 294.6V303.0M599.5 296.7V302.4M609.5 294.4V306.1M619.5 295.4V308.2M630.5 296.2V302.4M642.5 296.4V306.6M651.5 295.1V305.9M659.5 294.1V310.6M662.5 296.7V302.9M669.5 296.3V303.4M678.5 296.6V305.9" stroke="#5ec25e" stroke-width="1.2" stroke-opacity="1.0" fill="none"/>
<polyline fill="none" stroke="#ff0000" stroke-width="1.0" stroke-linejoin="round" points="58.85,407.4 59.18,405.3 59.52,408.4 59.85,405.2 60.18,408.4 60.52,405.4 60.85,407.4 61.18,405.4 61.52,408.6 61.85,405.7 62.18,407.6 62.52,404.5 62.85,407.6 63.18,405.6 63.52,409.4 63.85,405.4 64.18,409.6 64.52,405.7 64.85,408.1 65.18,405.5 65.52,408.1 65.85,405.4 66.18,407.6 66.52,405.2 66.85,407.9 67.18,404.1 67.52,407.1 67.85,405.3 68.18,407.9 68.52,404.2 68.85,407.7 69.18,405.5 69.52,408.6 69.85,405.1 70.18,407.3 70.52,404.5 70.85,407.3 71.18,404.4 71.52,407.5 71.85,405.0 72.18,407.6 72.52,404.7 72.85,407.6 73.18,405.2 73.52,408.2 73.85,405.8 74.18,407.9 74.52,405.9 74.85,411.8 75.18,405.3 75.52,408.6 75.85,404.9 76.18,407.7 76.52,405.1 76.85,406.8 77.18,404.7 77.52,407.8 77.85,404.4 78.18,407.3 78.52,405.5 78.85,408.2 79.18,405.5 79.52,408.5 79.85,406.0 80.18,407.8 80.52,406.1 80.85,409.0 81.18,405.7 81.52,408.5 81.85,405.6 82.18,409.5 82.52,406.0 82.85,408.5 83.18,404.6 83.52,407.6 83.85,404.8 84.18,408.1 84.52,406.0 84.85,408.9 85.18,404.4 85.52,408.2 85.85,406.1 86.18,408.4 86.52,405.1 86.85,409.1 87.18,405.6 87.52,408.0 87.85,405.8 88.18,408.7 88.52,405.0 88.85,407.8 89.18,404.8 89.52,407.1 89.85,405.0 90.18,409.9 90.52,405.6 90.85,407.5 91.18,405.3 91.52,408.2 91.85,406.3 92.18,408.0 92.52,406.3 92.85,408.7 93.18,403.7 93.52,408.0 93.85,405.4 94.18,407.6 94.52,403.7 94.85,408.3 95.18,404.7 95.52,407.2 95.85,405.1 96.18,407.1 96.52,405.3 96.85,407.2 97.18,404.7 97.52,407.1 97.85,404.7 98.18,407.2 98.52,404.0 98.85,408.1 99.18,405.2 99.52,407.1 99.85,404.2 100.18,408.6 100.52,405.3 100.85,407.4 101.18,404.5 101.52,407.9 101.85,405.1 102.18,407.4 102.52,404.1 102.85,406.6 103.18,404.2 103.52,407.0 103.85,404.0 104.18,407.3 104.52,403.6 104.85,408.4 105.18,404.2 105.52,408.0 105.85,404.4 106.18,407.7 106.52,405.2 106.85,407.1 107.18,405.3 107.52,407.2 107.85,404.5 108.18,406.6 108.52,404.4 108.85,407.2 109.18,404.4 109.52,407.1 109.85,404.5 110.18,406.9 110.52,404.8 110.85,406.8 111.18,405.3 111.52,406.9 111.85,404.8 112.18,407.4 112.52,405.1 112.85,407.3 113.18,404.7 113.52,408.0 113.85,405.3 114.18,409.4 114.52,405.6 114.85,408.4 115.18,405.7 115.52,408.0 115.85,405.5 116.18,409.1 116.52,405.8 116.85,408.3 117.18,405.8 117.52,408.7 117.85,406.0 118.18,409.1 118.52,405.7 118.85,407.9 119.18,405.8 119.52,407.8 119.85,405.7 120.18,409.1 120.52,404.5 120.85,407.6 121.18,405.1 121.52,407.1 121.85,405.0 122.18,407.5 122.52,404.9 122.85,406.7 123.18,404.8 123.52,407.3 123.85,404.7 124.18,407.9 124.52,404.5 124.85,407.5 125.18,405.8 125.52,407.9 125.85,405.2 126.18,408.8 126.52,404.8 126.85,408.2 127.18,403.9 127.52,407.6 127.85,405.5 128.18,407.9 128.52,404.6 128.85,407.4 129.18,404.8 129.52,407.4 129.85,404.4 130.18,407.5 130.52,403.8 130.85,406.7 131.18,405.2 131.52,407.4 131.85,405.3 132.18,408.1 132.52,403.6 132.85,407.1 133.18,405.2 133.52,407.8 133.85,404.9 134.18,406.8 134.52,404.9 134.85,406.4 135.18,405.1 135.52,407.2 135.85,404.5 136.18,407.4 136.52,404.3 136.85,407.4 137.18,404.8 137.52,408.3 137.85,404.7 138.18,407.1 138.52,404.1 138.85,407.6 139.18,405.6 139.52,407.7 139.85,404.8 140.18,407.4 140.52,405.7 140.85,408.3 141.18,405.8 141.52,407.1 141.85,405.4 142.18,407.3 142.52,404.7 142.85,408.3 143.18,404.9 143.52,408.4 143.85,404.4 144.18,406.9 144.52,404.8 144.85,407.8 145.18,404.9 145.52,407.2 145.85,403.7 146.18,407.9 146.52,405.8 146.85,407.6 147.18,405.2 147.52,409.5 147.85,405.8 148.18,408.4 148.52,405.2 148.85,408.0 149.18,405.2 149.52,407.0 149.85,404.8 150.18,408.0 150.52,405.1 150.85,408.5 151.18,405.1 151.52,408.2 151.85,405.5 152.18,408.4 152.52,406.0 152.85,409.0 153.18,405.5 153.52,408.1 153.85,405.3 154.18,408.5 154.52,406.0 154.85,408.5 155.18,405.5 155.52,408.1 155.85,405.1 156.18,408.8 156.52,404.1 156.85,407.7 157.18,404.8 157.52,406.7 157.85,404.1 158.18,407.7 158.52,403.7 158.85,407.6 159.18,405.0 159.52,407.5 159.85,405.2 160.18,408.5 160.52,405.8 160.85,408.3 161.18,405.8 161.52,408.1 161.85,405.6 162.18,407.1 162.52,404.5 162.85,407.5 163.18,404.0 163.52,406.8 163.85,404.3 164.18,407.5 164.52,404.9 164.85,407.6 165.18,404.8 165.52,407.6 165.85,405.1 166.18,409.2 166.52,406.5 166.85,408.6 167.18,406.2 167.52,408.6 167.85,405.8 168.18,408.3 168.52,406.0 168.85,408.3 169.18,404.9 169.52,407.3 169.85,405.5 170.18,407.6 170.52,404.6 170.85,407.2 171.18,405.2 171.52,407.7 171.85,404.2 172.18,407.1 172.52,404.8 172.85,407.3 173.18,405.4 173.52,408.7 173.85,405.4 174.18,407.9 174.52,406.0 174.85,408.5 175.18,404.8 175.52,407.4 175.85,404.8 176.18,407.6 176.52,404.8 176.85,407.8 177.18,405.7 177.52,407.6 177.85,404.6 178.18,408.2 178.52,405.9 178.85,407.7 179.18,405.3 179.52,407.8 179.85,405.2 180.18,407.6 180.52,404.7 180.85,408.8 181.18,405.5 181.52,407.3 181.85,405.1 182.18,409.4 182.52,405.6 182.85,406.9 183.18,404.5 183.52,407.1 183.85,404.1 184.18,407.4 184.52,405.2 184.85,408.9 185.18,404.8 185.52,407.3 185.85,405.5 186.18,407.8 186.52,405.3 186.85,407.1 187.18,403.9 187.52,406.7 187.85,403.9 188.18,407.9 188.52,403.3 188.85,407.7 189.18,405.4 189.52,408.7 189.85,404.8 190.18,408.3 190.52,406.1 190.85,408.3 191.18,406.4 191.52,408.4 191.85,406.1 192.18,410.1 192.52,405.9 192.85,409.1 193.18,406.2 193.52,409.4 193.85,406.4 194.18,408.9 194.52,406.2 194.85,408.6 195.18,406.7 195.52,408.5 195.85,405.6 196.18,408.6 196.52,405.2 196.85,408.4 197.18,405.0 197.52,407.8 197.85,405.9 198.18,407.5 198.52,404.8 198.85,407.5 199.18,405.1 199.52,408.3 199.85,405.6 200.18,407.7 200.52,405.1 200.85,406.8 201.18,404.7 201.52,407.2 201.85,404.4 202.18,407.7 202.52,403.9 202.85,407.7 203.18,404.0 203.52,407.4 203.85,405.0 204.18,408.3 204.52,405.5 204.85,407.7 205.18,405.7 205.52,408.3 205.85,404.9 206.18,407.5 206.52,404.8 206.85,407.7 207.18,404.8 207.52,407.6 207.85,404.8 208.18,407.3 208.52,403.5 208.85,407.0 209.18,404.5 209.52,407.5 209.85,403.8 210.18,407.4 210.52,404.5 210.85,407.0 211.18,404.4 211.52,408.0 211.85,405.2 212.18,410.1 212.52,405.2 212.85,408.8 213.18,405.7 213.52,409.0 213.85,405.3 214.18,407.6 214.52,405.3 214.85,407.2 215.18,405.1 215.52,407.3 215.85,404.8 216.18,407.5 216.52,405.4 216.85,408.6 217.18,405.1 217.52,407.7 217.85,405.1 218.18,409.0 218.52,405.6 218.85,409.5 219.18,405.9 219.52,408.4 219.85,405.6 220.18,408.5 220.52,406.1 220.85,407.8 221.18,405.1 221.52,407.5 221.85,404.2 222.18,406.8 222.52,404.9 222.85,406.8 223.18,404.7 223.52,407.7 223.85,405.4 224.18,407.4 224.52,405.6 224.85,407.9 225.18,405.5 225.52,408.4 225.85,405.7 226.18,407.3 226.52,405.3 226.85,407.6 227.18,404.7 227.52,407.8 227.85,404.9 228.18,407.3 228.52,404.6 228.85,406.9 229.18,405.0 229.52,407.6 229.85,405.3 230.18,407.4 230.52,403.7 230.85,408.5 231.18,403.3 231.52,407.5 231.85,405.2 232.18,407.6 232.52,405.0 232.85,406.9 233.18,404.7 233.52,406.0 233.85,404.0 234.18,407.4 234.52,404.7 234.85,407.0 235.18,404.3 235.52,407.4 235.85,404.6 236.18,407.5 236.52,405.0 236.85,407.6 237.18,405.0 237.52,407.1 237.85,404.7 238.18,407.8 238.52,404.5 238.85,407.2 239.18,404.4 239.52,407.3 239.85,404.7 240.18,407.4 240.52,402.7 240.85,407.1 241.18,403.5 241.52,405.5 241.85,403.4 242.18,405.8 242.52,403.7 242.85,406.4 243.18,403.9 243.52,405.9 243.85,403.7 244.18,405.3 244.52,402.7 244.85,406.0 245.18,403.5 245.52,406.8 245.85,403.0 246.18,406.4 246.52,402.5 246.85,405.3 247.18,402.3 247.52,405.2 247.85,402.8 248.18,405.5 248.52,403.3 248.85,405.3 249.18,402.6 249.52,405.0 249.85,403.3 250.18,406.0 250.52,403.0 250.85,405.6 251.18,403.7 251.52,407.0 251.85,403.6 252.18,406.8 252.52,404.7 252.85,407.8 253.18,404.3 253.52,406.6 253.85,403.4 254.18,406.8 254.52,403.6 254.85,406.2 255.18,403.0 255.52,406.3 255.85,403.1 256.18,405.6 256.52,402.6 256.85,404.8 257.18,403.1 257.52,405.7 257.85,403.3 258.18,405.2 258.52,401.2 258.85,404.6 259.18,401.3 259.52,406.1 259.85,402.8 260.18,405.5 260.52,403.2 260.85,406.3 261.18,403.5 261.52,405.7 261.85,404.0 262.18,406.0 262.52,403.6 262.85,405.2 263.18,403.5 263.52,405.6 263.85,403.5 264.18,405.8 264.52,403.4 264.85,406.9 265.18,403.1 265.52,406.0 265.85,404.2 266.18,406.7 266.52,403.7 266.85,407.9 267.18,404.2 267.52,407.1 267.85,405.2 268.18,407.9 268.52,405.5 268.85,408.3 269.18,405.8 269.52,409.3 269.85,405.9 270.18,407.8 270.52,404.6 270.85,407.3 271.18,405.2 271.52,407.8 271.85,405.2 272.18,407.7 272.52,405.5 272.85,408.4 273.18,405.7 273.52,408.4 273.85,405.9 274.18,407.9 274.52,402.2 274.85,407.5 275.18,405.0 275.52,407.0 275.85,404.3 276.18,407.0 276.52,404.9 276.85,408.9 277.18,405.4 277.52,408.6 277.85,406.1 278.18,409.8 278.52,407.1 278.85,409.2 279.18,406.3 279.52,409.7 279.85,406.6 280.18,408.9 280.52,407.2 280.85,409.7 281.18,406.2 281.52,408.7 281.85,405.4 282.18,408.8 282.52,406.0 282.85,408.1 283.18,406.2 283.52,408.2 283.85,406.0 284.18,409.1 284.52,405.9 284.85,407.9 285.18,405.3 285.52,408.3 285.85,405.0 286.18,408.6 286.52,405.3 286.85,408.3 287.18,406.5 287.52,408.6 287.85,406.4 288.18,408.4 288.52,404.1 288.85,408.2 289.18,406.5 289.52,408.7 289.85,405.6 290.18,409.5 290.52,405.2 290.85,407.3 291.18,404.8 291.52,407.5 291.85,404.9 292.18,406.7 292.52,403.0 292.85,407.0 293.18,404.3 293.52,406.8 293.85,404.5 294.18,407.0 294.52,403.5 294.85,407.1 295.18,403.6 295.52,405.7 295.85,403.3 296.18,406.2 296.52,403.0 296.85,406.8 297.18,403.8 297.52,407.0 297.85,404.3 298.18,407.2 298.52,404.4 298.85,407.1 299.18,403.5 299.52,406.8 299.85,404.4 300.18,406.6 300.52,404.4 300.85,406.0 301.18,404.1 301.52,406.2 301.85,404.3 302.18,406.6 302.52,404.5 302.85,409.9 303.18,403.5 303.52,406.5 303.85,404.1 304.18,405.9 304.52,402.8 304.85,405.8 305.18,400.6 305.52,406.6 305.85,403.2 306.18,406.2 306.52,404.1 306.85,406.8 307.18,403.4 307.52,407.7 307.85,404.4 308.18,406.8 308.52,404.1 308.85,408.3 309.18,404.2 309.52,406.2 309.85,403.8 310.18,406.2 310.52,404.1 310.85,406.1 311.18,404.5 311.52,406.6 311.85,404.4 312.18,406.4 312.52,403.6 312.85,406.6 313.18,403.5 313.52,406.1 313.85,401.9 314.18,405.3 314.52,403.6 314.85,405.6 315.18,402.7 315.52,405.9 315.85,402.1 316.18,404.8 316.52,402.6 316.85,405.6 317.18,402.5 317.52,404.4 317.85,401.6 318.18,404.6 318.52,401.4 318.85,404.9 319.18,402.0 319.52,405.4 319.85,401.4 320.18,404.8 320.52,402.7 320.85,406.0 321.18,402.8 321.52,405.1 321.85,403.0 322.18,404.8 322.52,402.3 322.85,406.1 323.18,403.1 323.52,405.6 323.85,402.3 324.18,405.7 324.52,403.6 324.85,406.1 325.18,403.8 325.52,410.5 325.85,404.2 326.18,406.8 326.52,404.4 326.85,406.8 327.18,404.7 327.52,408.2 327.85,404.9 328.18,406.2 328.52,403.7 328.85,406.0 329.18,404.2 329.52,405.6 329.85,403.0 330.18,405.5 330.52,401.6 330.85,405.0 331.18,402.9 331.52,406.5 331.85,403.3 332.18,405.2 332.52,402.6 332.85,405.2 333.18,402.0 333.52,405.0 333.85,402.6 334.18,405.2 334.52,402.9 334.85,406.0 335.18,403.0 335.52,405.1 335.85,403.5 336.18,405.3 336.52,403.3 336.85,405.7 337.18,403.1 337.52,405.7 337.85,403.2 338.18,405.9 338.52,403.6 338.85,405.3 339.18,402.3 339.52,406.4 339.85,402.8 340.18,406.5 340.52,401.8 340.85,406.1 341.18,403.0 341.52,405.1 341.85,402.9 342.18,405.1 342.52,403.1 342.85,406.1 343.18,403.0 343.52,405.5 343.85,402.9 344.18,405.7 344.52,403.4 344.85,405.6 345.18,402.9 345.52,406.1 345.85,403.8 346.18,405.9 346.52,403.9 346.85,406.0 347.18,404.1 347.52,406.3 347.85,404.6 348.18,406.8 348.52,404.5 348.85,408.1 349.18,403.8 349.52,408.0 349.85,404.8 350.18,407.3 350.52,403.9 350.85,406.1 351.18,403.8 351.52,406.8 351.85,403.3 352.18,406.1 352.52,403.5 352.85,406.0 353.18,404.3 353.52,406.6 353.85,404.6 354.18,407.0 354.52,404.6 354.85,406.2 355.18,404.4 355.52,407.1 355.85,403.4 356.18,406.9 356.52,404.1 356.85,407.3 357.18,403.8 357.52,406.7 357.85,403.0 358.18,406.6 358.52,403.6 358.85,405.8 359.18,404.2 359.52,407.1 359.85,403.0 360.18,407.3 360.52,404.0 360.85,406.8 361.18,403.6 361.52,407.1 361.85,404.1 362.18,406.8 362.52,404.3 362.85,407.2 363.18,404.6 363.52,406.3 363.85,403.3 364.18,406.2 364.52,404.0 364.85,407.0 365.18,404.5 365.52,406.5 365.85,404.0 366.18,406.5 366.52,404.6 366.85,407.2 367.18,404.5 367.52,406.6 367.85,404.3 368.18,407.2 368.52,405.1 368.85,407.1 369.18,404.8 369.52,407.5 369.85,403.6 370.18,407.8 370.52,404.9 370.85,407.3 371.18,404.0 371.52,406.9 371.85,404.3 372.18,407.2 372.52,404.8 372.85,407.6 373.18,404.5 373.52,414.7 373.85,403.1 374.18,407.2 374.52,404.8 374.85,406.9 375.18,404.7 375.52,407.0 375.85,404.3 376.18,408.7 376.52,404.5 376.85,407.2 377.18,405.2 377.52,407.2 377.85,404.9 378.18,406.8 378.52,405.0 378.85,408.5 379.18,404.3 379.52,407.1 379.85,404.4 380.18,407.1 380.52,403.3 380.85,407.0 381.18,404.2 381.52,407.6 381.85,404.6 382.18,407.8 382.52,403.4 382.85,406.7 383.18,404.9 383.52,407.2 383.85,404.2 384.18,407.3 384.52,405.2 384.85,406.8 385.18,404.8 385.52,408.1 385.85,405.3 386.18,407.8 386.52,405.1 386.85,408.0 387.18,404.1 387.52,407.4 387.85,404.6 388.18,407.1 388.52,403.7 388.85,407.4 389.18,403.3 389.52,406.7 389.85,404.6 390.18,406.6 390.52,404.8 390.85,407.6 391.18,404.2 391.52,407.9 391.85,403.8 392.18,407.4 392.52,404.7 392.85,407.2 393.18,404.5 393.52,407.3 393.85,404.8 394.18,407.0 394.52,404.2 394.85,406.5 395.18,404.0 395.52,406.9 395.85,403.5 396.18,407.1 396.52,404.7 396.85,406.8 397.18,404.2 397.52,406.7 397.85,404.7 398.18,407.1 398.52,404.4 398.85,406.6 399.18,404.6 399.52,407.0 399.85,404.6 400.18,408.1 400.52,404.2 400.85,407.1 401.18,403.2 401.52,407.7 401.85,405.0 402.18,406.7 402.52,403.6 402.85,406.4 403.18,404.9 403.52,407.5 403.85,403.1 404.18,406.3 404.52,403.5 404.85,406.9 405.18,404.8 405.52,406.6 405.85,404.7 406.18,407.4 406.52,404.5 406.85,407.9 407.18,405.1 407.52,407.8 407.85,404.2 408.18,407.0 408.52,405.2 408.85,407.5 409.18,403.8 409.52,407.0 409.85,404.9 410.18,407.1 410.52,404.2 410.85,407.4 411.18,403.4 411.52,407.2 411.85,404.2 412.18,406.5 412.52,404.8 412.85,406.9 413.18,403.0 413.52,406.3 413.85,403.5 414.18,406.3 414.52,404.0 414.85,407.3 415.18,404.5 415.52,407.1 415.85,404.3 416.18,407.4 416.52,404.8 416.85,407.9 417.18,404.4 417.52,406.8 417.85,404.2 418.18,406.7 418.52,404.1 418.85,407.1 419.18,404.9 419.52,407.9 419.85,405.3 420.18,407.0 420.52,405.6 420.85,407.6 421.18,404.2 421.52,407.4 421.85,404.6 422.18,407.7 422.52,405.7 422.85,407.7 423.18,405.9 423.52,407.5 423.85,404.0 424.18,407.6 424.52,404.0 424.85,407.0 425.18,403.5 425.52,406.9 425.85,404.4 426.18,409.1 426.52,404.1 426.85,407.5 427.18,403.7 427.52,407.8 427.85,404.1 428.18,406.3 428.52,404.4 428.85,407.4 429.18,404.1 429.52,407.3 429.85,405.2 430.18,408.4 430.52,405.7 430.85,407.6 431.18,404.7 431.52,407.8 431.85,404.1 432.18,407.1 432.52,404.8 432.85,406.8 433.18,403.4 433.52,406.1 433.85,404.0 434.18,406.6 434.52,403.5 434.85,406.2 435.18,404.3 435.52,406.5 435.85,403.6 436.18,405.9 436.52,403.2 436.85,407.8 437.18,404.6 437.52,408.8 437.85,405.5 438.18,409.5 438.52,404.8 438.85,408.1 439.18,405.5 439.52,408.4 439.85,405.2 440.18,407.5 440.52,405.5 440.85,409.5 441.18,404.1 441.52,407.7 441.85,405.4 442.18,407.3 442.52,405.3 442.85,407.4 443.18,404.8 443.52,407.3 443.85,404.7 444.18,407.3 444.52,404.5 444.85,407.9 445.18,404.8 445.52,407.2 445.85,404.8 446.18,407.7 446.52,405.1 446.85,407.7 447.18,404.6 447.52,407.5 447.85,404.7 448.18,407.2 448.52,404.2 448.85,406.8 449.18,403.4 449.52,407.4 449.85,404.9 450.18,407.0 450.52,404.6 450.85,407.2 451.18,404.0 451.52,407.5 451.85,405.0 452.18,407.6 452.52,405.6 452.85,408.6 453.18,405.6 453.52,408.1 453.85,405.8 454.18,407.6 454.52,404.1 454.85,407.7 455.18,404.4 455.52,407.4 455.85,404.3 456.18,407.0 456.52,404.5 456.85,407.3 457.18,404.7 457.52,407.4 457.85,404.7 458.18,408.6 458.52,405.1 458.85,409.2 459.18,406.1 459.52,408.8 459.85,406.5 460.18,408.4 460.52,404.9 460.85,408.9 461.18,405.2 461.52,408.6 461.85,403.9 462.18,407.2 462.52,405.0 462.85,407.5 463.18,404.4 463.52,407.7 463.85,404.7 464.18,406.8 464.52,404.7 464.85,407.2 465.18,404.7 465.52,407.7 465.85,404.5 466.18,407.3 466.52,405.8 466.85,408.1 467.18,404.9 467.52,407.6 467.85,404.7 468.18,407.1 468.52,404.7 468.85,407.6 469.18,405.1 469.52,406.9 469.85,405.0 470.18,406.9 470.52,404.2 470.85,406.6 471.18,403.9 471.52,407.1 471.85,404.7 472.18,407.0 472.52,404.0 472.85,407.6 473.18,405.1 473.52,407.7 473.85,404.9 474.18,407.4 474.52,405.3 474.85,407.3 475.18,404.6 475.52,407.5 475.85,405.1 476.18,409.0 476.52,404.9 476.85,408.1 477.18,404.4 477.52,406.9 477.85,404.8 478.18,407.7 478.52,404.7 478.85,407.9 479.18,403.9 479.52,407.2 479.85,405.0 480.18,407.2 480.52,404.9 480.85,408.4 481.18,404.9 481.52,407.4 481.85,405.0 482.18,407.2 482.52,404.2 482.85,408.0 483.18,404.8 483.52,408.2 483.85,404.8 484.18,407.3 484.52,403.9 484.85,407.7 485.18,404.2 485.52,407.4 485.85,403.5 486.18,407.3 486.52,405.0 486.85,407.2 487.18,404.5 487.52,407.6 487.85,405.1 488.18,406.6 488.52,404.5 488.85,407.3 489.18,403.6 489.52,406.3 489.85,404.0 490.18,406.6 490.52,403.9 490.85,405.7 491.18,403.8 491.52,406.3 491.85,403.8 492.18,406.6 492.52,404.2 492.85,406.4 493.18,404.3 493.52,406.7 493.85,404.3 494.18,406.9 494.52,403.8 494.85,406.8 495.18,404.5 495.52,406.9 495.85,403.9 496.18,406.7 496.52,403.3 496.85,406.6 497.18,403.6 497.52,406.8 497.85,404.5 498.18,407.1 498.52,404.7 498.85,406.2 499.18,404.3 499.52,406.2 499.85,403.8 500.18,406.1 500.52,404.1 500.85,406.5 501.18,404.2 501.52,406.8 501.85,404.7 502.18,406.6 502.52,404.6 502.85,406.2 503.18,404.1 503.52,406.4 503.85,403.7 504.18,405.8 504.52,402.9 504.85,405.6 505.18,402.9 505.52,405.5 505.85,402.6 506.18,405.5 506.52,403.6 506.85,406.0 507.18,403.7 507.52,405.9 507.85,402.4 508.18,406.3 508.52,403.6 508.85,406.3 509.18,404.0 509.52,406.4 509.85,403.8 510.18,406.2 510.52,404.1 510.85,406.9 511.18,404.0 511.52,406.6 511.85,403.8 512.18,406.5 512.52,404.1 512.85,406.9 513.18,404.3 513.52,405.6 513.85,402.9 514.18,405.5 514.52,403.9 514.85,407.3 515.18,403.9 515.52,405.5 515.85,403.7 516.18,405.7 516.52,403.2 516.85,406.5 517.18,404.1 517.52,406.5 517.85,403.8 518.18,406.8 518.52,404.0 518.85,406.7 519.18,403.5 519.52,406.7 519.85,404.0 520.18,406.3 520.52,404.4 520.85,406.4 521.18,403.1 521.52,406.0 521.85,404.0 522.18,407.2 522.52,403.5 522.85,405.8 523.18,403.6 523.52,405.4 523.85,403.1 524.18,404.8 524.52,402.1 524.85,404.9 525.18,402.7 525.52,405.4 525.85,403.0 526.18,406.2 526.52,402.6 526.85,405.2 527.18,402.7 527.52,406.0 527.85,402.4 528.18,405.6 528.52,403.2 528.85,405.9 529.18,403.2 529.52,405.6 529.85,402.8 530.18,405.7 530.52,403.9 530.85,411.2 531.18,403.5 531.52,406.0 531.85,404.2 532.18,406.5 532.52,404.3 532.85,406.2 533.18,404.3 533.52,405.8 533.85,401.8 534.18,406.2 534.52,402.6 534.85,405.4 535.18,403.1 535.52,405.9 535.85,403.6 536.18,406.5 536.52,404.5 536.85,406.6 537.18,404.0 537.52,408.1 537.85,404.8 538.18,407.0 538.52,404.5 538.85,407.6 539.18,404.0 539.52,407.0 539.85,404.7 540.18,407.4 540.52,403.8 540.85,406.8 541.18,403.0 541.52,406.0 541.85,403.1 542.18,406.2 542.52,403.6 542.85,405.9 543.18,402.9 543.52,405.5 543.85,403.9 544.18,406.5 544.52,403.7 544.85,407.0 545.18,404.0 545.52,405.6 545.85,404.1 546.18,406.0 546.52,404.0 546.85,406.2 547.18,403.4 547.52,406.3 547.85,403.1 548.18,406.3 548.52,403.0 548.85,406.2 549.18,402.3 549.52,405.2 549.85,402.8 550.18,405.6 550.52,403.0 550.85,405.9 551.18,404.1 551.52,405.6 551.85,403.0 552.18,405.9 552.52,402.8 552.85,407.1 553.18,403.4 553.52,405.8 553.85,402.8 554.18,406.1 554.52,403.8 554.85,406.4 555.18,403.0 555.52,405.6 555.85,403.7 556.18,406.2 556.52,402.6 556.85,405.0 557.18,401.6 557.52,405.4 557.85,403.0 558.18,405.8 558.52,403.5 558.85,406.2 559.18,403.5 559.52,406.4 559.85,403.7 560.18,406.0 560.52,404.6 560.85,406.7 561.18,403.6 561.52,407.1 561.85,403.3 562.18,407.1 562.52,403.0 562.85,406.1 563.18,404.0 563.52,406.0 563.85,403.5 564.18,406.3 564.52,403.6 564.85,406.9 565.18,403.5 565.52,406.8 565.85,403.6 566.18,407.0 566.52,400.0 566.85,406.8 567.18,404.2 567.52,406.6 567.85,403.9 568.18,407.7 568.52,404.0 568.85,405.8 569.18,403.8 569.52,405.5 569.85,402.1 570.18,405.1 570.52,402.5 570.85,405.2 571.18,402.9 571.52,405.2 571.85,403.6 572.18,407.4 572.52,404.1 572.85,406.7 573.18,404.6 573.52,406.9 573.85,404.3 574.18,407.1 574.52,404.5 574.85,407.5 575.18,403.9 575.52,406.0 575.85,404.5 576.18,406.0 576.52,403.8 576.85,407.2 577.18,402.8 577.52,405.8 577.85,403.6 578.18,405.8 578.52,403.6 578.85,405.7 579.18,403.4 579.52,406.1 579.85,404.1 580.18,406.2 580.52,403.1 580.85,406.1 581.18,403.9 581.52,406.1 581.85,403.9 582.18,407.3 582.52,404.3 582.85,406.5 583.18,404.0 583.52,407.7 583.85,404.8 584.18,408.0 584.52,403.8 584.85,407.3 585.18,404.4 585.52,407.5 585.85,403.6 586.18,406.8 586.52,402.9 586.85,406.2 587.18,403.2 587.52,405.3 587.85,403.1 588.18,405.8 588.52,402.3 588.85,406.3 589.18,402.1 589.52,404.8 589.85,402.1 590.18,405.3 590.52,403.9 590.85,406.0 591.18,403.5 591.52,406.5 591.85,403.7 592.18,405.8 592.52,403.9 592.85,406.1 593.18,403.0 593.52,405.9 593.85,403.1 594.18,405.7 594.52,403.2 594.85,406.1 595.18,403.5 595.52,405.9 595.85,403.7 596.18,405.6 596.52,403.9 596.85,406.4 597.18,403.7 597.52,405.8 597.85,403.2 598.18,406.8 598.52,403.8 598.85,406.1 599.18,403.5 599.52,406.2 599.85,403.6 600.18,406.8 600.52,403.5 600.85,405.8 601.18,403.0 601.52,407.2 601.85,404.0 602.18,406.0 602.52,403.1 602.85,405.5 603.18,404.0 603.52,405.7 603.85,403.5 604.18,405.9 604.52,403.3 604.85,405.6 605.18,403.8 605.52,406.1 605.85,403.0 606.18,406.6 606.52,403.5 606.85,406.3 607.18,403.7 607.52,407.5 607.85,404.5 608.18,407.0 608.52,404.3 608.85,406.3 609.18,404.3 609.52,405.4 609.85,403.0 610.18,405.4 610.52,403.4 610.85,406.0 611.18,403.5 611.52,406.5 611.85,403.6 612.18,406.4 612.52,404.6 612.85,407.5 613.18,404.7 613.52,407.6 613.85,404.6 614.18,407.2 614.52,403.4 614.85,406.4 615.18,403.1 615.52,406.4 615.85,403.4 616.18,405.7 616.52,403.6 616.85,404.9 617.18,401.9 617.52,405.6 617.85,403.5 618.18,406.6 618.52,403.8 618.85,405.6 619.18,403.5 619.52,406.4 619.85,404.2 620.18,406.8 620.52,403.8 620.85,406.4 621.18,404.1 621.52,406.5 621.85,403.9 622.18,406.5 622.52,401.4 622.85,406.1 623.18,403.3 623.52,409.1 623.85,403.7 624.18,406.2 624.52,403.4 624.85,405.9 625.18,403.5 625.52,406.8 625.85,403.6 626.18,405.6 626.52,403.8 626.85,406.4 627.18,403.7 627.52,407.0 627.85,403.9 628.18,406.2 628.52,402.9 628.85,405.2 629.18,402.3 629.52,405.2 629.85,403.3 630.18,406.0 630.52,402.9 630.85,405.2 631.18,402.5 631.52,406.2 631.85,400.3 632.18,405.6 632.52,403.0 632.85,405.7 633.18,403.4 633.52,405.3 633.85,403.7 634.18,406.1 634.52,403.5 634.85,405.4 635.18,402.8 635.52,406.5 635.85,402.8 636.18,405.3 636.52,402.4 636.85,405.6 637.18,401.4 637.52,405.0 637.85,402.8 638.18,405.3 638.52,402.9 638.85,405.5 639.18,403.0 639.52,406.0 639.85,403.9 640.18,406.2 640.52,402.7 640.85,405.5 641.18,402.8 641.52,405.6 641.85,402.6 642.18,404.5 642.52,402.5 642.85,404.7 643.18,402.2 643.52,405.4 643.85,402.3 644.18,406.2 644.52,403.4 644.85,406.8 645.18,403.8 645.52,406.9 645.85,404.4 646.18,407.2 646.52,405.0 646.85,407.1 647.18,404.2 647.52,406.5 647.85,403.7 648.18,406.1 648.52,403.3 648.85,405.2 649.18,402.7 649.52,404.9 649.85,402.4 650.18,404.6 650.52,402.5 650.85,404.9 651.18,403.0 651.52,405.8 651.85,403.3 652.18,406.2 652.52,403.4 652.85,405.3 653.18,403.7 653.52,406.6 653.85,404.0 654.18,406.5 654.52,403.4 654.85,406.1 655.18,403.2 655.52,405.7 655.85,404.0 656.18,405.9 656.52,403.0 656.85,406.6 657.18,403.9 657.52,406.4 657.85,404.4 658.18,406.4 658.52,404.2 658.85,406.6 659.18,404.0 659.52,407.2 659.85,404.6 660.18,407.1 660.52,404.3 660.85,406.9 661.18,403.5 661.52,406.9 661.85,403.5 662.18,405.5 662.52,403.0 662.85,405.4 663.18,403.7 663.52,405.6 663.85,403.7 664.18,406.3 664.52,403.3 664.85,406.5 665.18,404.3 665.52,406.2 665.85,404.7 666.18,406.4 666.52,403.8 666.85,406.4 667.18,402.6 667.52,406.5 667.85,403.0 668.18,405.9 668.52,402.1 668.85,405.8 669.18,403.9 669.52,406.1 669.85,404.4 670.18,406.3 670.52,404.1 670.85,406.2 671.18,404.2 671.52,406.7 671.85,403.9 672.18,405.5 672.52,403.6 672.85,405.3 673.18,402.4 673.52,404.9 673.85,401.8 674.18,406.1 674.52,402.8 674.85,404.9 675.18,402.9 675.52,405.8 675.85,403.4 676.18,405.5 676.52,401.3 676.85,405.6 677.18,403.5 677.52,406.0 677.85,403.1 678.18,406.5 678.52,404.1 678.85,406.1 679.18,403.0 679.52,406.6 679.85,403.9 680.18,405.7 680.52,402.9 680.85,405.6 681.18,403.8"/>
<path d="M65.5 405.1V419.8M70.5 405.1V415.5M77.5 405.1V413.8M85.5 399.9V419.7M92.5 396.4V414.2M104.5 401.3V408.2M111.5 379.1V419.7M120.5 383.3V425.4M128.5 387.0V419.6M133.5 398.8V412.9M136.5 386.2V415.4M143.5 375.1V431.9M154.5 364.0V431.9M161.5 391.9V415.4M171.5 372.9V416.8M180.5 380.5V430.4M184.5 395.1V413.2M190.5 400.8V410.6M198.5 394.3V416.6M201.5 392.2V411.7M207.5 399.1V412.8M213.5 400.1V414.0M222.5 393.8V415.3M231.5 368.6V416.2M240.5 381.6V413.0M249.5 389.8V414.6M259.5 364.0V420.8M270.5 380.9V410.2M278.5 392.3V416.6M287.5 381.2V414.6M295.5 388.4V414.9M305.5 371.9V416.5M314.5 390.5V409.9M323.5 369.1V424.7M329.5 393.9V408.6M332.5 392.3V409.7M338.5 398.2V408.8M349.5 364.0V430.3M353.5 402.9V409.3M365.5 390.1V413.1M373.5 395.9V412.6M384.5 377.2V414.3M394.5 389.6V413.3M399.5 392.8V410.9M410.5 402.5V409.9M421.5 389.6V414.3M432.5 392.9V411.9M439.5 402.1V414.4M449.5 394.3V413.9M458.5 399.1V414.1M468.5 398.8V411.5M476.5 401.9V412.7M485.5 398.1V416.9M493.5 396.6V411.3M502.5 397.2V414.2M510.5 400.9V414.0M517.5 398.4V411.5M526.5 397.5V413.0M536.5 401.1V413.0M543.5 402.3V411.2M553.5 402.5V414.4M560.5 401.5V411.0M572.5 399.3V411.7M581.5 402.9V411.3M590.5 399.8V414.7M595.5 400.5V410.3M599.5 402.5V409.9M609.5 400.3V415.2M619.5 400.7V419.3M630.5 402.1V410.1M642.5 402.2V414.5M651.5 400.9V415.2M659.5 399.8V418.6M662.5 402.4V409.8M669.5 402.4V411.2M678.5 402.5V413.5" stroke="#ff0000" stroke-width="1.2" stroke-opacity="0.8" fill="none"/>
<polyline fill="none" stroke="#2fb02f" stroke-width="1.0" stroke-linejoin="round" points="58.85,407.5 59.18,403.5 59.52,406.7 59.85,404.3 60.18,407.4 60.52,404.4 60.85,406.8 61.18,404.0 61.52,407.2 61.85,403.4 62.18,407.1 62.52,404.1 62.85,407.6 63.18,403.7 63.52,407.0 63.85,403.8 64.18,407.2 64.52,404.3 64.85,408.0 65.18,405.2 65.52,407.6 65.85,404.6 66.18,407.3 66.52,404.9 66.85,407.6 67.18,404.3 67.52,408.3 67.85,404.7 68.18,407.8 68.52,405.3 68.85,408.2 69.18,404.8 69.52,406.9 69.85,405.1 70.18,408.4 70.52,405.1 70.85,408.1 71.18,403.6 71.52,406.9 71.85,404.0 72.18,408.0 72.52,404.7 72.85,408.5 73.18,404.9 73.52,408.4 73.85,405.5 74.18,408.1 74.52,404.1 74.85,407.9 75.18,405.4 75.52,408.2 75.85,404.7 76.18,407.9 76.52,404.0 76.85,407.1 77.18,403.8 77.52,408.0 77.85,404.3 78.18,408.5 78.52,404.1 78.85,407.1 79.18,403.9 79.52,407.0 79.85,404.4 80.18,407.4 80.52,404.1 80.85,406.9 81.18,404.9 81.52,407.3 81.85,404.9 82.18,407.3 82.52,404.8 82.85,407.4 83.18,405.0 83.52,408.4 83.85,404.5 84.18,408.1 84.52,404.3 84.85,407.8 85.18,403.7 85.52,408.2 85.85,404.4 86.18,407.4 86.52,404.1 86.85,407.8 87.18,405.0 87.52,408.3 87.85,405.0 88.18,407.5 88.52,405.0 88.85,407.4 89.18,404.3 89.52,407.5 89.85,404.4 90.18,408.3 90.52,404.9 90.85,407.5 91.18,404.6 91.52,407.1 91.85,404.2 92.18,407.3 92.52,404.5 92.85,407.0 93.18,404.6 93.52,406.9 93.85,403.0 94.18,407.1 94.52,403.8 94.85,408.7 95.18,405.0 95.52,407.8 95.85,404.3 96.18,407.1 96.52,404.8 96.85,408.1 97.18,404.8 97.52,407.7 97.85,404.9 98.18,407.7 98.52,403.2 98.85,409.4 99.18,401.7 99.52,408.1 99.85,405.4 100.18,408.3 100.52,404.7 100.85,407.3 101.18,405.4 101.52,408.2 101.85,405.3 102.18,408.1 102.52,405.2 102.85,408.6 103.18,405.7 103.52,408.1 103.85,404.4 104.18,408.1 104.52,405.5 104.85,408.2 105.18,404.5 105.52,407.3 105.85,404.0 106.18,406.9 106.52,403.1 106.85,406.1 107.18,402.9 107.52,407.3 107.85,403.2 108.18,406.8 108.52,403.3 108.85,406.2 109.18,403.1 109.52,406.9 109.85,404.4 110.18,408.1 110.52,404.6 110.85,407.2 111.18,403.5 111.52,407.2 111.85,404.4 112.18,407.1 112.52,403.9 112.85,407.0 113.18,403.6 113.52,407.1 113.85,404.0 114.18,406.8 114.52,404.0 114.85,407.6 115.18,402.8 115.52,407.1 115.85,404.2 116.18,407.8 116.52,403.9 116.85,409.2 117.18,404.9 117.52,407.5 117.85,404.8 118.18,407.4 118.52,405.2 118.85,407.2 119.18,403.8 119.52,409.0 119.85,404.8 120.18,408.2 120.52,403.7 120.85,408.7 121.18,405.5 121.52,407.8 121.85,405.4 122.18,408.5 122.52,405.2 122.85,407.7 123.18,404.2 123.52,406.9 123.85,403.4 124.18,407.0 124.52,404.1 124.85,407.8 125.18,404.2 125.52,407.9 125.85,404.2 126.18,408.1 126.52,405.3 126.85,407.9 127.18,403.6 127.52,406.7 127.85,403.6 128.18,406.5 128.52,403.7 128.85,407.1 129.18,402.7 129.52,406.9 129.85,404.1 130.18,408.1 130.52,405.4 130.85,408.0 131.18,405.0 131.52,408.0 131.85,406.5 132.18,410.5 132.52,406.3 132.85,408.9 133.18,405.2 133.52,408.4 133.85,402.5 134.18,409.6 134.52,405.6 134.85,408.2 135.18,403.9 135.52,408.5 135.85,405.2 136.18,407.6 136.52,404.6 136.85,408.2 137.18,405.3 137.52,408.3 137.85,405.4 138.18,407.9 138.52,404.8 138.85,407.2 139.18,404.2 139.52,407.1 139.85,403.6 140.18,406.3 140.52,403.2 140.85,406.5 141.18,403.7 141.52,406.5 141.85,403.7 142.18,407.4 142.52,404.1 142.85,406.9 143.18,404.6 143.52,407.0 143.85,404.7 144.18,407.0 144.52,403.9 144.85,407.3 145.18,403.7 145.52,407.4 145.85,404.4 146.18,406.5 146.52,404.4 146.85,406.9 147.18,404.4 147.52,407.9 147.85,404.6 148.18,408.4 148.52,404.2 148.85,407.0 149.18,404.9 149.52,408.1 149.85,403.8 150.18,407.3 150.52,404.5 150.85,406.9 151.18,405.0 151.52,407.1 151.85,404.9 152.18,409.1 152.52,404.2 152.85,407.1 153.18,405.7 153.52,408.0 153.85,404.0 154.18,407.5 154.52,404.9 154.85,407.3 155.18,405.0 155.52,407.8 155.85,404.4 156.18,407.3 156.52,404.3 156.85,407.6 157.18,405.3 157.52,408.1 157.85,405.1 158.18,408.4 158.52,404.4 158.85,408.2 159.18,404.2 159.52,407.0 159.85,404.7 160.18,407.8 160.52,405.0 160.85,408.2 161.18,405.8 161.52,408.6 161.85,404.2 162.18,407.5 162.52,404.5 162.85,407.6 163.18,403.3 163.52,406.9 163.85,403.9 164.18,407.0 164.52,403.3 164.85,407.6 165.18,403.0 165.52,407.9 165.85,404.0 166.18,407.0 166.52,404.0 166.85,407.7 167.18,404.3 167.52,407.2 167.85,404.4 168.18,407.3 168.52,404.0 168.85,407.3 169.18,404.8 169.52,407.5 169.85,404.9 170.18,407.7 170.52,403.9 170.85,406.8 171.18,403.1 171.52,406.9 171.85,404.1 172.18,407.4 172.52,403.5 172.85,407.2 173.18,403.8 173.52,407.0 173.85,404.6 174.18,408.1 174.52,404.5 174.85,407.9 175.18,403.6 175.52,407.3 175.85,405.1 176.18,407.4 176.52,404.6 176.85,408.0 177.18,405.3 177.52,407.9 177.85,405.3 178.18,408.2 178.52,405.4 178.85,408.2 179.18,405.7 179.52,408.0 179.85,405.0 180.18,407.7 180.52,405.2 180.85,407.3 181.18,403.3 181.52,409.2 181.85,404.7 182.18,407.0 182.52,403.9 182.85,407.4 183.18,404.7 183.52,406.8 183.85,403.7 184.18,407.0 184.52,404.0 184.85,407.0 185.18,404.5 185.52,406.9 185.85,404.0 186.18,407.2 186.52,404.6 186.85,407.4 187.18,405.0 187.52,408.3 187.85,404.8 188.18,408.6 188.52,405.1 188.85,408.4 189.18,405.4 189.52,408.7 189.85,406.0 190.18,409.5 190.52,405.8 190.85,408.4 191.18,405.4 191.52,408.3 191.85,405.2 192.18,408.8 192.52,405.2 192.85,408.4 193.18,401.9 193.52,409.6 193.85,404.6 194.18,407.3 194.52,404.4 194.85,406.6 195.18,404.2 195.52,407.7 195.85,404.7 196.18,407.5 196.52,404.8 196.85,407.6 197.18,404.9 197.52,408.7 197.85,405.5 198.18,408.1 198.52,404.8 198.85,408.1 199.18,405.0 199.52,408.8 199.85,405.4 200.18,407.7 200.52,405.4 200.85,409.2 201.18,405.0 201.52,407.9 201.85,405.3 202.18,408.6 202.52,405.7 202.85,408.9 203.18,404.8 203.52,407.5 203.85,404.6 204.18,407.8 204.52,405.1 204.85,408.1 205.18,404.6 205.52,407.9 205.85,405.2 206.18,409.1 206.52,405.5 206.85,409.1 207.18,405.3 207.52,408.3 207.85,405.2 208.18,408.6 208.52,405.6 208.85,408.3 209.18,405.0 209.52,408.1 209.85,404.9 210.18,407.7 210.52,404.9 210.85,407.8 211.18,405.1 211.52,408.6 211.85,404.6 212.18,407.6 212.52,403.9 212.85,407.1 213.18,403.6 213.52,407.6 213.85,405.5 214.18,408.0 214.52,404.4 214.85,407.8 215.18,404.9 215.52,408.0 215.85,404.4 216.18,408.5 216.52,404.9 216.85,408.4 217.18,405.2 217.52,407.8 217.85,405.2 218.18,407.6 218.52,404.8 218.85,407.8 219.18,404.7 219.52,407.1 219.85,404.7 220.18,407.6 220.52,405.1 220.85,407.9 221.18,405.5 221.52,408.3 221.85,404.3 222.18,408.5 222.52,404.7 222.85,407.7 223.18,403.5 223.52,407.6 223.85,404.3 224.18,407.5 224.52,404.2 224.85,407.3 225.18,403.9 225.52,407.4 225.85,404.7 226.18,407.0 226.52,402.4 226.85,406.7 227.18,404.6 227.52,407.2 227.85,405.1 228.18,408.1 228.52,404.8 228.85,408.2 229.18,405.5 229.52,408.4 229.85,405.4 230.18,408.4 230.52,404.1 230.85,408.3 231.18,403.7 231.52,408.3 231.85,404.2 232.18,406.4 232.52,401.1 232.85,407.3 233.18,403.0 233.52,407.0 233.85,404.7 234.18,408.0 234.52,403.7 234.85,407.3 235.18,404.6 235.52,407.2 235.85,403.9 236.18,407.8 236.52,403.5 236.85,407.0 237.18,403.2 237.52,406.5 237.85,402.8 238.18,405.9 238.52,403.3 238.85,406.8 239.18,401.7 239.52,405.8 239.85,403.0 240.18,405.7 240.52,403.0 240.85,406.9 241.18,403.4 241.52,406.3 241.85,402.3 242.18,405.6 242.52,403.2 242.85,406.5 243.18,402.8 243.52,407.3 243.85,403.6 244.18,406.1 244.52,403.7 244.85,405.9 245.18,401.7 245.52,405.6 245.85,402.5 246.18,405.7 246.52,401.7 246.85,406.6 247.18,401.5 247.52,405.3 247.85,402.9 248.18,405.5 248.52,403.2 248.85,405.9 249.18,403.9 249.52,406.0 249.85,403.9 250.18,406.0 250.52,402.4 250.85,407.0 251.18,403.3 251.52,405.6 251.85,402.3 252.18,406.7 252.52,402.7 252.85,405.9 253.18,402.3 253.52,408.1 253.85,402.0 254.18,405.0 254.52,403.0 254.85,405.5 255.18,402.1 255.52,405.5 255.85,402.1 256.18,404.8 256.52,402.6 256.85,405.5 257.18,402.1 257.52,405.4 257.85,402.4 258.18,405.5 258.52,402.4 258.85,406.3 259.18,402.7 259.52,405.5 259.85,402.8 260.18,405.6 260.52,402.6 260.85,410.2 261.18,403.5 261.52,406.2 261.85,402.6 262.18,406.2 262.52,401.7 262.85,405.8 263.18,403.3 263.52,405.5 263.85,401.4 264.18,406.5 264.52,403.6 264.85,406.3 265.18,402.5 265.52,406.9 265.85,403.7 266.18,406.4 266.52,404.4 266.85,407.1 267.18,402.5 267.52,406.8 267.85,403.0 268.18,406.3 268.52,403.6 268.85,406.7 269.18,402.7 269.52,407.3 269.85,403.7 270.18,407.2 270.52,403.3 270.85,408.4 271.18,404.1 271.52,407.4 271.85,401.1 272.18,406.7 272.52,403.2 272.85,407.0 273.18,403.3 273.52,407.2 273.85,401.2 274.18,406.9 274.52,403.7 274.85,406.7 275.18,404.0 275.52,407.7 275.85,404.5 276.18,407.4 276.52,404.1 276.85,408.2 277.18,405.8 277.52,407.7 277.85,405.1 278.18,408.0 278.52,404.5 278.85,407.8 279.18,404.4 279.52,408.3 279.85,405.3 280.18,408.4 280.52,404.4 280.85,408.4 281.18,405.1 281.52,408.4 281.85,405.7 282.18,408.8 282.52,406.1 282.85,408.4 283.18,406.4 283.52,409.0 283.85,406.0 284.18,409.0 284.52,405.2 284.85,408.2 285.18,404.7 285.52,408.8 285.85,404.9 286.18,406.9 286.52,405.2 286.85,407.4 287.18,404.4 287.52,407.5 287.85,404.0 288.18,408.2 288.52,403.2 288.85,407.5 289.18,404.2 289.52,407.3 289.85,404.3 290.18,407.6 290.52,404.7 290.85,407.4 291.18,405.1 291.52,407.5 291.85,403.8 292.18,407.9 292.52,404.3 292.85,408.3 293.18,404.6 293.52,407.0 293.85,404.3 294.18,407.3 294.52,403.4 294.85,406.9 295.18,403.2 295.52,406.4 295.85,404.1 296.18,406.6 296.52,404.0 296.85,406.9 297.18,403.5 297.52,407.4 297.85,404.6 298.18,407.8 298.52,404.3 298.85,406.9 299.18,404.5 299.52,408.1 299.85,404.1 300.18,407.5 300.52,404.1 300.85,407.9 301.18,404.6 301.52,407.1 301.85,404.4 302.18,406.7 302.52,403.9 302.85,408.2 303.18,404.8 303.52,407.5 303.85,404.4 304.18,406.8 304.52,404.5 304.85,407.6 305.18,403.8 305.52,407.6 305.85,404.6 306.18,406.8 306.52,404.8 306.85,407.1 307.18,404.7 307.52,406.9 307.85,404.0 308.18,407.1 308.52,403.8 308.85,406.4 309.18,403.6 309.52,406.4 309.85,402.7 310.18,406.7 310.52,403.8 310.85,406.2 311.18,403.3 311.52,406.4 311.85,403.3 312.18,405.8 312.52,401.9 312.85,405.8 313.18,402.9 313.52,406.0 313.85,403.4 314.18,406.6 314.52,403.5 314.85,406.7 315.18,404.0 315.52,406.9 315.85,403.1 316.18,405.5 316.52,403.2 316.85,406.0 317.18,402.1 317.52,406.8 317.85,402.3 318.18,406.2 318.52,402.7 318.85,406.0 319.18,402.7 319.52,405.3 319.85,403.2 320.18,405.5 320.52,402.2 320.85,405.7 321.18,403.3 321.52,407.5 321.85,402.6 322.18,406.4 322.52,402.1 322.85,405.4 323.18,402.7 323.52,405.8 323.85,402.6 324.18,405.2 324.52,402.5 324.85,405.5 325.18,402.5 325.52,404.8 325.85,402.2 326.18,405.2 326.52,400.6 326.85,405.7 327.18,402.4 327.52,405.8 327.85,401.8 328.18,405.4 328.52,402.5 328.85,405.9 329.18,403.2 329.52,405.2 329.85,400.7 330.18,405.9 330.52,402.7 330.85,408.1 331.18,403.3 331.52,405.8 331.85,402.6 332.18,405.5 332.52,403.0 332.85,405.6 333.18,402.2 333.52,405.8 333.85,403.5 334.18,407.0 334.52,403.1 334.85,406.8 335.18,403.6 335.52,405.6 335.85,403.2 336.18,405.4 336.52,402.6 336.85,405.5 337.18,402.7 337.52,406.3 337.85,402.9 338.18,406.3 338.52,403.1 338.85,405.2 339.18,402.1 339.52,405.1 339.85,402.3 340.18,406.1 340.52,402.7 340.85,406.8 341.18,403.3 341.52,406.0 341.85,400.9 342.18,406.6 342.52,403.7 342.85,407.2 343.18,404.6 343.52,407.4 343.85,404.0 344.18,407.6 344.52,403.2 344.85,406.8 345.18,403.2 345.52,406.7 345.85,401.9 346.18,405.9 346.52,403.4 346.85,407.7 347.18,403.3 347.52,407.3 347.85,402.4 348.18,406.4 348.52,403.4 348.85,406.5 349.18,402.2 349.52,407.8 349.85,404.2 350.18,406.3 350.52,403.4 350.85,406.3 351.18,403.4 351.52,410.2 351.85,403.4 352.18,406.5 352.52,402.6 352.85,406.6 353.18,403.0 353.52,405.5 353.85,403.3 354.18,406.6 354.52,403.3 354.85,406.0 355.18,403.3 355.52,405.6 355.85,402.0 356.18,406.8 356.52,403.0 356.85,407.2 357.18,403.7 357.52,406.9 357.85,403.4 358.18,407.1 358.52,404.6 358.85,407.3 359.18,404.7 359.52,407.8 359.85,403.3 360.18,407.1 360.52,404.1 360.85,406.7 361.18,403.7 361.52,407.1 361.85,404.0 362.18,407.6 362.52,404.2 362.85,407.1 363.18,404.6 363.52,408.4 363.85,404.0 364.18,407.2 364.52,404.1 364.85,408.0 365.18,404.4 365.52,408.8 365.85,404.9 366.18,408.4 366.52,404.0 366.85,408.0 367.18,403.9 367.52,408.4 367.85,403.7 368.18,406.7 368.52,404.3 368.85,406.9 369.18,403.4 369.52,407.3 369.85,403.8 370.18,406.8 370.52,404.7 370.85,407.1 371.18,403.3 371.52,407.1 371.85,403.9 372.18,406.5 372.52,404.5 372.85,407.4 373.18,403.8 373.52,407.9 373.85,404.0 374.18,407.0 374.52,404.1 374.85,406.8 375.18,403.9 375.52,407.1 375.85,404.3 376.18,407.2 376.52,403.8 376.85,406.7 377.18,403.9 377.52,408.2 377.85,403.7 378.18,407.0 378.52,404.3 378.85,407.3 379.18,404.7 379.52,407.4 379.85,405.2 380.18,407.2 380.52,403.9 380.85,407.6 381.18,404.4 381.52,407.4 381.85,403.9 382.18,406.7 382.52,403.7 382.85,406.1 383.18,403.3 383.52,406.2 383.85,402.6 384.18,406.2 384.52,403.1 384.85,406.0 385.18,403.4 385.52,406.1 385.85,403.9 386.18,408.4 386.52,404.4 386.85,407.6 387.18,405.2 387.52,407.9 387.85,404.9 388.18,407.7 388.52,405.1 388.85,407.6 389.18,404.4 389.52,406.6 389.85,403.7 390.18,406.4 390.52,403.8 390.85,407.5 391.18,404.1 391.52,406.8 391.85,404.1 392.18,406.4 392.52,404.4 392.85,406.9 393.18,403.6 393.52,407.0 393.85,404.8 394.18,407.0 394.52,403.4 394.85,407.9 395.18,404.5 395.52,406.9 395.85,403.3 396.18,406.6 396.52,404.6 396.85,407.5 397.18,404.3 397.52,407.7 397.85,403.6 398.18,406.9 398.52,404.2 398.85,407.4 399.18,403.9 399.52,407.4 399.85,404.7 400.18,407.2 400.52,404.2 400.85,407.1 401.18,404.1 401.52,408.1 401.85,404.6 402.18,407.3 402.52,404.5 402.85,407.1 403.18,404.1 403.52,406.9 403.85,403.8 404.18,405.7 404.52,403.3 404.85,405.9 405.18,403.3 405.52,406.8 405.85,404.6 406.18,407.6 406.52,404.3 406.85,408.7 407.18,405.2 407.52,407.6 407.85,403.9 408.18,407.1 408.52,404.2 408.85,408.1 409.18,403.8 409.52,406.9 409.85,403.5 410.18,408.0 410.52,405.0 410.85,407.4 411.18,404.8 411.52,407.0 411.85,404.4 412.18,408.1 412.52,404.7 412.85,407.9 413.18,405.3 413.52,408.1 413.85,405.0 414.18,408.1 414.52,405.5 414.85,409.1 415.18,405.3 415.52,407.4 415.85,405.1 416.18,407.4 416.52,403.3 416.85,407.5 417.18,404.4 417.52,407.0 417.85,404.5 418.18,407.5 418.52,404.0 418.85,406.9 419.18,403.9 419.52,406.3 419.85,403.6 420.18,406.4 420.52,403.5 420.85,406.8 421.18,402.6 421.52,405.9 421.85,403.8 422.18,407.5 422.52,403.8 422.85,406.4 423.18,404.3 423.52,406.6 423.85,404.1 424.18,407.0 424.52,404.7 424.85,408.5 425.18,403.7 425.52,407.9 425.85,404.7 426.18,407.2 426.52,404.2 426.85,406.8 427.18,403.9 427.52,406.4 427.85,403.8 428.18,406.6 428.52,404.3 428.85,408.6 429.18,403.8 429.52,407.1 429.85,403.9 430.18,407.0 430.52,403.9 430.85,407.3 431.18,403.2 431.52,406.9 431.85,403.5 432.18,406.6 432.52,402.2 432.85,406.9 433.18,404.3 433.52,406.7 433.85,404.7 434.18,408.0 434.52,404.6 434.85,407.0 435.18,404.3 435.52,407.6 435.85,405.0 436.18,408.2 436.52,404.3 436.85,407.4 437.18,404.8 437.52,407.2 437.85,404.3 438.18,407.3 438.52,404.5 438.85,411.7 439.18,403.9 439.52,407.2 439.85,404.4 440.18,407.7 440.52,404.5 440.85,407.6 441.18,405.1 441.52,408.3 441.85,405.2 442.18,407.2 442.52,404.6 442.85,408.5 443.18,404.3 443.52,406.6 443.85,403.7 444.18,407.4 444.52,403.3 444.85,407.2 445.18,404.6 445.52,407.6 445.85,402.6 446.18,407.2 446.52,403.7 446.85,407.0 447.18,403.5 447.52,408.3 447.85,404.6 448.18,407.3 448.52,405.2 448.85,407.7 449.18,405.6 449.52,408.3 449.85,406.0 450.18,408.1 450.52,404.9 450.85,408.3 451.18,404.8 451.52,407.5 451.85,405.0 452.18,408.6 452.52,405.1 452.85,407.6 453.18,405.1 453.52,408.0 453.85,404.0 454.18,408.4 454.52,405.0 454.85,407.6 455.18,404.5 455.52,407.3 455.85,404.4 456.18,407.1 456.52,404.0 456.85,408.2 457.18,404.2 457.52,407.1 457.85,404.0 458.18,408.3 458.52,405.1 458.85,410.2 459.18,403.8 459.52,408.0 459.85,404.8 460.18,408.2 460.52,405.6 460.85,408.2 461.18,405.7 461.52,407.8 461.85,404.4 462.18,408.2 462.52,405.0 462.85,408.3 463.18,404.9 463.52,408.5 463.85,401.9 464.18,409.0 464.52,405.5 464.85,408.5 465.18,405.1 465.52,407.2 465.85,404.2 466.18,407.2 466.52,405.1 466.85,408.0 467.18,403.4 467.52,406.4 467.85,404.0 468.18,406.6 468.52,404.3 468.85,407.3 469.18,405.1 469.52,407.4 469.85,405.2 470.18,407.9 470.52,405.5 470.85,408.2 471.18,405.3 471.52,408.1 471.85,404.5 472.18,407.5 472.52,404.7 472.85,407.8 473.18,404.6 473.52,407.7 473.85,404.3 474.18,406.5 474.52,403.8 474.85,406.3 475.18,402.9 475.52,406.2 475.85,403.8 476.18,407.5 476.52,404.6 476.85,406.6 477.18,404.5 477.52,407.2 477.85,404.0 478.18,406.9 478.52,404.0 478.85,407.2 479.18,404.5 479.52,406.6 479.85,404.6 480.18,406.5 480.52,403.5 480.85,409.3 481.18,401.2 481.52,408.7 481.85,405.1 482.18,407.5 482.52,404.7 482.85,407.6 483.18,405.9 483.52,408.3 483.85,405.4 484.18,408.8 484.52,404.5 484.85,408.1 485.18,404.6 485.52,407.0 485.85,404.6 486.18,406.7 486.52,403.6 486.85,410.9 487.18,404.6 487.52,406.9 487.85,403.4 488.18,407.8 488.52,402.5 488.85,407.2 489.18,404.6 489.52,407.1 489.85,403.9 490.18,407.9 490.52,403.2 490.85,406.5 491.18,400.2 491.52,407.2 491.85,403.1 492.18,406.4 492.52,403.6 492.85,407.3 493.18,403.2 493.52,406.9 493.85,403.5 494.18,406.0 494.52,403.5 494.85,405.8 495.18,402.4 495.52,405.7 495.85,403.2 496.18,405.5 496.52,403.0 496.85,406.9 497.18,403.9 497.52,406.8 497.85,403.3 498.18,407.0 498.52,403.8 498.85,407.3 499.18,404.1 499.52,406.7 499.85,404.5 500.18,406.9 500.52,404.3 500.85,407.5 501.18,403.7 501.52,407.3 501.85,404.0 502.18,406.7 502.52,403.8 502.85,405.9 503.18,402.3 503.52,405.5 503.85,403.2 504.18,406.1 504.52,403.7 504.85,407.8 505.18,403.4 505.52,406.9 505.85,402.8 506.18,406.1 506.52,403.3 506.85,406.4 507.18,403.1 507.52,405.6 507.85,402.9 508.18,406.0 508.52,403.1 508.85,405.4 509.18,402.7 509.52,405.6 509.85,403.4 510.18,406.1 510.52,402.0 510.85,405.5 511.18,403.4 511.52,406.2 511.85,403.7 512.18,405.9 512.52,402.0 512.85,406.1 513.18,403.6 513.52,406.8 513.85,402.2 514.18,406.3 514.52,402.8 514.85,405.6 515.18,402.6 515.52,405.1 515.85,402.7 516.18,405.6 516.52,402.1 516.85,406.9 517.18,403.0 517.52,405.8 517.85,402.5 518.18,405.5 518.52,402.8 518.85,405.8 519.18,402.6 519.52,406.5 519.85,403.1 520.18,406.5 520.52,401.9 520.85,405.5 521.18,401.9 521.52,405.4 521.85,402.4 522.18,405.4 522.52,402.6 522.85,405.3 523.18,403.0 523.52,405.5 523.85,403.0 524.18,406.2 524.52,401.8 524.85,405.7 525.18,402.8 525.52,406.2 525.85,402.7 526.18,404.8 526.52,401.3 526.85,404.8 527.18,402.5 527.52,405.5 527.85,402.4 528.18,404.6 528.52,401.3 528.85,405.1 529.18,402.0 529.52,403.9 529.85,401.0 530.18,404.4 530.52,400.8 530.85,404.3 531.18,401.8 531.52,404.4 531.85,402.0 532.18,404.8 532.52,402.5 532.85,405.5 533.18,402.8 533.52,406.4 533.85,402.2 534.18,405.4 534.52,402.7 534.85,405.9 535.18,402.1 535.52,406.0 535.85,401.5 536.18,404.8 536.52,402.0 536.85,405.3 537.18,402.7 537.52,405.3 537.85,402.8 538.18,405.8 538.52,403.8 538.85,407.5 539.18,403.9 539.52,406.1 539.85,402.3 540.18,406.5 540.52,403.5 540.85,406.4 541.18,402.9 541.52,405.4 541.85,403.0 542.18,405.9 542.52,401.7 542.85,406.5 543.18,402.1 543.52,406.6 543.85,403.1 544.18,405.8 544.52,403.3 544.85,407.0 545.18,402.7 545.52,406.1 545.85,401.9 546.18,405.7 546.52,402.6 546.85,405.6 547.18,402.4 547.52,406.3 547.85,402.5 548.18,406.6 548.52,403.2 548.85,405.4 549.18,401.7 549.52,406.4 549.85,403.5 550.18,407.0 550.52,402.1 550.85,406.9 551.18,402.2 551.52,407.1 551.85,403.3 552.18,407.4 552.52,402.7 552.85,405.9 553.18,403.2 553.52,406.3 553.85,403.7 554.18,406.6 554.52,403.1 554.85,407.0 555.18,402.6 555.52,405.7 555.85,402.1 556.18,405.3 556.52,402.7 556.85,408.2 557.18,401.4 557.52,406.1 557.85,403.1 558.18,406.1 558.52,403.0 558.85,406.3 559.18,403.2 559.52,406.0 559.85,403.4 560.18,406.4 560.52,403.7 560.85,406.6 561.18,404.2 561.52,407.2 561.85,404.2 562.18,409.0 562.52,405.2 562.85,407.3 563.18,404.6 563.52,406.4 563.85,403.5 564.18,407.8 564.52,403.6 564.85,406.7 565.18,402.4 565.52,405.8 565.85,403.0 566.18,405.6 566.52,402.7 566.85,405.8 567.18,403.7 567.52,405.9 567.85,403.6 568.18,406.4 568.52,402.2 568.85,406.5 569.18,403.7 569.52,408.0 569.85,403.7 570.18,406.6 570.52,403.8 570.85,407.8 571.18,403.2 571.52,407.8 571.85,403.8 572.18,406.8 572.52,403.7 572.85,406.8 573.18,402.8 573.52,407.3 573.85,403.3 574.18,407.6 574.52,402.9 574.85,406.7 575.18,402.9 575.52,405.7 575.85,403.6 576.18,405.8 576.52,403.7 576.85,407.1 577.18,402.5 577.52,406.1 577.85,403.3 578.18,406.6 578.52,404.6 578.85,407.0 579.18,403.9 579.52,407.7 579.85,404.2 580.18,406.8 580.52,404.0 580.85,406.8 581.18,403.5 581.52,406.0 581.85,403.1 582.18,405.7 582.52,403.4 582.85,405.8 583.18,402.8 583.52,406.1 583.85,402.7 584.18,405.5 584.52,403.3 584.85,406.1 585.18,404.0 585.52,407.8 585.85,402.9 586.18,406.6 586.52,403.7 586.85,406.7 587.18,402.7 587.52,406.4 587.85,402.2 588.18,405.8 588.52,403.0 588.85,405.2 589.18,402.7 589.52,406.3 589.85,403.4 590.18,405.9 590.52,401.9 590.85,406.7 591.18,402.7 591.52,405.7 591.85,402.9 592.18,405.3 592.52,402.7 592.85,405.8 593.18,403.5 593.52,406.2 593.85,403.2 594.18,406.8 594.52,404.1 594.85,406.7 595.18,403.6 595.52,406.6 595.85,403.0 596.18,406.2 596.52,402.7 596.85,407.0 597.18,402.2 597.52,405.5 597.85,402.8 598.18,406.0 598.52,403.5 598.85,406.6 599.18,403.2 599.52,406.9 599.85,403.1 600.18,408.7 600.52,403.5 600.85,409.9 601.18,402.3 601.52,405.4 601.85,402.4 602.18,405.3 602.52,402.7 602.85,405.5 603.18,403.2 603.52,405.5 603.85,403.1 604.18,406.8 604.52,403.8 604.85,406.4 605.18,403.5 605.52,406.5 605.85,403.1 606.18,409.4 606.52,403.7 606.85,408.4 607.18,401.9 607.52,406.7 607.85,402.7 608.18,405.6 608.52,403.2 608.85,407.8 609.18,403.2 609.52,406.2 609.85,403.1 610.18,405.4 610.52,403.0 610.85,406.3 611.18,403.0 611.52,406.5 611.85,401.9 612.18,405.6 612.52,402.5 612.85,406.5 613.18,402.6 613.52,405.4 613.85,402.2 614.18,406.6 614.52,402.6 614.85,405.4 615.18,402.2 615.52,405.5 615.85,403.0 616.18,405.8 616.52,402.5 616.85,405.2 617.18,402.6 617.52,406.4 617.85,402.7 618.18,405.5 618.52,402.9 618.85,405.8 619.18,403.1 619.52,405.4 619.85,402.6 620.18,405.7 620.52,403.0 620.85,405.6 621.18,401.8 621.52,405.4 621.85,401.3 622.18,404.5 622.52,402.2 622.85,404.3 623.18,402.3 623.52,404.9 623.85,401.9 624.18,405.4 624.52,402.9 624.85,406.7 625.18,403.2 625.52,406.1 625.85,402.8 626.18,405.7 626.52,402.8 626.85,406.4 627.18,403.7 627.52,406.1 627.85,403.6 628.18,406.0 628.52,402.9 628.85,406.0 629.18,403.1 629.52,407.5 629.85,402.5 630.18,406.1 630.52,402.2 630.85,405.3 631.18,403.3 631.52,406.2 631.85,403.9 632.18,406.7 632.52,404.1 632.85,407.1 633.18,404.0 633.52,407.0 633.85,403.4 634.18,406.0 634.52,402.8 634.85,405.3 635.18,401.9 635.52,405.7 635.85,402.3 636.18,405.2 636.52,402.5 636.85,405.4 637.18,402.7 637.52,406.1 637.85,403.0 638.18,405.8 638.52,403.1 638.85,406.1 639.18,402.3 639.52,405.9 639.85,403.1 640.18,407.4 640.52,403.0 640.85,405.2 641.18,402.9 641.52,405.8 641.85,401.8 642.18,405.4 642.52,402.6 642.85,405.7 643.18,403.1 643.52,406.1 643.85,403.6 644.18,406.2 644.52,403.1 644.85,405.5 645.18,402.9 645.52,405.6 645.85,403.9 646.18,407.6 646.52,403.1 646.85,406.6 647.18,403.8 647.52,407.0 647.85,403.6 648.18,406.2 648.52,403.3 648.85,407.0 649.18,403.5 649.52,406.9 649.85,403.2 650.18,405.6 650.52,402.4 650.85,405.3 651.18,402.3 651.52,406.7 651.85,402.9 652.18,405.2 652.52,402.9 652.85,406.0 653.18,403.0 653.52,406.5 653.85,402.5 654.18,406.2 654.52,403.9 654.85,406.3 655.18,403.9 655.52,408.0 655.85,403.2 656.18,406.1 656.52,402.9 656.85,406.0 657.18,402.6 657.52,406.5 657.85,402.9 658.18,405.2 658.52,402.4 658.85,405.8 659.18,403.0 659.52,406.3 659.85,402.9 660.18,405.4 660.52,402.6 660.85,406.2 661.18,402.9 661.52,405.9 661.85,403.0 662.18,406.2 662.52,403.2 662.85,406.4 663.18,402.5 663.52,406.4 663.85,401.9 664.18,406.2 664.52,401.2 664.85,405.7 665.18,402.7 665.52,405.7 665.85,402.2 666.18,404.7 666.52,401.4 666.85,404.7 667.18,401.6 667.52,404.5 667.85,402.6 668.18,404.9 668.52,402.6 668.85,406.8 669.18,403.6 669.52,407.4 669.85,403.2 670.18,406.6 670.52,403.5 670.85,407.2 671.18,404.6 671.52,407.7 671.85,404.1 672.18,406.2 672.52,403.2 672.85,406.3 673.18,402.9 673.52,406.4 673.85,403.3 674.18,405.9 674.52,402.1 674.85,406.9 675.18,402.4 675.52,406.4 675.85,402.8 676.18,405.9 676.52,403.0 676.85,405.4 677.18,403.2 677.52,405.6 677.85,402.6 678.18,405.7 678.52,402.2 678.85,405.9 679.18,402.6 679.52,406.5 679.85,402.6 680.18,405.1 680.52,401.3 680.85,406.3 681.18,402.8"/>
<path d="M65.5 405.3V418.6M70.5 405.2V414.8M77.5 405.3V413.5M85.5 400.2V417.3M92.5 397.8V412.7M104.5 401.8V408.2M111.5 379.0V417.8M120.5 385.4V425.7M128.5 386.9V417.5M133.5 399.3V412.0M136.5 387.1V414.9M143.5 377.4V431.9M154.5 364.2V431.9M161.5 393.3V414.3M171.5 370.4V415.6M180.5 381.9V428.6M184.5 396.1V412.3M190.5 400.5V410.5M198.5 395.9V415.6M201.5 394.2V410.7M207.5 399.5V412.8M213.5 400.5V413.9M222.5 395.4V414.5M231.5 370.5V415.2M240.5 381.3V412.5M249.5 391.1V412.6M259.5 364.2V419.0M270.5 383.2V409.3M278.5 394.9V416.1M287.5 382.2V413.5M295.5 388.8V414.2M305.5 374.3V415.1M314.5 390.2V409.6M323.5 367.7V423.9M329.5 394.3V408.1M332.5 393.2V409.0M338.5 398.6V408.4M349.5 364.0V429.8M353.5 403.0V408.9M365.5 392.2V412.0M373.5 397.2V411.9M384.5 379.8V413.0M394.5 390.5V411.6M399.5 393.6V410.5M410.5 402.4V409.2M421.5 391.0V412.3M432.5 392.5V411.2M439.5 402.3V412.7M449.5 395.2V412.8M458.5 400.1V412.7M468.5 399.6V410.6M476.5 402.6V412.6M485.5 398.5V415.8M493.5 397.1V410.5M502.5 397.7V413.5M510.5 401.2V413.7M517.5 398.9V411.2M526.5 398.4V412.2M536.5 401.2V412.7M543.5 402.2V410.0M553.5 402.7V414.3M560.5 401.8V409.7M572.5 399.2V411.2M581.5 403.2V410.4M590.5 399.7V413.3M595.5 400.9V409.5M599.5 402.4V408.8M609.5 400.5V414.1M619.5 400.9V418.2M630.5 402.3V409.6M642.5 402.3V414.2M651.5 401.7V413.9M659.5 400.1V415.8M662.5 402.3V409.4M669.5 402.8V410.4M678.5 402.5V412.6" stroke="#5ec25e" stroke-width="1.2" stroke-opacity="1.0" fill="none"/>
<polyline fill="none" stroke="#333333" stroke-width="1.0" stroke-linejoin="round" points="58.85,521.1 59.18,505.1 59.52,527.9 59.85,509.0 60.18,521.4 60.52,506.4 60.85,525.5 61.18,506.7 61.52,521.1 61.85,509.6 62.18,521.2 62.52,508.7 62.85,522.5 63.18,510.2 63.52,522.3 63.85,507.5 64.18,523.2 64.52,506.2 64.85,521.1 65.18,508.3 65.52,522.9 65.85,509.7 66.18,521.9 66.52,510.6 66.85,525.2 67.18,508.0 67.52,523.7 67.85,509.7 68.18,525.0 68.52,511.5 68.85,523.0 69.18,511.8 69.52,524.8 69.85,512.9 70.18,525.8 70.52,511.5 70.85,523.3 71.18,510.5 71.52,523.7 71.85,512.1 72.18,524.3 72.52,507.8 72.85,523.3 73.18,512.1 73.52,523.2 73.85,509.2 74.18,523.5 74.52,511.9 74.85,523.6 75.18,510.3 75.52,524.7 75.85,510.5 76.18,523.0 76.52,512.4 76.85,525.4 77.18,508.7 77.52,522.3 77.85,510.6 78.18,522.3 78.52,511.3 78.85,523.4 79.18,511.1 79.52,523.2 79.85,507.5 80.18,523.3 80.52,509.2 80.85,524.5 81.18,509.8 81.52,526.0 81.85,509.6 82.18,523.2 82.52,510.8 82.85,522.1 83.18,510.8 83.52,522.9 83.85,510.1 84.18,523.3 84.52,510.4 84.85,521.5 85.18,507.0 85.52,523.1 85.85,506.5 86.18,521.5 86.52,507.0 86.85,520.2 87.18,506.7 87.52,517.5 87.85,505.1 88.18,519.6 88.52,507.2 88.85,518.8 89.18,505.4 89.52,520.1 89.85,504.8 90.18,520.0 90.52,505.4 90.85,521.2 91.18,508.7 91.52,519.6 91.85,497.8 92.18,520.5 92.52,508.9 92.85,520.7 93.18,506.2 93.52,524.4 93.85,505.7 94.18,520.6 94.52,507.4 94.85,525.4 95.18,503.9 95.52,521.3 95.85,503.7 96.18,520.7 96.52,506.3 96.85,522.0 97.18,508.3 97.52,519.3 97.85,506.9 98.18,519.6 98.52,507.8 98.85,520.3 99.18,508.6 99.52,522.0 99.85,507.2 100.18,522.1 100.52,505.7 100.85,523.3 101.18,508.5 101.52,521.0 101.85,509.5 102.18,521.5 102.52,510.5 102.85,523.5 103.18,510.5 103.52,523.9 103.85,510.1 104.18,525.6 104.52,511.6 104.85,523.5 105.18,510.0 105.52,523.4 105.85,509.8 106.18,519.8 106.52,509.6 106.85,521.4 107.18,507.0 107.52,519.9 107.85,509.9 108.18,522.6 108.52,505.2 108.85,522.4 109.18,510.1 109.52,525.0 109.85,507.8 110.18,520.8 110.52,507.7 110.85,519.5 111.18,505.8 111.52,522.6 111.85,509.0 112.18,520.1 112.52,504.7 112.85,520.3 113.18,508.9 113.52,521.5 113.85,509.4 114.18,521.9 114.52,503.9 114.85,520.6 115.18,507.2 115.52,527.6 115.85,510.0 116.18,520.6 116.52,509.2 116.85,521.2 117.18,508.9 117.52,522.2 117.85,511.1 118.18,523.1 118.52,510.5 118.85,523.1 119.18,511.0 119.52,524.9 119.85,509.1 120.18,521.9 120.52,507.1 120.85,522.9 121.18,507.5 121.52,524.8 121.85,510.3 122.18,520.5 122.52,508.0 122.85,523.6 123.18,509.1 123.52,520.7 123.85,503.4 124.18,521.5 124.52,507.5 124.85,520.2 125.18,510.1 125.52,523.7 125.85,508.6 126.18,521.5 126.52,508.4 126.85,523.3 127.18,508.5 127.52,523.8 127.85,507.8 128.18,523.3 128.52,506.3 128.85,522.8 129.18,500.4 129.52,529.6 129.85,504.7 130.18,518.4 130.52,506.2 130.85,518.1 131.18,504.8 131.52,520.7 131.85,506.6 132.18,520.7 132.52,506.5 132.85,518.3 133.18,506.1 133.52,519.0 133.85,507.0 134.18,522.7 134.52,504.5 134.85,519.6 135.18,507.1 135.52,518.2 135.85,504.5 136.18,518.6 136.52,506.7 136.85,518.4 137.18,505.7 137.52,520.2 137.85,505.0 138.18,518.1 138.52,506.8 138.85,519.9 139.18,503.5 139.52,522.9 139.85,496.9 140.18,520.0 140.52,506.3 140.85,523.7 141.18,506.2 141.52,522.7 141.85,507.9 142.18,523.5 142.52,506.0 142.85,520.3 143.18,508.0 143.52,518.9 143.85,507.6 144.18,519.9 144.52,507.3 144.85,519.6 145.18,508.7 145.52,527.6 145.85,509.3 146.18,522.6 146.52,503.6 146.85,522.2 147.18,508.4 147.52,520.2 147.85,507.6 148.18,521.2 148.52,506.9 148.85,519.9 149.18,507.3 149.52,521.1 149.85,508.8 150.18,521.7 150.52,509.0 150.85,520.9 151.18,506.2 151.52,521.5 151.85,509.3 152.18,520.9 152.52,506.6 152.85,520.1 153.18,509.2 153.52,521.6 153.85,506.5 154.18,520.0 154.52,504.3 154.85,520.1 155.18,505.4 155.52,523.7 155.85,507.6 156.18,521.9 156.52,503.0 156.85,531.2 157.18,510.2 157.52,521.9 157.85,509.2 158.18,521.7 158.52,507.3 158.85,522.0 159.18,506.7 159.52,525.6 159.85,507.7 160.18,524.6 160.52,509.3 160.85,521.8 161.18,505.3 161.52,522.9 161.85,510.0 162.18,524.4 162.52,510.8 162.85,522.9 163.18,510.3 163.52,522.4 163.85,511.2 164.18,523.3 164.52,509.2 164.85,526.4 165.18,511.7 165.52,523.3 165.85,509.1 166.18,522.4 166.52,510.6 166.85,521.2 167.18,506.8 167.52,524.0 167.85,508.8 168.18,523.2 168.52,510.4 168.85,526.9 169.18,507.3 169.52,524.1 169.85,508.7 170.18,527.9 170.52,511.2 170.85,523.4 171.18,510.3 171.52,522.4 171.85,508.2 172.18,523.3 172.52,512.0 172.85,524.1 173.18,510.9 173.52,523.0 173.85,510.8 174.18,525.1 174.52,511.5 174.85,522.9 175.18,511.7 175.52,522.6 175.85,508.7 176.18,522.0 176.52,508.8 176.85,521.3 177.18,509.0 177.52,522.3 177.85,506.8 178.18,523.4 178.52,508.7 178.85,524.0 179.18,508.3 179.52,523.2 179.85,510.0 180.18,522.3 180.52,505.5 180.85,522.8 181.18,510.6 181.52,524.3 181.85,510.0 182.18,525.1 182.52,509.0 182.85,522.5 183.18,510.3 183.52,524.1 183.85,509.0 184.18,523.4 184.52,512.1 184.85,524.6 185.18,513.4 185.52,524.6 185.85,514.1 186.18,524.3 186.52,512.1 186.85,526.5 187.18,509.6 187.52,530.0 187.85,510.4 188.18,526.4 188.52,511.9 188.85,524.7 189.18,508.3 189.52,522.2 189.85,510.6 190.18,523.4 190.52,509.7 190.85,523.6 191.18,510.5 191.52,522.2 191.85,507.9 192.18,523.1 192.52,507.6 192.85,523.3 193.18,507.2 193.52,523.1 193.85,511.7 194.18,525.4 194.52,510.9 194.85,525.9 195.18,509.5 195.52,524.2 195.85,511.2 196.18,524.7 196.52,509.7 196.85,524.2 197.18,509.5 197.52,522.2 197.85,509.9 198.18,523.3 198.52,508.2 198.85,519.6 199.18,508.3 199.52,518.0 199.85,503.8 200.18,517.7 200.52,506.1 200.85,517.7 201.18,506.2 201.52,518.3 201.85,504.3 202.18,517.4 202.52,507.1 202.85,521.2 203.18,507.1 203.52,519.2 203.85,504.3 204.18,518.7 204.52,505.6 204.85,519.0 205.18,505.1 205.52,516.3 205.85,502.1 206.18,518.1 206.52,503.5 206.85,518.0 207.18,504.2 207.52,518.2 207.85,505.6 208.18,518.9 208.52,505.4 208.85,519.3 209.18,507.1 209.52,521.5 209.85,504.2 210.18,519.3 210.52,506.7 210.85,522.1 211.18,504.6 211.52,516.4 211.85,503.3 212.18,517.7 212.52,503.8 212.85,519.5 213.18,504.4 213.52,517.4 213.85,503.6 214.18,517.2 214.52,504.4 214.85,518.4 215.18,503.1 215.52,518.0 215.85,503.7 216.18,517.2 216.52,505.4 216.85,519.0 217.18,506.2 217.52,521.7 217.85,505.6 218.18,521.5 218.52,508.2 218.85,521.5 219.18,501.8 219.52,519.1 219.85,507.0 220.18,518.6 220.52,507.3 220.85,523.3 221.18,507.1 221.52,523.4 221.85,507.8 222.18,518.6 222.52,502.3 222.85,522.1 223.18,508.3 223.52,519.2 223.85,506.1 224.18,518.9 224.52,507.0 224.85,520.4 225.18,505.4 225.52,520.7 225.85,507.4 226.18,518.2 226.52,506.6 226.85,525.9 227.18,508.8 227.52,519.2 227.85,508.2 228.18,521.1 228.52,507.2 228.85,521.9 229.18,510.2 229.52,523.5 229.85,510.3 230.18,522.6 230.52,511.0 230.85,522.9 231.18,508.9 231.52,523.4 231.85,510.5 232.18,526.0 232.52,509.1 232.85,521.7 233.18,509.8 233.52,521.2 233.85,506.6 234.18,521.9 234.52,508.7 234.85,523.6 235.18,510.3 235.52,523.4 235.85,509.4 236.18,524.0 236.52,509.1 236.85,522.2 237.18,508.2 237.52,527.1 237.85,506.5 238.18,526.3 238.52,513.2 238.85,524.6 239.18,512.5 239.52,523.7 239.85,512.5 240.18,523.1 240.52,511.5 240.85,523.1 241.18,512.0 241.52,522.2 241.85,508.9 242.18,521.7 242.52,510.2 242.85,526.0 243.18,511.4 243.52,524.9 243.85,511.8 244.18,523.9 244.52,512.2 244.85,524.6 245.18,513.2 245.52,528.1 245.85,514.4 246.18,527.0 246.52,515.1 246.85,529.1 247.18,515.6 247.52,528.5 247.85,515.4 248.18,525.9 248.52,510.8 248.85,527.2 249.18,512.1 249.52,525.5 249.85,507.9 250.18,526.5 250.52,514.3 250.85,526.6 251.18,514.6 251.52,527.9 251.85,513.7 252.18,526.8 252.52,514.0 252.85,526.3 253.18,514.5 253.52,525.0 253.85,512.4 254.18,526.6 254.52,510.7 254.85,527.0 255.18,512.6 255.52,525.6 255.85,513.7 256.18,528.1 256.52,513.5 256.85,526.8 257.18,513.1 257.52,525.4 257.85,512.9 258.18,525.4 258.52,511.2 258.85,524.1 259.18,509.3 259.52,524.7 259.85,510.8 260.18,525.3 260.52,512.7 260.85,524.1 261.18,511.5 261.52,525.8 261.85,511.1 262.18,524.3 262.52,512.5 262.85,525.1 263.18,513.6 263.52,524.4 263.85,512.3 264.18,524.1 264.52,512.5 264.85,523.9 265.18,513.1 265.52,526.3 265.85,510.3 266.18,521.9 266.52,510.8 266.85,524.3 267.18,506.2 267.52,521.4 267.85,507.8 268.18,520.3 268.52,508.6 268.85,520.4 269.18,511.3 269.52,523.6 269.85,508.6 270.18,525.8 270.52,507.9 270.85,520.8 271.18,510.3 271.52,520.1 271.85,507.7 272.18,519.1 272.52,507.0 272.85,518.4 273.18,505.5 273.52,518.6 273.85,508.1 274.18,519.9 274.52,506.7 274.85,519.1 275.18,505.8 275.52,520.9 275.85,504.2 276.18,520.4 276.52,505.8 276.85,517.4 277.18,505.6 277.52,519.8 277.85,505.3 278.18,518.2 278.52,505.8 278.85,517.7 279.18,505.2 279.52,516.8 279.85,503.5 280.18,516.8 280.52,504.1 280.85,517.2 281.18,502.8 281.52,517.4 281.85,506.0 282.18,518.8 282.52,505.0 282.85,518.2 283.18,507.6 283.52,522.4 283.85,508.0 284.18,519.5 284.52,507.7 284.85,524.7 285.18,508.1 285.52,520.0 285.85,508.1 286.18,518.9 286.52,508.3 286.85,519.2 287.18,506.7 287.52,519.5 287.85,508.6 288.18,522.3 288.52,507.1 288.85,521.4 289.18,508.1 289.52,523.0 289.85,508.6 290.18,521.8 290.52,506.9 290.85,521.2 291.18,508.5 291.52,521.0 291.85,507.4 292.18,520.4 292.52,508.8 292.85,522.2 293.18,509.1 293.52,521.4 293.85,506.1 294.18,522.6 294.52,507.9 294.85,522.2 295.18,510.6 295.52,522.8 295.85,506.4 296.18,527.1 296.52,509.8 296.85,527.1 297.18,508.6 297.52,520.8 297.85,510.0 298.18,521.4 298.52,509.1 298.85,522.1 299.18,507.7 299.52,524.0 299.85,510.5 300.18,522.7 300.52,507.0 300.85,522.4 301.18,509.7 301.52,523.0 301.85,508.1 302.18,522.6 302.52,511.0 302.85,522.4 303.18,508.2 303.52,524.4 303.85,510.2 304.18,521.4 304.52,508.9 304.85,522.4 305.18,510.3 305.52,524.0 305.85,509.7 306.18,524.2 306.52,506.0 306.85,523.6 307.18,508.3 307.52,523.4 307.85,511.1 308.18,522.9 308.52,508.0 308.85,524.6 309.18,509.6 309.52,522.0 309.85,511.1 310.18,522.5 310.52,510.7 310.85,523.8 311.18,509.5 311.52,524.4 311.85,509.0 312.18,523.1 312.52,510.3 312.85,522.7 313.18,507.9 313.52,525.6 313.85,508.4 314.18,522.3 314.52,509.5 314.85,526.3 315.18,510.9 315.52,525.2 315.85,511.4 316.18,525.7 316.52,510.4 316.85,526.0 317.18,512.2 317.52,528.6 317.85,511.8 318.18,524.1 318.52,509.4 318.85,524.2 319.18,507.4 319.52,525.9 319.85,511.9 320.18,523.8 320.52,511.0 320.85,525.2 321.18,511.1 321.52,524.9 321.85,512.9 322.18,526.9 322.52,512.0 322.85,525.6 323.18,512.9 323.52,525.4 323.85,512.8 324.18,525.9 324.52,511.6 324.85,527.3 325.18,513.9 325.52,527.3 325.85,514.3 326.18,527.5 326.52,513.3 326.85,528.1 327.18,514.1 327.52,531.3 327.85,515.1 328.18,528.0 328.52,514.0 328.85,529.5 329.18,514.2 329.52,529.1 329.85,516.4 330.18,529.9 330.52,513.6 330.85,527.7 331.18,514.8 331.52,526.8 331.85,512.7 332.18,528.6 332.52,513.3 332.85,526.8 333.18,512.1 333.52,525.7 333.85,512.2 334.18,529.8 334.52,513.3 334.85,525.2 335.18,513.4 335.52,527.1 335.85,514.4 336.18,529.1 336.52,509.9 336.85,524.5 337.18,510.7 337.52,525.3 337.85,499.2 338.18,523.6 338.52,508.1 338.85,522.1 339.18,508.6 339.52,523.7 339.85,509.9 340.18,523.1 340.52,512.7 340.85,524.4 341.18,506.7 341.52,526.3 341.85,510.0 342.18,525.9 342.52,511.9 342.85,524.9 343.18,511.5 343.52,524.5 343.85,513.1 344.18,524.4 344.52,509.2 344.85,526.0 345.18,511.0 345.52,524.9 345.85,512.1 346.18,523.2 346.52,510.6 346.85,522.4 347.18,509.6 347.52,523.7 347.85,510.6 348.18,522.3 348.52,509.8 348.85,521.1 349.18,507.9 349.52,521.7 349.85,509.2 350.18,527.0 350.52,509.0 350.85,526.9 351.18,511.0 351.52,522.9 351.85,508.8 352.18,523.3 352.52,508.6 352.85,521.2 353.18,509.6 353.52,520.4 353.85,508.4 354.18,521.2 354.52,508.2 354.85,523.1 355.18,511.2 355.52,523.8 355.85,510.0 356.18,524.0 356.52,505.6 356.85,523.8 357.18,512.2 357.52,524.8 357.85,510.6 358.18,525.2 358.52,512.4 358.85,523.9 359.18,510.9 359.52,524.7 359.85,511.4 360.18,524.8 360.52,510.3 360.85,522.6 361.18,507.3 361.52,523.6 361.85,511.5 362.18,522.8 362.52,509.8 362.85,523.5 363.18,511.6 363.52,524.7 363.85,511.8 364.18,523.6 364.52,512.5 364.85,526.7 365.18,510.1 365.52,523.8 365.85,512.8 366.18,523.9 366.52,510.4 366.85,525.8 367.18,511.9 367.52,523.4 367.85,509.5 368.18,522.1 368.52,509.4 368.85,521.7 369.18,509.5 369.52,521.8 369.85,507.1 370.18,523.1 370.52,503.0 370.85,520.8 371.18,510.0 371.52,522.0 371.85,510.2 372.18,524.6 372.52,510.8 372.85,522.3 373.18,507.9 373.52,528.2 373.85,508.5 374.18,521.3 374.52,510.2 374.85,524.3 375.18,510.4 375.52,521.3 375.85,505.6 376.18,521.5 376.52,509.3 376.85,523.2 377.18,511.9 377.52,523.1 377.85,509.4 378.18,522.4 378.52,510.2 378.85,524.8 379.18,511.7 379.52,522.8 379.85,509.8 380.18,524.4 380.52,511.2 380.85,524.3 381.18,509.5 381.52,524.4 381.85,509.9 382.18,526.6 382.52,508.5 382.85,523.4 383.18,511.5 383.52,523.8 383.85,510.6 384.18,528.1 384.52,512.6 384.85,527.8 385.18,511.3 385.52,523.7 385.85,512.6 386.18,524.6 386.52,508.1 386.85,524.4 387.18,513.0 387.52,524.7 387.85,509.0 388.18,526.1 388.52,512.8 388.85,526.1 389.18,513.3 389.52,524.8 389.85,510.9 390.18,525.6 390.52,511.5 390.85,524.4 391.18,512.6 391.52,529.8 391.85,511.7 392.18,524.0 392.52,510.1 392.85,525.4 393.18,512.5 393.52,526.0 393.85,510.9 394.18,523.4 394.52,510.2 394.85,522.3 395.18,509.5 395.52,527.6 395.85,508.2 396.18,522.5 396.52,508.5 396.85,523.0 397.18,508.8 397.52,521.8 397.85,509.5 398.18,527.0 398.52,511.2 398.85,525.1 399.18,511.9 399.52,524.5 399.85,511.0 400.18,526.4 400.52,509.5 400.85,525.6 401.18,509.9 401.52,522.7 401.85,509.6 402.18,521.2 402.52,510.0 402.85,522.9 403.18,510.7 403.52,521.3 403.85,504.8 404.18,524.0 404.52,510.4 404.85,522.3 405.18,508.1 405.52,525.4 405.85,511.0 406.18,522.8 406.52,507.8 406.85,521.1 407.18,509.7 407.52,522.9 407.85,508.9 408.18,521.8 408.52,507.6 408.85,518.2 409.18,507.2 409.52,522.3 409.85,504.7 410.18,518.7 410.52,506.9 410.85,520.7 411.18,506.1 411.52,521.1 411.85,506.9 412.18,523.0 412.52,508.1 412.85,522.8 413.18,509.5 413.52,524.6 413.85,510.9 414.18,525.8 414.52,506.8 414.85,521.7 415.18,510.0 415.52,521.9 415.85,508.2 416.18,523.2 416.52,509.3 416.85,522.3 417.18,506.2 417.52,523.9 417.85,508.7 418.18,522.6 418.52,510.2 418.85,522.4 419.18,510.6 419.52,521.4 419.85,509.1 420.18,520.1 420.52,507.3 420.85,521.7 421.18,507.9 421.52,518.3 421.85,503.0 422.18,520.9 422.52,506.5 422.85,519.5 423.18,503.1 423.52,519.4 423.85,505.9 424.18,517.4 424.52,504.8 424.85,517.3 425.18,504.8 425.52,521.5 425.85,505.2 426.18,522.7 426.52,505.9 426.85,520.8 427.18,506.5 427.52,519.3 427.85,506.5 428.18,517.4 428.52,505.9 428.85,515.6 429.18,502.3 429.52,518.0 429.85,506.1 430.18,517.4 430.52,505.1 430.85,518.6 431.18,502.4 431.52,519.1 431.85,501.3 432.18,516.8 432.52,506.8 432.85,522.4 433.18,506.7 433.52,517.1 433.85,506.4 434.18,518.9 434.52,505.1 434.85,519.1 435.18,506.2 435.52,520.0 435.85,507.8 436.18,518.3 436.52,502.9 436.85,519.4 437.18,505.4 437.52,517.0 437.85,506.0 438.18,520.0 438.52,505.8 438.85,516.9 439.18,504.4 439.52,517.5 439.85,505.1 440.18,520.5 440.52,503.1 440.85,518.4 441.18,506.1 441.52,526.4 441.85,506.9 442.18,519.5 442.52,506.6 442.85,518.1 443.18,505.1 443.52,519.0 443.85,503.7 444.18,522.0 444.52,506.6 444.85,517.1 445.18,504.7 445.52,517.0 445.85,505.6 446.18,516.6 446.52,504.9 446.85,517.3 447.18,499.3 447.52,518.6 447.85,504.5 448.18,521.0 448.52,506.4 448.85,520.7 449.18,505.9 449.52,518.5 449.85,506.6 450.18,519.3 450.52,503.8 450.85,517.4 451.18,505.4 451.52,516.6 451.85,505.6 452.18,521.2 452.52,505.5 452.85,517.3 453.18,504.4 453.52,519.6 453.85,506.6 454.18,518.5 454.52,508.1 454.85,522.1 455.18,508.5 455.52,520.8 455.85,508.0 456.18,520.6 456.52,506.9 456.85,519.5 457.18,507.1 457.52,522.4 457.85,506.0 458.18,519.7 458.52,505.6 458.85,522.3 459.18,507.6 459.52,520.4 459.85,509.0 460.18,522.6 460.52,506.2 460.85,520.4 461.18,507.8 461.52,521.4 461.85,506.0 462.18,523.2 462.52,509.4 462.85,523.9 463.18,508.0 463.52,522.9 463.85,509.0 464.18,523.3 464.52,502.7 464.85,520.7 465.18,507.1 465.52,520.8 465.85,508.4 466.18,521.4 466.52,506.2 466.85,523.1 467.18,507.2 467.52,520.3 467.85,506.2 468.18,523.1 468.52,509.2 468.85,520.2 469.18,506.6 469.52,519.1 469.85,506.7 470.18,528.6 470.52,507.0 470.85,524.7 471.18,509.2 471.52,521.4 471.85,509.0 472.18,521.6 472.52,510.7 472.85,532.1 473.18,507.7 473.52,520.9 473.85,509.2 474.18,524.6 474.52,509.6 474.85,523.1 475.18,508.7 475.52,522.0 475.85,509.5 476.18,522.5 476.52,510.7 476.85,524.1 477.18,509.5 477.52,523.0 477.85,508.7 478.18,520.7 478.52,509.5 478.85,521.4 479.18,510.6 479.52,523.5 479.85,508.6 480.18,522.2 480.52,507.3 480.85,521.8 481.18,509.7 481.52,522.0 481.85,510.2 482.18,521.8 482.52,510.3 482.85,523.8 483.18,508.7 483.52,524.2 483.85,507.5 484.18,522.2 484.52,508.6 484.85,527.7 485.18,509.4 485.52,521.9 485.85,509.8 486.18,520.8 486.52,508.5 486.85,520.4 487.18,509.8 487.52,520.6 487.85,509.3 488.18,521.6 488.52,509.4 488.85,520.4 489.18,506.4 489.52,519.3 489.85,507.9 490.18,519.3 490.52,507.6 490.85,521.9 491.18,509.7 491.52,520.8 491.85,508.9 492.18,520.0 492.52,508.5 492.85,522.6 493.18,508.7 493.52,521.3 493.85,508.2 494.18,519.2 494.52,507.8 494.85,521.3 495.18,508.9 495.52,519.6 495.85,507.0 496.18,519.4 496.52,508.8 496.85,519.8 497.18,509.7 497.52,525.8 497.85,508.7 498.18,522.4 498.52,506.9 498.85,522.0 499.18,509.0 499.52,522.8 499.85,509.9 500.18,522.1 500.52,510.5 500.85,525.9 501.18,510.6 501.52,525.1 501.85,511.4 502.18,523.5 502.52,510.1 502.85,523.4 503.18,508.7 503.52,526.7 503.85,510.9 504.18,522.7 504.52,511.7 504.85,526.4 505.18,509.9 505.52,523.2 505.85,511.9 506.18,523.5 506.52,509.4 506.85,524.3 507.18,510.6 507.52,524.5 507.85,512.6 508.18,525.6 508.52,509.6 508.85,525.3 509.18,511.4 509.52,525.3 509.85,511.9 510.18,525.5 510.52,511.3 510.85,524.8 511.18,511.5 511.52,524.4 511.85,511.8 512.18,523.5 512.52,509.2 512.85,525.6 513.18,511.6 513.52,524.8 513.85,511.9 514.18,525.3 514.52,511.0 514.85,526.3 515.18,510.0 515.52,524.8 515.85,509.5 516.18,524.8 516.52,509.3 516.85,522.5 517.18,508.1 517.52,524.5 517.85,509.3 518.18,523.6 518.52,507.9 518.85,523.2 519.18,510.1 519.52,524.6 519.85,510.6 520.18,525.5 520.52,512.7 520.85,529.1 521.18,512.6 521.52,527.2 521.85,511.2 522.18,527.8 522.52,512.1 522.85,526.5 523.18,514.4 523.52,527.3 523.85,513.1 524.18,527.8 524.52,514.8 524.85,529.4 525.18,511.4 525.52,529.2 525.85,512.3 526.18,526.6 526.52,507.0 526.85,526.8 527.18,513.9 527.52,525.0 527.85,513.5 528.18,525.2 528.52,513.3 528.85,525.3 529.18,508.9 529.52,522.6 529.85,510.6 530.18,523.9 530.52,512.5 530.85,523.5 531.18,512.1 531.52,526.5 531.85,511.9 532.18,526.8 532.52,510.2 532.85,525.0 533.18,513.0 533.52,524.1 533.85,511.6 534.18,525.1 534.52,509.5 534.85,524.6 535.18,510.1 535.52,522.8 535.85,510.9 536.18,522.6 536.52,506.5 536.85,520.9 537.18,508.9 537.52,524.2 537.85,509.7 538.18,522.0 538.52,507.6 538.85,524.9 539.18,509.8 539.52,522.8 539.85,509.4 540.18,525.6 540.52,506.6 540.85,521.9 541.18,510.7 541.52,521.1 541.85,506.1 542.18,523.4 542.52,500.9 542.85,522.1 543.18,508.7 543.52,524.3 543.85,510.0 544.18,524.3 544.52,508.4 544.85,526.8 545.18,511.0 545.52,523.9 545.85,512.0 546.18,521.4 546.52,507.8 546.85,523.4 547.18,510.1 547.52,519.9 547.85,501.4 548.18,520.2 548.52,502.7 548.85,524.0 549.18,507.2 549.52,520.4 549.85,506.0 550.18,519.9 550.52,508.8 550.85,520.6 551.18,509.5 551.52,521.9 551.85,506.3 552.18,524.5 552.52,506.2 552.85,520.3 553.18,508.4 553.52,524.5 553.85,505.6 554.18,521.5 554.52,510.1 554.85,520.5 555.18,508.1 555.52,520.8 555.85,504.1 556.18,521.2 556.52,510.0 556.85,520.1 557.18,508.8 557.52,520.9 557.85,507.5 558.18,524.4 558.52,508.5 558.85,520.4 559.18,508.8 559.52,522.5 559.85,509.2 560.18,520.2 560.52,506.7 560.85,520.4 561.18,507.1 561.52,520.0 561.85,506.8 562.18,519.0 562.52,502.8 562.85,525.2 563.18,508.5 563.52,520.4 563.85,506.9 564.18,519.3 564.52,507.2 564.85,520.3 565.18,508.1 565.52,521.6 565.85,508.8 566.18,522.2 566.52,502.9 566.85,521.3 567.18,508.6 567.52,520.3 567.85,510.1 568.18,525.4 568.52,507.7 568.85,520.9 569.18,508.1 569.52,522.1 569.85,511.6 570.18,523.7 570.52,510.0 570.85,522.6 571.18,511.5 571.52,522.8 571.85,508.3 572.18,521.9 572.52,510.0 572.85,525.5 573.18,511.6 573.52,523.2 573.85,508.2 574.18,523.8 574.52,509.8 574.85,522.2 575.18,512.1 575.52,522.6 575.85,512.0 576.18,527.8 576.52,511.8 576.85,522.5 577.18,511.4 577.52,522.2 577.85,507.4 578.18,528.5 578.52,510.5 578.85,526.1 579.18,511.7 579.52,522.8 579.85,512.2 580.18,526.4 580.52,511.6 580.85,529.7 581.18,513.5 581.52,526.7 581.85,512.2 582.18,525.0 582.52,511.0 582.85,525.3 583.18,510.7 583.52,524.9 583.85,507.2 584.18,525.9 584.52,510.9 584.85,522.6 585.18,510.3 585.52,525.2 585.85,510.5 586.18,522.6 586.52,511.4 586.85,524.8 587.18,510.3 587.52,522.1 587.85,509.1 588.18,523.1 588.52,508.5 588.85,523.0 589.18,507.3 589.52,523.3 589.85,510.7 590.18,522.7 590.52,510.2 590.85,524.8 591.18,509.3 591.52,527.3 591.85,509.9 592.18,522.8 592.52,506.6 592.85,521.7 593.18,508.3 593.52,521.7 593.85,509.3 594.18,522.0 594.52,506.1 594.85,523.3 595.18,509.6 595.52,520.8 595.85,510.2 596.18,521.3 596.52,508.0 596.85,523.1 597.18,508.6 597.52,524.7 597.85,507.1 598.18,520.2 598.52,504.6 598.85,523.3 599.18,509.9 599.52,522.8 599.85,510.1 600.18,520.4 600.52,509.2 600.85,520.7 601.18,507.8 601.52,520.4 601.85,507.1 602.18,519.0 602.52,505.4 602.85,520.2 603.18,504.5 603.52,519.4 603.85,506.1 604.18,518.9 604.52,508.2 604.85,519.0 605.18,506.6 605.52,519.5 605.85,505.2 606.18,521.5 606.52,505.9 606.85,518.7 607.18,507.0 607.52,518.4 607.85,506.6 608.18,518.7 608.52,507.9 608.85,519.5 609.18,506.1 609.52,519.8 609.85,506.4 610.18,520.2 610.52,499.9 610.85,519.6 611.18,503.2 611.52,518.7 611.85,506.0 612.18,519.9 612.52,506.5 612.85,517.9 613.18,506.5 613.52,519.9 613.85,506.5 614.18,519.0 614.52,506.2 614.85,520.5 615.18,508.5 615.52,519.6 615.85,508.5 616.18,520.0 616.52,509.2 616.85,524.7 617.18,510.3 617.52,522.8 617.85,507.2 618.18,521.6 618.52,509.2 618.85,522.1 619.18,508.7 619.52,520.3 619.85,505.3 620.18,522.5 620.52,509.8 620.85,522.4 621.18,511.5 621.52,524.5 621.85,507.0 622.18,525.8 622.52,511.4 622.85,522.3 623.18,507.6 623.52,522.5 623.85,508.6 624.18,522.4 624.52,510.1 624.85,520.8 625.18,508.9 625.52,528.7 625.85,507.5 626.18,521.7 626.52,509.5 626.85,521.2 627.18,507.8 627.52,522.0 627.85,510.5 628.18,521.4 628.52,510.1 628.85,524.1 629.18,510.6 629.52,523.2 629.85,511.2 630.18,525.0 630.52,510.3 630.85,522.6 631.18,508.3 631.52,523.8 631.85,512.1 632.18,523.8 632.52,512.6 632.85,522.8 633.18,512.0 633.52,523.7 633.85,510.0 634.18,523.6 634.52,511.2 634.85,526.1 635.18,504.0 635.52,522.2 635.85,509.3 636.18,524.0 636.52,509.7 636.85,522.5 637.18,509.9 637.52,522.7 637.85,507.1 638.18,523.1 638.52,509.8 638.85,528.8 639.18,512.6 639.52,525.2 639.85,511.2 640.18,524.2 640.52,503.2 640.85,524.3 641.18,510.0 641.52,523.4 641.85,511.7 642.18,522.3 642.52,512.2 642.85,523.0 643.18,509.5 643.52,524.6 643.85,512.0 644.18,523.3 644.52,510.9 644.85,525.3 645.18,508.4 645.52,527.1 645.85,513.0 646.18,523.6 646.52,512.6 646.85,528.6 647.18,509.7 647.52,525.3 647.85,510.7 648.18,524.2 648.52,504.6 648.85,524.3 649.18,507.9 649.52,521.1 649.85,508.6 650.18,524.4 650.52,509.7 650.85,522.6 651.18,510.2 651.52,523.3 651.85,509.1 652.18,525.3 652.52,510.3 652.85,520.6 653.18,507.1 653.52,522.1 653.85,508.3 654.18,521.6 654.52,507.7 654.85,522.1 655.18,509.4 655.52,520.9 655.85,505.6 656.18,522.5 656.52,509.2 656.85,524.9 657.18,509.4 657.52,519.7 657.85,508.2 658.18,521.4 658.52,509.0 658.85,519.6 659.18,508.6 659.52,520.3 659.85,508.8 660.18,522.9 660.52,507.5 660.85,521.2 661.18,507.0 661.52,520.9 661.85,508.7 662.18,524.8 662.52,508.6 662.85,520.7 663.18,507.6 663.52,520.1 663.85,504.2 664.18,521.5 664.52,509.2 664.85,521.7 665.18,508.3 665.52,521.6 665.85,510.7 666.18,524.6 666.52,509.0 666.85,522.5 667.18,508.4 667.52,522.6 667.85,506.6 668.18,522.3 668.52,505.7 668.85,523.4 669.18,509.7 669.52,522.2 669.85,508.3 670.18,523.2 670.52,509.8 670.85,523.3 671.18,509.4 671.52,523.0 671.85,510.5 672.18,522.1 672.52,508.5 672.85,522.8 673.18,511.5 673.52,523.2 673.85,509.7 674.18,522.3 674.52,511.5 674.85,522.9 675.18,511.4 675.52,523.5 675.85,510.1 676.18,524.1 676.52,510.1 676.85,523.9 677.18,508.0 677.52,521.6 677.85,506.7 678.18,522.9 678.52,510.8 678.85,523.1 679.18,511.0 679.52,524.2 679.85,510.3 680.18,526.3 680.52,510.5 680.85,524.6 681.18,513.1"/>
<path d="M92.5 501.2V519.1M111.5 501.0V520.1M120.5 510.9V531.9M128.5 501.0V529.0M143.5 508.3V528.8M154.5 499.2V545.8M161.5 504.0V521.1M171.5 504.0V531.0M180.5 507.4V529.9M195.5 511.3V528.8M259.5 502.3V540.5M270.5 505.3V520.1M287.5 504.3V528.8M305.5 500.2V532.0M323.5 507.4V536.0M349.5 477.9V540.5M383.5 503.9V532.9M421.5 496.1V531.9M438.5 499.2V517.4M449.5 503.3V517.6M543.5 511.8V531.9" stroke="#333333" stroke-width="1" fill="none"/>
<text x="120.84" y="109.8" text-anchor="middle">0.5</text>
<text x="183.14" y="109.8" text-anchor="middle">1</text>
<text x="245.44" y="109.8" text-anchor="middle">1.5</text>
<text x="307.73" y="109.8" text-anchor="middle">2</text>
<text x="370.03" y="109.8" text-anchor="middle">2.5</text>
<text x="432.32" y="109.8" text-anchor="middle">3</text>
<text x="494.62" y="109.8" text-anchor="middle">3.5</text>
<text x="556.91" y="109.8" text-anchor="middle">4</text>
<text x="619.20" y="109.8" text-anchor="middle">4.5</text>
<text x="681.50" y="109.8" text-anchor="middle">5</text>
<text x="370.02" y="123.6" text-anchor="middle" style="letter-spacing:0.18px">Time (mins)</text>
<text x="55.6" y="30.7" text-anchor="end">6</text>
<text x="55.6" y="44.7" text-anchor="end">4</text>
<text x="55.6" y="58.7" text-anchor="end">2</text>
<text x="55.6" y="72.7" text-anchor="end">0</text>
<text x="55.6" y="86.7" text-anchor="end">-2</text>
<text transform="translate(40.3,61.0) rotate(-90)" text-anchor="middle">Voltage (mV)</text>
<path d="M512.6 42.5h47.3" stroke="#ff0000" stroke-width="1" stroke-opacity="0.75"/>
<text x="563.9" y="47.0">Raw ECoG signal</text>
<text x="0.0" y="9.2" style="font-weight:bold;fill:#000;font-size:12.3px">A</text>
<text x="120.84" y="223.8" text-anchor="middle">0.5</text>
<text x="183.14" y="223.8" text-anchor="middle">1</text>
<text x="245.44" y="223.8" text-anchor="middle">1.5</text>
<text x="307.73" y="223.8" text-anchor="middle">2</text>
<text x="370.03" y="223.8" text-anchor="middle">2.5</text>
<text x="432.32" y="223.8" text-anchor="middle">3</text>
<text x="494.62" y="223.8" text-anchor="middle">3.5</text>
<text x="556.91" y="223.8" text-anchor="middle">4</text>
<text x="619.20" y="223.8" text-anchor="middle">4.5</text>
<text x="681.50" y="223.8" text-anchor="middle">5</text>
<text x="370.02" y="237.6" text-anchor="middle" style="letter-spacing:0.18px">Time (mins)</text>
<text x="55.6" y="152.2" text-anchor="end">3</text>
<text x="55.6" y="175.9" text-anchor="end">2</text>
<text x="55.6" y="199.5" text-anchor="end">1</text>
<text transform="translate(44.3,174.9) rotate(-90)" text-anchor="middle">Voltage (V)</text>
<path d="M486.8 156.3h47.3" stroke="#0000ff" stroke-width="1" stroke-opacity="0.7"/>
<text x="538.1" y="160.8">Amplified ECoG signal</text>
<text x="0.6" y="124.6" style="font-weight:bold;fill:#000;font-size:12.3px">B</text>
<text x="120.84" y="337.8" text-anchor="middle">0.5</text>
<text x="183.14" y="337.8" text-anchor="middle">1</text>
<text x="245.44" y="337.8" text-anchor="middle">1.5</text>
<text x="307.73" y="337.8" text-anchor="middle">2</text>
<text x="370.03" y="337.8" text-anchor="middle">2.5</text>
<text x="432.32" y="337.8" text-anchor="middle">3</text>
<text x="494.62" y="337.8" text-anchor="middle">3.5</text>
<text x="556.91" y="337.8" text-anchor="middle">4</text>
<text x="619.20" y="337.8" text-anchor="middle">4.5</text>
<text x="681.50" y="337.8" text-anchor="middle">5</text>
<text x="370.02" y="351.6" text-anchor="middle" style="letter-spacing:0.18px">Time (mins)</text>
<text x="55.6" y="269.5" text-anchor="end">3000</text>
<text x="55.6" y="292.7" text-anchor="end">2000</text>
<text x="55.6" y="315.9" text-anchor="end">1000</text>
<text transform="translate(23.2,288.9) rotate(-90)" text-anchor="middle">Digital Output</text>
<path d="M505.3 269.7h47.3" stroke="#2fb02f" stroke-width="1" stroke-opacity="0.75"/>
<text x="556.6" y="274.2">Cloud ECoG signal</text>
<text x="0.6" y="239.6" style="font-weight:bold;fill:#000;font-size:12.3px">C</text>
<text x="120.84" y="446.8" text-anchor="middle">0.5</text>
<text x="183.14" y="446.8" text-anchor="middle">1</text>
<text x="245.44" y="446.8" text-anchor="middle">1.5</text>
<text x="307.73" y="446.8" text-anchor="middle">2</text>
<text x="370.03" y="446.8" text-anchor="middle">2.5</text>
<text x="432.32" y="446.8" text-anchor="middle">3</text>
<text x="494.62" y="446.8" text-anchor="middle">3.5</text>
<text x="556.91" y="446.8" text-anchor="middle">4</text>
<text x="619.20" y="446.8" text-anchor="middle">4.5</text>
<text x="681.50" y="446.8" text-anchor="middle">5</text>
<text x="370.02" y="460.6" text-anchor="middle" style="letter-spacing:0.18px">Time (mins)</text>
<text x="55.6" y="377.7" text-anchor="end">3</text>
<text x="55.6" y="401.1" text-anchor="end">2</text>
<text x="55.6" y="424.4" text-anchor="end">1</text>
<text transform="translate(44.3,397.9) rotate(-90)" text-anchor="middle">Voltage (V)</text>
<path d="M505.3 379.4h47.3" stroke="#ff0000" stroke-width="1" stroke-opacity="0.75"/>
<text x="556.6" y="383.9">Raw ECoG signal</text>
<path d="M505.3 395.5h47.3" stroke="#2fb02f" stroke-width="1" stroke-opacity="0.9"/>
<text x="556.6" y="400.0">Cloud ECoG signal</text>
<text x="0.6" y="355.1" style="font-weight:bold;fill:#000;font-size:12.3px">D</text>
<text x="120.84" y="560.7" text-anchor="middle">0.5</text>
<text x="183.14" y="560.7" text-anchor="middle">1</text>
<text x="245.44" y="560.7" text-anchor="middle">1.5</text>
<text x="307.73" y="560.7" text-anchor="middle">2</text>
<text x="370.03" y="560.7" text-anchor="middle">2.5</text>
<text x="432.32" y="560.7" text-anchor="middle">3</text>
<text x="494.62" y="560.7" text-anchor="middle">3.5</text>
<text x="556.91" y="560.7" text-anchor="middle">4</text>
<text x="619.20" y="560.7" text-anchor="middle">4.5</text>
<text x="681.50" y="560.7" text-anchor="middle">5</text>
<text x="370.02" y="574.5" text-anchor="middle" style="letter-spacing:0.18px">Time (mins)</text>
<text x="55.6" y="491.7" text-anchor="end">0.4</text>
<text x="55.6" y="506.4" text-anchor="end">0.2</text>
<text x="55.6" y="521.1" text-anchor="end">0</text>
<text x="55.6" y="535.8" text-anchor="end">-0.2</text>
<text x="55.6" y="550.5" text-anchor="end">-0.4</text>
<text transform="translate(29.6,511.9) rotate(-90)" text-anchor="middle">Voltage (V)</text>
<path d="M579.7 493.1h47.3" stroke="#333333" stroke-width="1" stroke-opacity="0.95"/>
<text x="631.0" y="497.6">Noise</text>
<text x="0.6" y="460.7" style="font-weight:bold;fill:#000;font-size:12.3px">E</text>
</svg>
</body></html>
